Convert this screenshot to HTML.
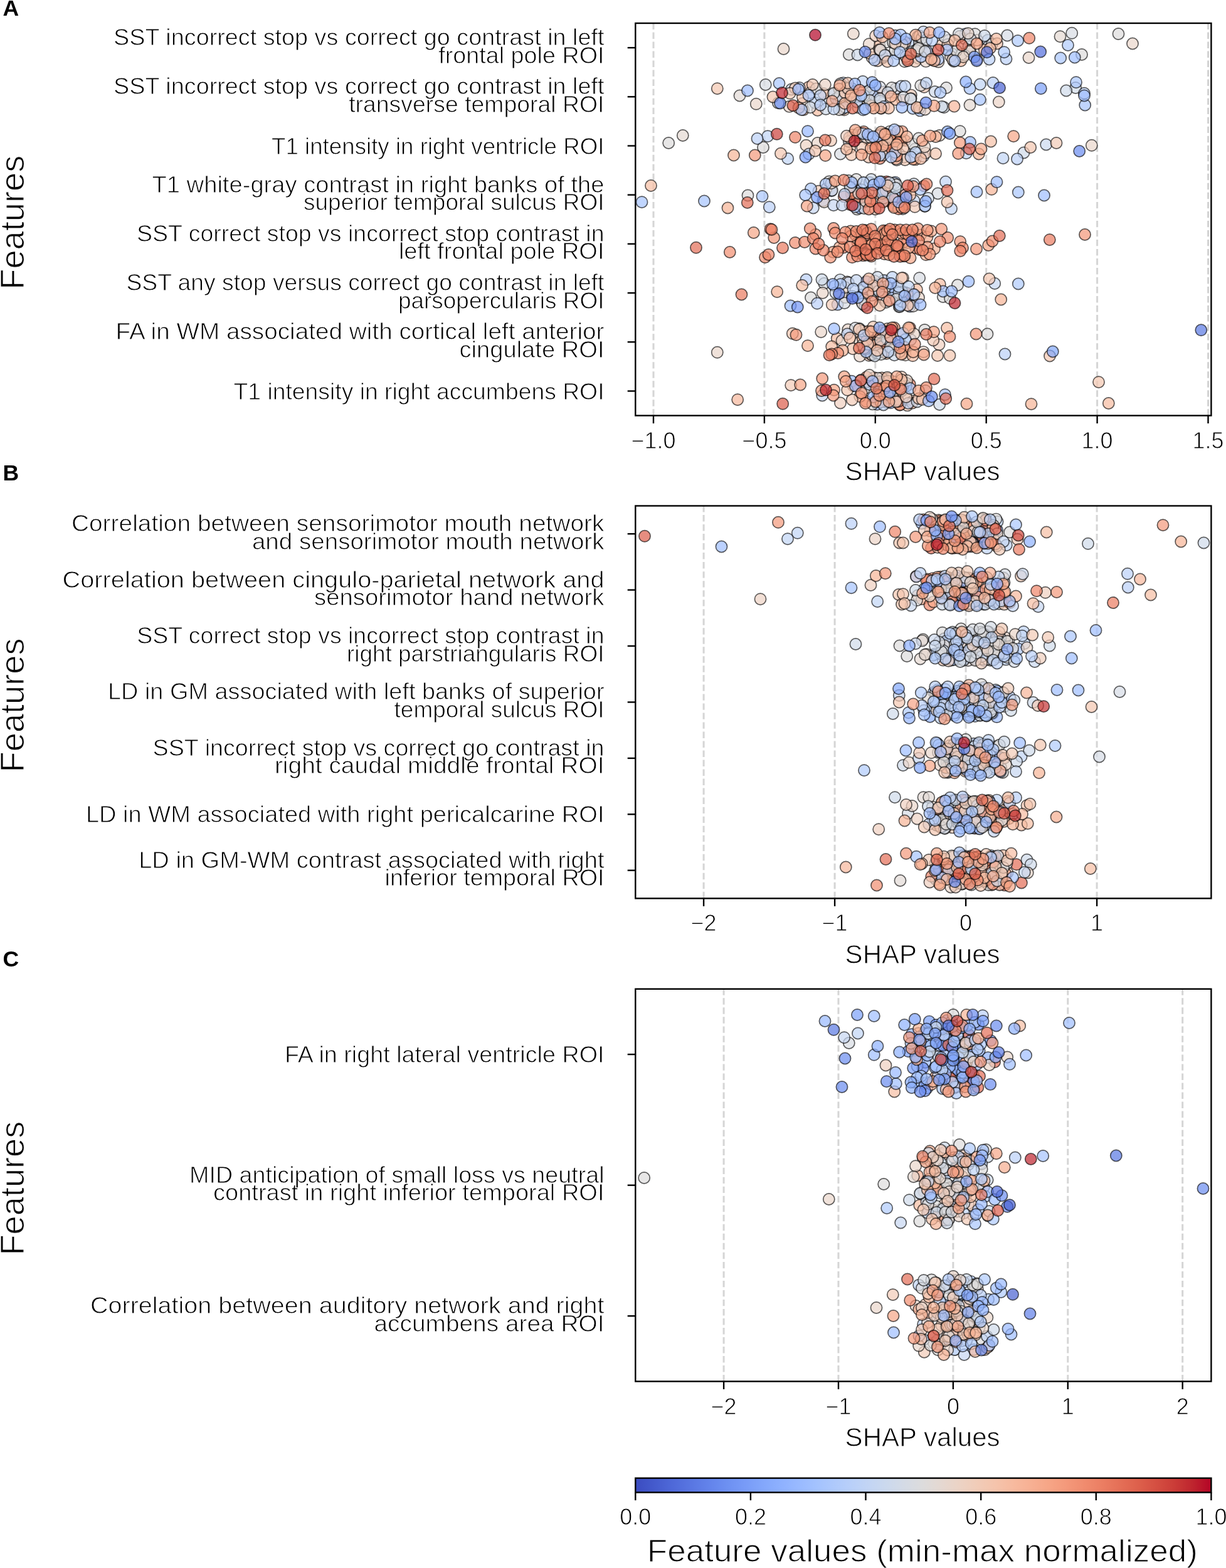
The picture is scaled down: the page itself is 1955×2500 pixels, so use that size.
<!DOCTYPE html>
<html><head><meta charset="utf-8"><title>SHAP summary</title>
<style>html,body{margin:0;padding:0;background:#fff;} svg{display:block;} body{overflow:hidden;} .t{stroke:#fff;stroke-width:0.9px;} .t2{stroke:#fff;stroke-width:1.1px;}</style>
</head><body>
<svg width="1955" height="2500" viewBox="0 0 1955 2500" font-family='"Liberation Sans", Arial, sans-serif'>
<rect width="1955" height="2500" fill="#fff"/>
<text x="4.4" y="24.6" font-size="35.5" font-weight="bold">A</text>
<text transform="translate(38.4 354.7) rotate(-90)" text-anchor="middle" font-size="53.5" textLength="214" lengthAdjust="spacingAndGlyphs" class="t2">Features</text>
<line x1="1042.0" y1="36.5" x2="1042.0" y2="662.6" stroke="#d5d5d5" stroke-width="3" stroke-dasharray="10.4 4.62"/>
<line x1="1218.9" y1="36.5" x2="1218.9" y2="662.6" stroke="#d5d5d5" stroke-width="3" stroke-dasharray="10.4 4.62"/>
<line x1="1395.8" y1="36.5" x2="1395.8" y2="662.6" stroke="#d5d5d5" stroke-width="3" stroke-dasharray="10.4 4.62"/>
<line x1="1572.7" y1="36.5" x2="1572.7" y2="662.6" stroke="#d5d5d5" stroke-width="3" stroke-dasharray="10.4 4.62"/>
<line x1="1749.6" y1="36.5" x2="1749.6" y2="662.6" stroke="#d5d5d5" stroke-width="3" stroke-dasharray="10.4 4.62"/>
<line x1="1926.5" y1="36.5" x2="1926.5" y2="662.6" stroke="#d5d5d5" stroke-width="3" stroke-dasharray="10.4 4.62"/>
<g fill-opacity="0.7" stroke="#000" stroke-opacity="0.62" stroke-width="1.7">
<circle cx="1537.9" cy="61.5" r="9.1" fill="#dddcdc"/>
<circle cx="1544.6" cy="74.1" r="9.1" fill="#cfdaea"/>
<circle cx="1402.4" cy="72.9" r="9.1" fill="#f6bda2"/>
<circle cx="1500.7" cy="72.4" r="9.1" fill="#f2cbb7"/>
<circle cx="1450.2" cy="70.1" r="9.1" fill="#c0d4f5"/>
<circle cx="1546.8" cy="80.2" r="9.1" fill="#f6bda2"/>
<circle cx="1489.2" cy="96.2" r="9.1" fill="#f6bda2"/>
<circle cx="1509.3" cy="77.2" r="9.1" fill="#cfdaea"/>
<circle cx="1479.6" cy="85.0" r="9.1" fill="#f6bda2"/>
<circle cx="1431.2" cy="85.8" r="9.1" fill="#dddcdc"/>
<circle cx="1477.6" cy="81.4" r="9.1" fill="#afcafc"/>
<circle cx="1464.6" cy="75.6" r="9.1" fill="#f2cbb7"/>
<circle cx="1407.2" cy="92.6" r="9.1" fill="#dddcdc"/>
<circle cx="1490.9" cy="94.8" r="9.1" fill="#dddcdc"/>
<circle cx="1539.4" cy="54.1" r="9.1" fill="#afcafc"/>
<circle cx="1532.2" cy="97.0" r="9.1" fill="#f6bda2"/>
<circle cx="1520.8" cy="97.8" r="9.1" fill="#dddcdc"/>
<circle cx="1465.9" cy="66.7" r="9.1" fill="#dddcdc"/>
<circle cx="1413.3" cy="67.2" r="9.1" fill="#dddcdc"/>
<circle cx="1518.6" cy="86.0" r="9.1" fill="#c0d4f5"/>
<circle cx="1454.5" cy="91.3" r="9.1" fill="#cfdaea"/>
<circle cx="1427.7" cy="56.8" r="9.1" fill="#afcafc"/>
<circle cx="1575.2" cy="64.1" r="9.1" fill="#c0d4f5"/>
<circle cx="1530.4" cy="58.0" r="9.1" fill="#f2cbb7"/>
<circle cx="1537.7" cy="87.7" r="9.1" fill="#e9d5cb"/>
<circle cx="1496.5" cy="98.6" r="9.1" fill="#e9d5cb"/>
<circle cx="1442.6" cy="98.2" r="9.1" fill="#dddcdc"/>
<circle cx="1407.4" cy="91.2" r="9.1" fill="#afcafc"/>
<circle cx="1399.6" cy="97.0" r="9.1" fill="#f2cbb7"/>
<circle cx="1464.4" cy="92.7" r="9.1" fill="#dddcdc"/>
<circle cx="1516.0" cy="90.0" r="9.1" fill="#e9d5cb"/>
<circle cx="1476.2" cy="65.8" r="9.1" fill="#dddcdc"/>
<circle cx="1512.8" cy="64.3" r="9.1" fill="#e9d5cb"/>
<circle cx="1459.5" cy="97.9" r="9.1" fill="#f2cbb7"/>
<circle cx="1558.2" cy="63.9" r="9.1" fill="#f2cbb7"/>
<circle cx="1446.7" cy="93.6" r="9.1" fill="#f6bda2"/>
<circle cx="1519.3" cy="95.5" r="9.1" fill="#e9d5cb"/>
<circle cx="1443.2" cy="67.3" r="9.1" fill="#f6bda2"/>
<circle cx="1455.0" cy="82.2" r="9.1" fill="#dddcdc"/>
<circle cx="1575.3" cy="75.0" r="9.1" fill="#dddcdc"/>
<circle cx="1427.3" cy="79.8" r="9.1" fill="#dddcdc"/>
<circle cx="1533.4" cy="86.3" r="9.1" fill="#dddcdc"/>
<circle cx="1554.7" cy="54.2" r="9.1" fill="#dddcdc"/>
<circle cx="1511.3" cy="70.9" r="9.1" fill="#f2cbb7"/>
<circle cx="1444.7" cy="90.3" r="9.1" fill="#e9d5cb"/>
<circle cx="1410.6" cy="87.2" r="9.1" fill="#f2cbb7"/>
<circle cx="1476.4" cy="97.9" r="9.1" fill="#e9d5cb"/>
<circle cx="1569.8" cy="79.6" r="9.1" fill="#f6bda2"/>
<circle cx="1463.8" cy="58.0" r="9.1" fill="#cfdaea"/>
<circle cx="1557.8" cy="95.0" r="9.1" fill="#f2cbb7"/>
<circle cx="1390.6" cy="91.8" r="9.1" fill="#e9d5cb"/>
<circle cx="1386.9" cy="85.1" r="9.1" fill="#f2cbb7"/>
<circle cx="1468.8" cy="90.5" r="9.1" fill="#afcafc"/>
<circle cx="1424.3" cy="68.0" r="9.1" fill="#dddcdc"/>
<circle cx="1402.4" cy="79.1" r="9.1" fill="#f2cbb7"/>
<circle cx="1466.2" cy="57.3" r="9.1" fill="#f6bda2"/>
<circle cx="1469.9" cy="61.0" r="9.1" fill="#dddcdc"/>
<circle cx="1462.0" cy="81.8" r="9.1" fill="#f6bda2"/>
<circle cx="1581.9" cy="70.4" r="9.1" fill="#dddcdc"/>
<circle cx="1461.4" cy="80.1" r="9.1" fill="#dddcdc"/>
<circle cx="1353.8" cy="87.0" r="9.1" fill="#dddcdc"/>
<circle cx="1403.8" cy="79.5" r="9.1" fill="#dddcdc"/>
<circle cx="1465.0" cy="77.0" r="9.1" fill="#dddcdc"/>
<circle cx="1525.0" cy="80.8" r="9.1" fill="#dddcdc"/>
<circle cx="1546.2" cy="82.0" r="9.1" fill="#dddcdc"/>
<circle cx="1725.0" cy="87.0" r="9.1" fill="#dddcdc"/>
<circle cx="1783.5" cy="54.0" r="9.1" fill="#dddcdc"/>
<circle cx="1438.8" cy="70.8" r="9.1" fill="#e2dad5"/>
<circle cx="1475.0" cy="82.0" r="9.1" fill="#d7dce3"/>
<circle cx="1477.5" cy="63.2" r="9.1" fill="#d7dce3"/>
<circle cx="1506.2" cy="59.0" r="9.1" fill="#d7dce3"/>
<circle cx="1528.8" cy="54.0" r="9.1" fill="#d7dce3"/>
<circle cx="1547.5" cy="62.0" r="9.1" fill="#d7dce3"/>
<circle cx="1709.2" cy="52.8" r="9.1" fill="#d7dce3"/>
<circle cx="1606.2" cy="56.5" r="9.1" fill="#d5dbe5"/>
<circle cx="1690.5" cy="58.2" r="9.1" fill="#e4d9d2"/>
<circle cx="1367.5" cy="87.5" r="9.1" fill="#cfdaea"/>
<circle cx="1570.0" cy="57.0" r="9.1" fill="#cfdaea"/>
<circle cx="1360.8" cy="53.8" r="9.1" fill="#e9d5cb"/>
<circle cx="1385.8" cy="70.2" r="9.1" fill="#e9d5cb"/>
<circle cx="1536.2" cy="90.8" r="9.1" fill="#e9d5cb"/>
<circle cx="1543.8" cy="53.2" r="9.1" fill="#e9d5cb"/>
<circle cx="1640.5" cy="92.0" r="9.1" fill="#e9d5cb"/>
<circle cx="1249.5" cy="78.0" r="9.1" fill="#e9d5cb"/>
<circle cx="1806.0" cy="69.5" r="9.1" fill="#e9d5cb"/>
<circle cx="1396.2" cy="57.0" r="9.1" fill="#efcfbf"/>
<circle cx="1427.5" cy="69.5" r="9.1" fill="#efcfbf"/>
<circle cx="1411.2" cy="88.2" r="9.1" fill="#c6d6f1"/>
<circle cx="1472.5" cy="50.8" r="9.1" fill="#c6d6f1"/>
<circle cx="1415.0" cy="98.2" r="9.1" fill="#f4c6af"/>
<circle cx="1486.2" cy="64.5" r="9.1" fill="#bad0f8"/>
<circle cx="1577.5" cy="94.5" r="9.1" fill="#bad0f8"/>
<circle cx="1604.5" cy="94.0" r="9.1" fill="#bad0f8"/>
<circle cx="1590.0" cy="69.5" r="9.1" fill="#f5c2aa"/>
<circle cx="1394.5" cy="95.8" r="9.1" fill="#afcafc"/>
<circle cx="1407.0" cy="59.0" r="9.1" fill="#f6bda2"/>
<circle cx="1425.0" cy="97.0" r="9.1" fill="#afcafc"/>
<circle cx="1435.0" cy="83.2" r="9.1" fill="#afcafc"/>
<circle cx="1496.2" cy="94.5" r="9.1" fill="#afcafc"/>
<circle cx="1522.5" cy="64.5" r="9.1" fill="#f6bda2"/>
<circle cx="1522.5" cy="97.0" r="9.1" fill="#afcafc"/>
<circle cx="1578.8" cy="77.0" r="9.1" fill="#f6bda2"/>
<circle cx="1588.8" cy="62.0" r="9.1" fill="#f6bda2"/>
<circle cx="1601.2" cy="83.2" r="9.1" fill="#afcafc"/>
<circle cx="1623.0" cy="65.0" r="9.1" fill="#afcafc"/>
<circle cx="1703.0" cy="72.0" r="9.1" fill="#afcafc"/>
<circle cx="1490.0" cy="97.0" r="9.1" fill="#f7ba9f"/>
<circle cx="1436.2" cy="55.8" r="9.1" fill="#a9c6fd"/>
<circle cx="1510.0" cy="79.5" r="9.1" fill="#a9c6fd"/>
<circle cx="1691.2" cy="92.5" r="9.1" fill="#a9c6fd"/>
<circle cx="1460.0" cy="55.8" r="9.1" fill="#f7b396"/>
<circle cx="1485.0" cy="94.5" r="9.1" fill="#f7b396"/>
<circle cx="1482.5" cy="52.0" r="9.1" fill="#f7ac8e"/>
<circle cx="1402.5" cy="52.0" r="9.1" fill="#9ebeff"/>
<circle cx="1427.5" cy="62.0" r="9.1" fill="#9ebeff"/>
<circle cx="1713.8" cy="91.5" r="9.1" fill="#9ebeff"/>
<circle cx="1445.0" cy="62.0" r="9.1" fill="#97b8ff"/>
<circle cx="1557.5" cy="69.5" r="9.1" fill="#f6a586"/>
<circle cx="1497.5" cy="52.0" r="9.1" fill="#8db0fe"/>
<circle cx="1417.5" cy="53.2" r="9.1" fill="#f18d6f"/>
<circle cx="1553.8" cy="90.8" r="9.1" fill="#7b9ff9"/>
<circle cx="1641.2" cy="60.8" r="9.1" fill="#ee8468"/>
<circle cx="1379.5" cy="82.8" r="9.1" fill="#6a8bef"/>
<circle cx="1447.5" cy="97.0" r="9.1" fill="#e36c55"/>
<circle cx="1452.5" cy="85.8" r="9.1" fill="#e36c55"/>
<circle cx="1533.8" cy="72.0" r="9.1" fill="#e36c55"/>
<circle cx="1557.5" cy="97.0" r="9.1" fill="#6a8bef"/>
<circle cx="1496.2" cy="79.5" r="9.1" fill="#d65244"/>
<circle cx="1573.8" cy="83.2" r="9.1" fill="#5977e3"/>
<circle cx="1659.2" cy="82.5" r="9.1" fill="#536edd"/>
<circle cx="1300.0" cy="55.8" r="9.1" fill="#b40426"/>
<circle cx="1365.5" cy="160.7" r="9.1" fill="#e9d5cb"/>
<circle cx="1344.6" cy="132.1" r="9.1" fill="#c0d4f5"/>
<circle cx="1349.5" cy="139.7" r="9.1" fill="#dddcdc"/>
<circle cx="1358.3" cy="141.3" r="9.1" fill="#afcafc"/>
<circle cx="1380.9" cy="157.5" r="9.1" fill="#e9d5cb"/>
<circle cx="1455.6" cy="173.0" r="9.1" fill="#afcafc"/>
<circle cx="1346.1" cy="175.3" r="9.1" fill="#f2cbb7"/>
<circle cx="1405.4" cy="172.7" r="9.1" fill="#f2cbb7"/>
<circle cx="1281.1" cy="175.1" r="9.1" fill="#f6bda2"/>
<circle cx="1382.0" cy="151.7" r="9.1" fill="#e9d5cb"/>
<circle cx="1368.6" cy="171.4" r="9.1" fill="#e9d5cb"/>
<circle cx="1376.7" cy="146.1" r="9.1" fill="#f7ac8e"/>
<circle cx="1403.2" cy="168.7" r="9.1" fill="#f6bda2"/>
<circle cx="1343.1" cy="166.5" r="9.1" fill="#f2cbb7"/>
<circle cx="1289.7" cy="138.9" r="9.1" fill="#f6bda2"/>
<circle cx="1327.9" cy="150.3" r="9.1" fill="#afcafc"/>
<circle cx="1388.0" cy="147.7" r="9.1" fill="#e9d5cb"/>
<circle cx="1292.3" cy="147.9" r="9.1" fill="#dddcdc"/>
<circle cx="1467.2" cy="176.4" r="9.1" fill="#afcafc"/>
<circle cx="1452.8" cy="151.6" r="9.1" fill="#f2cbb7"/>
<circle cx="1381.1" cy="154.2" r="9.1" fill="#cfdaea"/>
<circle cx="1394.7" cy="152.8" r="9.1" fill="#afcafc"/>
<circle cx="1319.7" cy="161.5" r="9.1" fill="#cfdaea"/>
<circle cx="1366.3" cy="162.5" r="9.1" fill="#c0d4f5"/>
<circle cx="1279.4" cy="165.0" r="9.1" fill="#e9d5cb"/>
<circle cx="1426.0" cy="147.3" r="9.1" fill="#f2cbb7"/>
<circle cx="1376.4" cy="175.2" r="9.1" fill="#afcafc"/>
<circle cx="1408.4" cy="146.7" r="9.1" fill="#f6bda2"/>
<circle cx="1359.4" cy="145.8" r="9.1" fill="#f6bda2"/>
<circle cx="1274.9" cy="140.0" r="9.1" fill="#c0d4f5"/>
<circle cx="1344.9" cy="154.6" r="9.1" fill="#e9d5cb"/>
<circle cx="1313.3" cy="149.2" r="9.1" fill="#f6bda2"/>
<circle cx="1258.6" cy="169.9" r="9.1" fill="#e9d5cb"/>
<circle cx="1343.7" cy="173.5" r="9.1" fill="#afcafc"/>
<circle cx="1452.7" cy="157.1" r="9.1" fill="#cfdaea"/>
<circle cx="1240.9" cy="164.2" r="9.1" fill="#dddcdc"/>
<circle cx="1377.5" cy="152.3" r="9.1" fill="#afcafc"/>
<circle cx="1273.6" cy="171.9" r="9.1" fill="#f7ac8e"/>
<circle cx="1340.0" cy="133.5" r="9.1" fill="#dddcdc"/>
<circle cx="1439.2" cy="159.7" r="9.1" fill="#f7ac8e"/>
<circle cx="1428.5" cy="158.8" r="9.1" fill="#f6bda2"/>
<circle cx="1465.7" cy="172.2" r="9.1" fill="#e9d5cb"/>
<circle cx="1386.3" cy="144.0" r="9.1" fill="#cfdaea"/>
<circle cx="1303.7" cy="175.7" r="9.1" fill="#f6bda2"/>
<circle cx="1347.8" cy="171.2" r="9.1" fill="#c0d4f5"/>
<circle cx="1473.7" cy="138.8" r="9.1" fill="#f2cbb7"/>
<circle cx="1338.3" cy="142.0" r="9.1" fill="#f2cbb7"/>
<circle cx="1301.7" cy="141.4" r="9.1" fill="#dddcdc"/>
<circle cx="1262.0" cy="142.5" r="9.1" fill="#cfdaea"/>
<circle cx="1339.4" cy="155.8" r="9.1" fill="#f2cbb7"/>
<circle cx="1333.2" cy="157.5" r="9.1" fill="#afcafc"/>
<circle cx="1428.6" cy="141.3" r="9.1" fill="#cfdaea"/>
<circle cx="1299.7" cy="163.9" r="9.1" fill="#c0d4f5"/>
<circle cx="1389.7" cy="168.5" r="9.1" fill="#f7ac8e"/>
<circle cx="1356.6" cy="156.1" r="9.1" fill="#e9d5cb"/>
<circle cx="1475.1" cy="174.5" r="9.1" fill="#e9d5cb"/>
<circle cx="1403.3" cy="161.3" r="9.1" fill="#dddcdc"/>
<circle cx="1339.1" cy="152.8" r="9.1" fill="#dddcdc"/>
<circle cx="1268.0" cy="140.5" r="9.1" fill="#f2cbb7"/>
<circle cx="1347.4" cy="147.6" r="9.1" fill="#f2cbb7"/>
<circle cx="1329.5" cy="148.8" r="9.1" fill="#dddcdc"/>
<circle cx="1387.0" cy="160.0" r="9.1" fill="#dddcdc"/>
<circle cx="1422.0" cy="140.0" r="9.1" fill="#dddcdc"/>
<circle cx="1468.2" cy="136.2" r="9.1" fill="#dddcdc"/>
<circle cx="1509.0" cy="140.0" r="9.1" fill="#dddcdc"/>
<circle cx="1179.5" cy="152.5" r="9.1" fill="#e2dad5"/>
<circle cx="1220.8" cy="135.0" r="9.1" fill="#d7dce3"/>
<circle cx="1292.0" cy="171.2" r="9.1" fill="#d7dce3"/>
<circle cx="1338.2" cy="175.0" r="9.1" fill="#e2dad5"/>
<circle cx="1440.8" cy="155.0" r="9.1" fill="#d7dce3"/>
<circle cx="1452.0" cy="157.5" r="9.1" fill="#d7dce3"/>
<circle cx="1505.2" cy="171.2" r="9.1" fill="#d7dce3"/>
<circle cx="1403.2" cy="138.8" r="9.1" fill="#d5dbe5"/>
<circle cx="1546.5" cy="167.5" r="9.1" fill="#e4d9d2"/>
<circle cx="1715.2" cy="140.0" r="9.1" fill="#d2dbe8"/>
<circle cx="1317.0" cy="173.8" r="9.1" fill="#cfdaea"/>
<circle cx="1415.8" cy="147.5" r="9.1" fill="#cfdaea"/>
<circle cx="1403.2" cy="157.5" r="9.1" fill="#cfdaea"/>
<circle cx="1490.8" cy="146.2" r="9.1" fill="#cfdaea"/>
<circle cx="1502.0" cy="170.0" r="9.1" fill="#cfdaea"/>
<circle cx="1700.2" cy="144.5" r="9.1" fill="#cfdaea"/>
<circle cx="1205.8" cy="165.8" r="9.1" fill="#e9d5cb"/>
<circle cx="1315.8" cy="135.0" r="9.1" fill="#ebd3c6"/>
<circle cx="1592.8" cy="162.5" r="9.1" fill="#ebd3c6"/>
<circle cx="1352.0" cy="141.2" r="9.1" fill="#efcfbf"/>
<circle cx="1437.0" cy="137.5" r="9.1" fill="#c6d6f1"/>
<circle cx="1259.5" cy="148.8" r="9.1" fill="#f2cbb7"/>
<circle cx="1295.8" cy="135.0" r="9.1" fill="#f2cbb7"/>
<circle cx="1308.2" cy="152.5" r="9.1" fill="#c0d4f5"/>
<circle cx="1329.5" cy="173.8" r="9.1" fill="#c0d4f5"/>
<circle cx="1375.8" cy="130.0" r="9.1" fill="#c0d4f5"/>
<circle cx="1443.2" cy="137.5" r="9.1" fill="#c0d4f5"/>
<circle cx="1477.0" cy="132.5" r="9.1" fill="#c0d4f5"/>
<circle cx="1562.8" cy="134.5" r="9.1" fill="#c0d4f5"/>
<circle cx="1143.8" cy="141.2" r="9.1" fill="#f4c6af"/>
<circle cx="1232.5" cy="154.5" r="9.1" fill="#f4c6af"/>
<circle cx="1280.0" cy="155.0" r="9.1" fill="#f4c6af"/>
<circle cx="1308.2" cy="167.5" r="9.1" fill="#bad0f8"/>
<circle cx="1352.0" cy="132.5" r="9.1" fill="#f4c6af"/>
<circle cx="1409.5" cy="170.0" r="9.1" fill="#bad0f8"/>
<circle cx="1583.5" cy="132.0" r="9.1" fill="#bad0f8"/>
<circle cx="1729.0" cy="148.8" r="9.1" fill="#bad0f8"/>
<circle cx="1278.2" cy="175.0" r="9.1" fill="#afcafc"/>
<circle cx="1289.5" cy="152.0" r="9.1" fill="#afcafc"/>
<circle cx="1373.2" cy="152.5" r="9.1" fill="#afcafc"/>
<circle cx="1417.0" cy="172.5" r="9.1" fill="#f6bda2"/>
<circle cx="1462.0" cy="171.2" r="9.1" fill="#f6bda2"/>
<circle cx="1499.5" cy="147.5" r="9.1" fill="#afcafc"/>
<circle cx="1347.0" cy="165.0" r="9.1" fill="#f7ba9f"/>
<circle cx="1404.5" cy="172.5" r="9.1" fill="#f7ba9f"/>
<circle cx="1242.5" cy="133.0" r="9.1" fill="#a9c6fd"/>
<circle cx="1546.5" cy="141.2" r="9.1" fill="#a9c6fd"/>
<circle cx="1716.0" cy="131.2" r="9.1" fill="#a9c6fd"/>
<circle cx="1521.5" cy="169.5" r="9.1" fill="#f7b79b"/>
<circle cx="1562.8" cy="158.8" r="9.1" fill="#a5c3fe"/>
<circle cx="1730.2" cy="167.5" r="9.1" fill="#a5c3fe"/>
<circle cx="1357.0" cy="152.5" r="9.1" fill="#f7b396"/>
<circle cx="1420.8" cy="153.8" r="9.1" fill="#f7b396"/>
<circle cx="1327.0" cy="161.2" r="9.1" fill="#f7ac8e"/>
<circle cx="1339.0" cy="136.2" r="9.1" fill="#f7ac8e"/>
<circle cx="1393.2" cy="172.5" r="9.1" fill="#f7ac8e"/>
<circle cx="1192.0" cy="144.5" r="9.1" fill="#9ebeff"/>
<circle cx="1273.2" cy="142.5" r="9.1" fill="#9ebeff"/>
<circle cx="1363.2" cy="133.8" r="9.1" fill="#9ebeff"/>
<circle cx="1379.5" cy="173.8" r="9.1" fill="#9ebeff"/>
<circle cx="1438.2" cy="171.2" r="9.1" fill="#9ebeff"/>
<circle cx="1729.0" cy="152.5" r="9.1" fill="#9ebeff"/>
<circle cx="1390.8" cy="131.2" r="9.1" fill="#97b8ff"/>
<circle cx="1489.5" cy="168.8" r="9.1" fill="#f6a586"/>
<circle cx="1370.8" cy="143.8" r="9.1" fill="#f4987a"/>
<circle cx="1395.8" cy="136.2" r="9.1" fill="#8db0fe"/>
<circle cx="1540.2" cy="130.5" r="9.1" fill="#8db0fe"/>
<circle cx="1659.8" cy="141.2" r="9.1" fill="#7b9ff9"/>
<circle cx="1244.0" cy="164.5" r="9.1" fill="#6a8bef"/>
<circle cx="1359.5" cy="172.5" r="9.1" fill="#e36c55"/>
<circle cx="1476.5" cy="163.8" r="9.1" fill="#6a8bef"/>
<circle cx="1264.5" cy="168.2" r="9.1" fill="#dc5d4a"/>
<circle cx="1594.0" cy="140.0" r="9.1" fill="#4961d2"/>
<circle cx="1247.0" cy="148.0" r="9.1" fill="#be242e"/>
<circle cx="1419.2" cy="209.6" r="9.1" fill="#dddcdc"/>
<circle cx="1432.2" cy="223.6" r="9.1" fill="#ee8468"/>
<circle cx="1405.7" cy="243.7" r="9.1" fill="#ee8468"/>
<circle cx="1459.7" cy="254.4" r="9.1" fill="#f7ac8e"/>
<circle cx="1427.3" cy="226.8" r="9.1" fill="#f4987a"/>
<circle cx="1385.0" cy="223.3" r="9.1" fill="#f7ac8e"/>
<circle cx="1472.3" cy="249.1" r="9.1" fill="#c0d4f5"/>
<circle cx="1443.0" cy="224.0" r="9.1" fill="#f4987a"/>
<circle cx="1418.6" cy="240.4" r="9.1" fill="#dddcdc"/>
<circle cx="1409.0" cy="238.7" r="9.1" fill="#ee8468"/>
<circle cx="1405.9" cy="225.4" r="9.1" fill="#dddcdc"/>
<circle cx="1455.8" cy="254.0" r="9.1" fill="#f7ac8e"/>
<circle cx="1410.5" cy="244.6" r="9.1" fill="#dddcdc"/>
<circle cx="1355.2" cy="235.7" r="9.1" fill="#f2cbb7"/>
<circle cx="1365.7" cy="215.8" r="9.1" fill="#f7ac8e"/>
<circle cx="1373.3" cy="213.9" r="9.1" fill="#dddcdc"/>
<circle cx="1403.1" cy="252.7" r="9.1" fill="#ee8468"/>
<circle cx="1405.3" cy="243.4" r="9.1" fill="#f7ac8e"/>
<circle cx="1360.1" cy="215.1" r="9.1" fill="#f7ac8e"/>
<circle cx="1411.8" cy="213.5" r="9.1" fill="#c0d4f5"/>
<circle cx="1410.6" cy="232.7" r="9.1" fill="#dddcdc"/>
<circle cx="1398.8" cy="247.0" r="9.1" fill="#f6bda2"/>
<circle cx="1429.0" cy="221.1" r="9.1" fill="#f7ac8e"/>
<circle cx="1368.6" cy="218.6" r="9.1" fill="#f4987a"/>
<circle cx="1381.3" cy="219.1" r="9.1" fill="#dddcdc"/>
<circle cx="1456.7" cy="248.9" r="9.1" fill="#c0d4f5"/>
<circle cx="1401.9" cy="217.3" r="9.1" fill="#f7ac8e"/>
<circle cx="1476.0" cy="243.9" r="9.1" fill="#f2cbb7"/>
<circle cx="1434.0" cy="245.7" r="9.1" fill="#c0d4f5"/>
<circle cx="1402.9" cy="224.5" r="9.1" fill="#f4987a"/>
<circle cx="1441.4" cy="250.5" r="9.1" fill="#dddcdc"/>
<circle cx="1387.9" cy="219.1" r="9.1" fill="#dddcdc"/>
<circle cx="1443.1" cy="255.0" r="9.1" fill="#f2cbb7"/>
<circle cx="1436.0" cy="224.1" r="9.1" fill="#f6bda2"/>
<circle cx="1375.2" cy="235.6" r="9.1" fill="#f2cbb7"/>
<circle cx="1432.4" cy="227.3" r="9.1" fill="#ee8468"/>
<circle cx="1355.5" cy="224.4" r="9.1" fill="#c0d4f5"/>
<circle cx="1353.8" cy="225.7" r="9.1" fill="#dddcdc"/>
<circle cx="1438.4" cy="209.6" r="9.1" fill="#f4987a"/>
<circle cx="1430.0" cy="255.2" r="9.1" fill="#dddcdc"/>
<circle cx="1419.3" cy="215.9" r="9.1" fill="#f4987a"/>
<circle cx="1427.1" cy="236.2" r="9.1" fill="#ee8468"/>
<circle cx="1415.0" cy="227.3" r="9.1" fill="#f6bda2"/>
<circle cx="1429.5" cy="235.5" r="9.1" fill="#f4987a"/>
<circle cx="1428.9" cy="253.4" r="9.1" fill="#f7ac8e"/>
<circle cx="1377.3" cy="210.0" r="9.1" fill="#f4987a"/>
<circle cx="1410.0" cy="213.3" r="9.1" fill="#f2cbb7"/>
<circle cx="1369.5" cy="211.8" r="9.1" fill="#dddcdc"/>
<circle cx="1397.0" cy="238.1" r="9.1" fill="#f6bda2"/>
<circle cx="1459.1" cy="237.6" r="9.1" fill="#dddcdc"/>
<circle cx="1429.7" cy="248.5" r="9.1" fill="#f4987a"/>
<circle cx="1354.4" cy="219.2" r="9.1" fill="#f7ac8e"/>
<circle cx="1414.4" cy="236.2" r="9.1" fill="#ee8468"/>
<circle cx="1403.6" cy="214.3" r="9.1" fill="#c0d4f5"/>
<circle cx="1407.4" cy="247.6" r="9.1" fill="#dddcdc"/>
<circle cx="1066.2" cy="228.0" r="9.1" fill="#dddcdc"/>
<circle cx="1217.0" cy="235.0" r="9.1" fill="#dddcdc"/>
<circle cx="1455.0" cy="229.2" r="9.1" fill="#dddcdc"/>
<circle cx="1465.0" cy="220.5" r="9.1" fill="#dddcdc"/>
<circle cx="1530.8" cy="209.2" r="9.1" fill="#dddcdc"/>
<circle cx="1340.0" cy="245.5" r="9.1" fill="#d7dce3"/>
<circle cx="1088.8" cy="216.0" r="9.1" fill="#e4d9d2"/>
<circle cx="1632.5" cy="243.5" r="9.1" fill="#cfdaea"/>
<circle cx="1303.8" cy="228.0" r="9.1" fill="#e9d5cb"/>
<circle cx="1474.5" cy="234.2" r="9.1" fill="#e9d5cb"/>
<circle cx="1498.2" cy="216.0" r="9.1" fill="#e9d5cb"/>
<circle cx="1740.8" cy="231.8" r="9.1" fill="#e9d5cb"/>
<circle cx="1285.5" cy="231.8" r="9.1" fill="#edd2c3"/>
<circle cx="1668.2" cy="230.5" r="9.1" fill="#cad8ef"/>
<circle cx="1350.0" cy="216.8" r="9.1" fill="#efcfbf"/>
<circle cx="1224.2" cy="217.2" r="9.1" fill="#c0d4f5"/>
<circle cx="1256.2" cy="253.0" r="9.1" fill="#c0d4f5"/>
<circle cx="1290.0" cy="245.5" r="9.1" fill="#c0d4f5"/>
<circle cx="1325.0" cy="224.2" r="9.1" fill="#f2cbb7"/>
<circle cx="1376.2" cy="213.0" r="9.1" fill="#c0d4f5"/>
<circle cx="1415.0" cy="223.0" r="9.1" fill="#f2cbb7"/>
<circle cx="1427.5" cy="243.0" r="9.1" fill="#c0d4f5"/>
<circle cx="1460.0" cy="243.0" r="9.1" fill="#c0d4f5"/>
<circle cx="1540.8" cy="244.2" r="9.1" fill="#c0d4f5"/>
<circle cx="1599.5" cy="252.2" r="9.1" fill="#c0d4f5"/>
<circle cx="1684.5" cy="228.0" r="9.1" fill="#f2cbb7"/>
<circle cx="1207.5" cy="221.0" r="9.1" fill="#bad0f8"/>
<circle cx="1245.0" cy="244.8" r="9.1" fill="#f4c6af"/>
<circle cx="1300.0" cy="240.5" r="9.1" fill="#f4c6af"/>
<circle cx="1357.5" cy="246.8" r="9.1" fill="#f4c6af"/>
<circle cx="1385.0" cy="250.5" r="9.1" fill="#f4c6af"/>
<circle cx="1402.5" cy="248.0" r="9.1" fill="#bad0f8"/>
<circle cx="1440.0" cy="236.8" r="9.1" fill="#f4c6af"/>
<circle cx="1452.5" cy="250.5" r="9.1" fill="#bad0f8"/>
<circle cx="1492.0" cy="245.0" r="9.1" fill="#f4c6af"/>
<circle cx="1622.0" cy="253.5" r="9.1" fill="#bad0f8"/>
<circle cx="1643.2" cy="235.0" r="9.1" fill="#f4c6af"/>
<circle cx="1580.0" cy="225.5" r="9.1" fill="#f5c0a7"/>
<circle cx="1350.0" cy="238.0" r="9.1" fill="#f6bda2"/>
<circle cx="1400.0" cy="216.8" r="9.1" fill="#afcafc"/>
<circle cx="1405.0" cy="210.5" r="9.1" fill="#f6bda2"/>
<circle cx="1421.2" cy="250.5" r="9.1" fill="#afcafc"/>
<circle cx="1431.2" cy="209.2" r="9.1" fill="#f6bda2"/>
<circle cx="1468.2" cy="253.0" r="9.1" fill="#f6bda2"/>
<circle cx="1407.5" cy="233.0" r="9.1" fill="#f7ba9f"/>
<circle cx="1430.0" cy="230.5" r="9.1" fill="#f7ba9f"/>
<circle cx="1446.2" cy="218.0" r="9.1" fill="#f7ba9f"/>
<circle cx="1426.2" cy="206.8" r="9.1" fill="#a9c6fd"/>
<circle cx="1170.0" cy="247.5" r="9.1" fill="#f7b396"/>
<circle cx="1492.0" cy="218.0" r="9.1" fill="#f7b396"/>
<circle cx="1560.8" cy="245.5" r="9.1" fill="#f7b396"/>
<circle cx="1388.8" cy="236.8" r="9.1" fill="#f7ac8e"/>
<circle cx="1564.5" cy="237.5" r="9.1" fill="#f7ac8e"/>
<circle cx="1383.8" cy="214.2" r="9.1" fill="#9ebeff"/>
<circle cx="1392.5" cy="218.0" r="9.1" fill="#9ebeff"/>
<circle cx="1547.0" cy="226.8" r="9.1" fill="#9ebeff"/>
<circle cx="1288.0" cy="209.2" r="9.1" fill="#97b8ff"/>
<circle cx="1316.2" cy="248.0" r="9.1" fill="#f6a586"/>
<circle cx="1363.8" cy="207.5" r="9.1" fill="#f6a586"/>
<circle cx="1373.8" cy="246.8" r="9.1" fill="#f6a586"/>
<circle cx="1411.2" cy="214.2" r="9.1" fill="#f6a586"/>
<circle cx="1470.8" cy="224.2" r="9.1" fill="#f6a586"/>
<circle cx="1483.2" cy="216.8" r="9.1" fill="#f6a586"/>
<circle cx="1616.2" cy="217.2" r="9.1" fill="#f6a586"/>
<circle cx="1530.8" cy="227.5" r="9.1" fill="#f59d7e"/>
<circle cx="1203.8" cy="247.5" r="9.1" fill="#f4987a"/>
<circle cx="1510.8" cy="210.0" r="9.1" fill="#8db0fe"/>
<circle cx="1528.2" cy="244.8" r="9.1" fill="#f4987a"/>
<circle cx="1284.5" cy="250.5" r="9.1" fill="#7b9ff9"/>
<circle cx="1514.5" cy="213.0" r="9.1" fill="#7b9ff9"/>
<circle cx="1268.0" cy="218.8" r="9.1" fill="#ee8468"/>
<circle cx="1396.2" cy="235.5" r="9.1" fill="#ee8468"/>
<circle cx="1315.8" cy="223.5" r="9.1" fill="#e8765c"/>
<circle cx="1395.0" cy="251.8" r="9.1" fill="#e36c55"/>
<circle cx="1721.2" cy="241.0" r="9.1" fill="#6a8bef"/>
<circle cx="1545.8" cy="237.5" r="9.1" fill="#dc5d4a"/>
<circle cx="1238.8" cy="213.8" r="9.1" fill="#cc403a"/>
<circle cx="1362.5" cy="225.0" r="9.1" fill="#be242e"/>
<circle cx="1325.8" cy="304.2" r="9.1" fill="#8db0fe"/>
<circle cx="1358.3" cy="297.8" r="9.1" fill="#f7ac8e"/>
<circle cx="1413.8" cy="289.6" r="9.1" fill="#d65244"/>
<circle cx="1378.9" cy="316.8" r="9.1" fill="#d65244"/>
<circle cx="1384.9" cy="305.5" r="9.1" fill="#f2cbb7"/>
<circle cx="1376.8" cy="291.8" r="9.1" fill="#cfdaea"/>
<circle cx="1427.5" cy="290.6" r="9.1" fill="#afcafc"/>
<circle cx="1395.6" cy="333.5" r="9.1" fill="#f2cbb7"/>
<circle cx="1360.3" cy="307.7" r="9.1" fill="#f2cbb7"/>
<circle cx="1361.5" cy="306.6" r="9.1" fill="#f7ac8e"/>
<circle cx="1435.7" cy="322.3" r="9.1" fill="#cfdaea"/>
<circle cx="1415.7" cy="317.2" r="9.1" fill="#f7ac8e"/>
<circle cx="1364.8" cy="297.7" r="9.1" fill="#ee8468"/>
<circle cx="1359.3" cy="323.0" r="9.1" fill="#dddcdc"/>
<circle cx="1457.3" cy="293.3" r="9.1" fill="#cfdaea"/>
<circle cx="1386.9" cy="290.9" r="9.1" fill="#8db0fe"/>
<circle cx="1353.0" cy="287.9" r="9.1" fill="#dddcdc"/>
<circle cx="1408.2" cy="304.6" r="9.1" fill="#f7ac8e"/>
<circle cx="1317.6" cy="300.9" r="9.1" fill="#f2cbb7"/>
<circle cx="1400.6" cy="293.5" r="9.1" fill="#f7ac8e"/>
<circle cx="1439.6" cy="333.2" r="9.1" fill="#dddcdc"/>
<circle cx="1363.6" cy="327.0" r="9.1" fill="#cfdaea"/>
<circle cx="1425.8" cy="292.1" r="9.1" fill="#dddcdc"/>
<circle cx="1406.0" cy="303.4" r="9.1" fill="#cfdaea"/>
<circle cx="1366.7" cy="333.6" r="9.1" fill="#dddcdc"/>
<circle cx="1366.4" cy="301.5" r="9.1" fill="#cfdaea"/>
<circle cx="1371.2" cy="331.6" r="9.1" fill="#8db0fe"/>
<circle cx="1415.7" cy="320.2" r="9.1" fill="#dddcdc"/>
<circle cx="1424.7" cy="328.4" r="9.1" fill="#f2cbb7"/>
<circle cx="1428.0" cy="313.7" r="9.1" fill="#afcafc"/>
<circle cx="1382.5" cy="315.6" r="9.1" fill="#cfdaea"/>
<circle cx="1408.4" cy="321.0" r="9.1" fill="#8db0fe"/>
<circle cx="1368.0" cy="324.8" r="9.1" fill="#dddcdc"/>
<circle cx="1444.8" cy="310.2" r="9.1" fill="#8db0fe"/>
<circle cx="1387.5" cy="320.7" r="9.1" fill="#d65244"/>
<circle cx="1366.9" cy="314.1" r="9.1" fill="#ee8468"/>
<circle cx="1443.7" cy="325.9" r="9.1" fill="#d65244"/>
<circle cx="1405.7" cy="312.1" r="9.1" fill="#f7ac8e"/>
<circle cx="1409.5" cy="315.7" r="9.1" fill="#afcafc"/>
<circle cx="1380.2" cy="320.0" r="9.1" fill="#d65244"/>
<circle cx="1322.2" cy="289.4" r="9.1" fill="#dddcdc"/>
<circle cx="1405.3" cy="289.6" r="9.1" fill="#dddcdc"/>
<circle cx="1373.8" cy="302.4" r="9.1" fill="#afcafc"/>
<circle cx="1474.7" cy="329.0" r="9.1" fill="#cfdaea"/>
<circle cx="1409.4" cy="306.6" r="9.1" fill="#cfdaea"/>
<circle cx="1444.0" cy="310.5" r="9.1" fill="#f7ac8e"/>
<circle cx="1358.1" cy="303.1" r="9.1" fill="#f2cbb7"/>
<circle cx="1378.1" cy="308.7" r="9.1" fill="#dddcdc"/>
<circle cx="1409.0" cy="303.9" r="9.1" fill="#8db0fe"/>
<circle cx="1356.7" cy="298.8" r="9.1" fill="#dddcdc"/>
<circle cx="1473.5" cy="296.5" r="9.1" fill="#d65244"/>
<circle cx="1357.5" cy="308.9" r="9.1" fill="#ee8468"/>
<circle cx="1425.2" cy="328.6" r="9.1" fill="#d65244"/>
<circle cx="1355.5" cy="326.3" r="9.1" fill="#ee8468"/>
<circle cx="1345.7" cy="313.4" r="9.1" fill="#ee8468"/>
<circle cx="1432.9" cy="333.3" r="9.1" fill="#ee8468"/>
<circle cx="1312.5" cy="320.1" r="9.1" fill="#8db0fe"/>
<circle cx="1412.5" cy="303.6" r="9.1" fill="#f7ac8e"/>
<circle cx="1429.3" cy="294.4" r="9.1" fill="#dddcdc"/>
<circle cx="1426.5" cy="317.7" r="9.1" fill="#d65244"/>
<circle cx="1192.5" cy="311.5" r="9.1" fill="#dddcdc"/>
<circle cx="1326.8" cy="303.5" r="9.1" fill="#dddcdc"/>
<circle cx="1365.5" cy="286.0" r="9.1" fill="#dddcdc"/>
<circle cx="1369.2" cy="308.5" r="9.1" fill="#dddcdc"/>
<circle cx="1378.0" cy="332.2" r="9.1" fill="#dddcdc"/>
<circle cx="1495.5" cy="308.5" r="9.1" fill="#d7dce3"/>
<circle cx="1355.5" cy="298.5" r="9.1" fill="#cfdaea"/>
<circle cx="1389.2" cy="286.0" r="9.1" fill="#cfdaea"/>
<circle cx="1418.0" cy="291.0" r="9.1" fill="#cfdaea"/>
<circle cx="1423.0" cy="314.8" r="9.1" fill="#cfdaea"/>
<circle cx="1428.0" cy="299.8" r="9.1" fill="#cfdaea"/>
<circle cx="1480.0" cy="316.0" r="9.1" fill="#cfdaea"/>
<circle cx="1314.2" cy="322.2" r="9.1" fill="#e9d5cb"/>
<circle cx="1325.5" cy="292.2" r="9.1" fill="#e9d5cb"/>
<circle cx="1380.5" cy="321.0" r="9.1" fill="#e9d5cb"/>
<circle cx="1296.8" cy="331.5" r="9.1" fill="#c6d6f1"/>
<circle cx="1329.2" cy="327.2" r="9.1" fill="#c6d6f1"/>
<circle cx="1343.0" cy="327.2" r="9.1" fill="#c6d6f1"/>
<circle cx="1406.8" cy="308.5" r="9.1" fill="#c6d6f1"/>
<circle cx="1457.5" cy="319.8" r="9.1" fill="#c6d6f1"/>
<circle cx="1305.5" cy="304.8" r="9.1" fill="#f2cbb7"/>
<circle cx="1346.8" cy="309.8" r="9.1" fill="#c0d4f5"/>
<circle cx="1376.8" cy="291.0" r="9.1" fill="#c0d4f5"/>
<circle cx="1415.5" cy="296.0" r="9.1" fill="#f2cbb7"/>
<circle cx="1458.8" cy="329.8" r="9.1" fill="#f2cbb7"/>
<circle cx="1508.0" cy="289.8" r="9.1" fill="#c0d4f5"/>
<circle cx="1517.0" cy="332.8" r="9.1" fill="#c0d4f5"/>
<circle cx="1226.8" cy="330.2" r="9.1" fill="#bad0f8"/>
<circle cx="1363.0" cy="329.8" r="9.1" fill="#bad0f8"/>
<circle cx="1510.5" cy="322.2" r="9.1" fill="#f4c6af"/>
<circle cx="1038.0" cy="296.0" r="9.1" fill="#f6bda2"/>
<circle cx="1293.0" cy="301.0" r="9.1" fill="#afcafc"/>
<circle cx="1316.8" cy="293.5" r="9.1" fill="#afcafc"/>
<circle cx="1467.5" cy="302.2" r="9.1" fill="#afcafc"/>
<circle cx="1451.2" cy="311.0" r="9.1" fill="#f6bda2"/>
<circle cx="1475.0" cy="328.5" r="9.1" fill="#afcafc"/>
<circle cx="1215.5" cy="313.0" r="9.1" fill="#a9c6fd"/>
<circle cx="1284.2" cy="311.0" r="9.1" fill="#a9c6fd"/>
<circle cx="1623.8" cy="306.5" r="9.1" fill="#a9c6fd"/>
<circle cx="1023.5" cy="322.2" r="9.1" fill="#a5c3fe"/>
<circle cx="1123.0" cy="320.5" r="9.1" fill="#a5c3fe"/>
<circle cx="1557.5" cy="306.0" r="9.1" fill="#a5c3fe"/>
<circle cx="1160.5" cy="331.5" r="9.1" fill="#f7b396"/>
<circle cx="1581.2" cy="301.8" r="9.1" fill="#f7b396"/>
<circle cx="1425.5" cy="331.0" r="9.1" fill="#f7ac8e"/>
<circle cx="1438.0" cy="331.0" r="9.1" fill="#f7ac8e"/>
<circle cx="1358.0" cy="291.0" r="9.1" fill="#9ebeff"/>
<circle cx="1393.0" cy="294.8" r="9.1" fill="#9ebeff"/>
<circle cx="1433.0" cy="322.2" r="9.1" fill="#9ebeff"/>
<circle cx="1589.5" cy="290.2" r="9.1" fill="#9ebeff"/>
<circle cx="1665.0" cy="311.5" r="9.1" fill="#9ebeff"/>
<circle cx="1286.8" cy="328.5" r="9.1" fill="#f6a586"/>
<circle cx="1331.8" cy="288.5" r="9.1" fill="#f6a586"/>
<circle cx="1408.0" cy="322.2" r="9.1" fill="#f6a586"/>
<circle cx="1403.0" cy="289.8" r="9.1" fill="#8db0fe"/>
<circle cx="1456.2" cy="297.2" r="9.1" fill="#f4987a"/>
<circle cx="1476.2" cy="321.0" r="9.1" fill="#8db0fe"/>
<circle cx="1477.5" cy="293.5" r="9.1" fill="#f18d6f"/>
<circle cx="1303.0" cy="314.8" r="9.1" fill="#7b9ff9"/>
<circle cx="1445.0" cy="314.8" r="9.1" fill="#7b9ff9"/>
<circle cx="1345.5" cy="287.2" r="9.1" fill="#ee8468"/>
<circle cx="1385.5" cy="333.5" r="9.1" fill="#ee8468"/>
<circle cx="1388.0" cy="321.0" r="9.1" fill="#ee8468"/>
<circle cx="1442.5" cy="331.0" r="9.1" fill="#ee8468"/>
<circle cx="1191.8" cy="323.0" r="9.1" fill="#e36c55"/>
<circle cx="1314.2" cy="308.5" r="9.1" fill="#e36c55"/>
<circle cx="1390.5" cy="307.2" r="9.1" fill="#e36c55"/>
<circle cx="1510.5" cy="303.5" r="9.1" fill="#e36c55"/>
<circle cx="1374.2" cy="308.5" r="9.1" fill="#dc5d4a"/>
<circle cx="1447.5" cy="296.0" r="9.1" fill="#dc5d4a"/>
<circle cx="1401.8" cy="332.2" r="9.1" fill="#d65244"/>
<circle cx="1359.2" cy="327.2" r="9.1" fill="#c53334"/>
<circle cx="1394.3" cy="396.6" r="9.1" fill="#f4987a"/>
<circle cx="1420.1" cy="382.0" r="9.1" fill="#f6a586"/>
<circle cx="1411.6" cy="368.3" r="9.1" fill="#f7ac8e"/>
<circle cx="1423.5" cy="388.6" r="9.1" fill="#f7b396"/>
<circle cx="1375.1" cy="396.6" r="9.1" fill="#f4987a"/>
<circle cx="1410.5" cy="405.1" r="9.1" fill="#f4987a"/>
<circle cx="1378.6" cy="368.4" r="9.1" fill="#f7ac8e"/>
<circle cx="1446.5" cy="387.2" r="9.1" fill="#f6a586"/>
<circle cx="1359.0" cy="410.3" r="9.1" fill="#f18d6f"/>
<circle cx="1345.1" cy="394.6" r="9.1" fill="#ee8468"/>
<circle cx="1364.4" cy="375.0" r="9.1" fill="#ee8468"/>
<circle cx="1376.7" cy="407.4" r="9.1" fill="#f18d6f"/>
<circle cx="1410.7" cy="385.4" r="9.1" fill="#f4987a"/>
<circle cx="1393.7" cy="378.5" r="9.1" fill="#f6a586"/>
<circle cx="1408.5" cy="367.7" r="9.1" fill="#f18d6f"/>
<circle cx="1460.2" cy="395.4" r="9.1" fill="#f18d6f"/>
<circle cx="1468.1" cy="374.6" r="9.1" fill="#f6a586"/>
<circle cx="1426.7" cy="366.5" r="9.1" fill="#ee8468"/>
<circle cx="1396.3" cy="381.0" r="9.1" fill="#f7ac8e"/>
<circle cx="1451.6" cy="411.2" r="9.1" fill="#f6a586"/>
<circle cx="1381.3" cy="385.9" r="9.1" fill="#ee8468"/>
<circle cx="1440.5" cy="386.3" r="9.1" fill="#f18d6f"/>
<circle cx="1384.7" cy="392.0" r="9.1" fill="#f6a586"/>
<circle cx="1390.3" cy="390.1" r="9.1" fill="#f6a586"/>
<circle cx="1453.8" cy="373.9" r="9.1" fill="#f4987a"/>
<circle cx="1412.5" cy="375.5" r="9.1" fill="#f6a586"/>
<circle cx="1380.2" cy="367.2" r="9.1" fill="#f7ac8e"/>
<circle cx="1367.6" cy="387.1" r="9.1" fill="#f6a586"/>
<circle cx="1428.5" cy="396.4" r="9.1" fill="#f7b396"/>
<circle cx="1417.9" cy="399.7" r="9.1" fill="#f7b396"/>
<circle cx="1338.7" cy="394.4" r="9.1" fill="#f7ac8e"/>
<circle cx="1402.9" cy="397.0" r="9.1" fill="#f4987a"/>
<circle cx="1356.5" cy="368.5" r="9.1" fill="#f6a586"/>
<circle cx="1375.1" cy="404.3" r="9.1" fill="#f18d6f"/>
<circle cx="1401.2" cy="382.0" r="9.1" fill="#f7b396"/>
<circle cx="1372.3" cy="398.4" r="9.1" fill="#ee8468"/>
<circle cx="1367.3" cy="408.3" r="9.1" fill="#ee8468"/>
<circle cx="1433.1" cy="393.8" r="9.1" fill="#f4987a"/>
<circle cx="1478.5" cy="377.9" r="9.1" fill="#f7ac8e"/>
<circle cx="1467.3" cy="398.3" r="9.1" fill="#ee8468"/>
<circle cx="1476.6" cy="406.3" r="9.1" fill="#f7ac8e"/>
<circle cx="1417.8" cy="406.3" r="9.1" fill="#f6a586"/>
<circle cx="1437.8" cy="372.3" r="9.1" fill="#f4987a"/>
<circle cx="1443.5" cy="371.8" r="9.1" fill="#f7ac8e"/>
<circle cx="1371.9" cy="388.1" r="9.1" fill="#f18d6f"/>
<circle cx="1328.4" cy="401.9" r="9.1" fill="#f6a586"/>
<circle cx="1419.8" cy="373.3" r="9.1" fill="#f18d6f"/>
<circle cx="1448.7" cy="374.6" r="9.1" fill="#f18d6f"/>
<circle cx="1441.2" cy="408.4" r="9.1" fill="#f4987a"/>
<circle cx="1389.3" cy="408.6" r="9.1" fill="#f18d6f"/>
<circle cx="1438.7" cy="406.8" r="9.1" fill="#f18d6f"/>
<circle cx="1381.0" cy="404.7" r="9.1" fill="#ee8468"/>
<circle cx="1410.5" cy="372.8" r="9.1" fill="#f6a586"/>
<circle cx="1414.8" cy="368.5" r="9.1" fill="#f4987a"/>
<circle cx="1381.8" cy="406.6" r="9.1" fill="#ee8468"/>
<circle cx="1490.0" cy="396.5" r="9.1" fill="#f7b396"/>
<circle cx="1485.0" cy="368.5" r="9.1" fill="#f7ac8e"/>
<circle cx="1448.8" cy="395.2" r="9.1" fill="#f7ac8e"/>
<circle cx="1201.8" cy="371.0" r="9.1" fill="#f6a586"/>
<circle cx="1576.2" cy="391.0" r="9.1" fill="#f6a586"/>
<circle cx="1234.2" cy="379.0" r="9.1" fill="#f4987a"/>
<circle cx="1300.5" cy="374.0" r="9.1" fill="#f4987a"/>
<circle cx="1463.8" cy="364.5" r="9.1" fill="#f4987a"/>
<circle cx="1478.8" cy="367.0" r="9.1" fill="#f4987a"/>
<circle cx="1501.2" cy="365.2" r="9.1" fill="#f4987a"/>
<circle cx="1478.8" cy="394.0" r="9.1" fill="#f4987a"/>
<circle cx="1482.5" cy="405.2" r="9.1" fill="#f4987a"/>
<circle cx="1531.2" cy="385.2" r="9.1" fill="#f4987a"/>
<circle cx="1324.2" cy="410.2" r="9.1" fill="#f39577"/>
<circle cx="1356.8" cy="376.5" r="9.1" fill="#f39577"/>
<circle cx="1557.0" cy="397.0" r="9.1" fill="#f39577"/>
<circle cx="1730.0" cy="374.0" r="9.1" fill="#f39577"/>
<circle cx="1163.8" cy="402.0" r="9.1" fill="#f18d6f"/>
<circle cx="1220.0" cy="410.2" r="9.1" fill="#f18d6f"/>
<circle cx="1268.0" cy="387.0" r="9.1" fill="#f18d6f"/>
<circle cx="1283.0" cy="386.0" r="9.1" fill="#f18d6f"/>
<circle cx="1291.8" cy="364.5" r="9.1" fill="#f18d6f"/>
<circle cx="1329.2" cy="364.0" r="9.1" fill="#f18d6f"/>
<circle cx="1331.8" cy="371.5" r="9.1" fill="#f18d6f"/>
<circle cx="1335.5" cy="401.5" r="9.1" fill="#f18d6f"/>
<circle cx="1348.0" cy="370.2" r="9.1" fill="#f18d6f"/>
<circle cx="1355.5" cy="394.0" r="9.1" fill="#f18d6f"/>
<circle cx="1365.5" cy="369.0" r="9.1" fill="#f18d6f"/>
<circle cx="1435.5" cy="366.5" r="9.1" fill="#f18d6f"/>
<circle cx="1511.2" cy="379.0" r="9.1" fill="#f18d6f"/>
<circle cx="1582.5" cy="384.5" r="9.1" fill="#f18d6f"/>
<circle cx="1228.5" cy="365.2" r="9.1" fill="#ee8468"/>
<circle cx="1230.5" cy="366.0" r="9.1" fill="#ee8468"/>
<circle cx="1225.5" cy="406.0" r="9.1" fill="#ee8468"/>
<circle cx="1296.8" cy="380.2" r="9.1" fill="#ee8468"/>
<circle cx="1300.5" cy="396.5" r="9.1" fill="#ee8468"/>
<circle cx="1313.0" cy="399.0" r="9.1" fill="#ee8468"/>
<circle cx="1343.0" cy="380.2" r="9.1" fill="#ee8468"/>
<circle cx="1373.0" cy="386.5" r="9.1" fill="#ee8468"/>
<circle cx="1383.0" cy="371.5" r="9.1" fill="#ee8468"/>
<circle cx="1389.2" cy="365.2" r="9.1" fill="#ee8468"/>
<circle cx="1395.5" cy="376.5" r="9.1" fill="#ee8468"/>
<circle cx="1405.5" cy="391.5" r="9.1" fill="#ee8468"/>
<circle cx="1415.5" cy="384.0" r="9.1" fill="#ee8468"/>
<circle cx="1419.2" cy="365.2" r="9.1" fill="#ee8468"/>
<circle cx="1423.0" cy="374.0" r="9.1" fill="#ee8468"/>
<circle cx="1435.5" cy="409.0" r="9.1" fill="#ee8468"/>
<circle cx="1445.0" cy="366.5" r="9.1" fill="#ee8468"/>
<circle cx="1455.0" cy="366.5" r="9.1" fill="#ee8468"/>
<circle cx="1465.0" cy="384.0" r="9.1" fill="#ee8468"/>
<circle cx="1442.5" cy="407.8" r="9.1" fill="#ee8468"/>
<circle cx="1471.2" cy="399.0" r="9.1" fill="#ee8468"/>
<circle cx="1498.8" cy="385.2" r="9.1" fill="#ee8468"/>
<circle cx="1535.0" cy="395.2" r="9.1" fill="#ee8468"/>
<circle cx="1531.2" cy="400.2" r="9.1" fill="#ee8468"/>
<circle cx="1248.0" cy="395.2" r="9.1" fill="#ea7b60"/>
<circle cx="1305.5" cy="389.0" r="9.1" fill="#ea7b60"/>
<circle cx="1364.2" cy="400.2" r="9.1" fill="#ea7b60"/>
<circle cx="1375.5" cy="366.5" r="9.1" fill="#ea7b60"/>
<circle cx="1388.0" cy="406.5" r="9.1" fill="#ea7b60"/>
<circle cx="1395.5" cy="389.0" r="9.1" fill="#ea7b60"/>
<circle cx="1399.2" cy="404.0" r="9.1" fill="#ea7b60"/>
<circle cx="1413.0" cy="399.0" r="9.1" fill="#ea7b60"/>
<circle cx="1425.5" cy="409.0" r="9.1" fill="#ea7b60"/>
<circle cx="1430.5" cy="391.5" r="9.1" fill="#ea7b60"/>
<circle cx="1673.8" cy="382.2" r="9.1" fill="#ea7b60"/>
<circle cx="1380.5" cy="397.8" r="9.1" fill="#e8765c"/>
<circle cx="1110.0" cy="394.8" r="9.1" fill="#e36c55"/>
<circle cx="1593.8" cy="376.0" r="9.1" fill="#e36c55"/>
<circle cx="1453.8" cy="385.2" r="9.1" fill="#536edd"/>
<circle cx="1435.0" cy="481.6" r="9.1" fill="#cfdaea"/>
<circle cx="1433.7" cy="471.1" r="9.1" fill="#9ebeff"/>
<circle cx="1461.9" cy="461.8" r="9.1" fill="#f6bda2"/>
<circle cx="1427.3" cy="474.6" r="9.1" fill="#c0d4f5"/>
<circle cx="1339.7" cy="446.1" r="9.1" fill="#cfdaea"/>
<circle cx="1377.5" cy="461.3" r="9.1" fill="#dddcdc"/>
<circle cx="1351.1" cy="449.4" r="9.1" fill="#e9d5cb"/>
<circle cx="1391.6" cy="451.3" r="9.1" fill="#cfdaea"/>
<circle cx="1455.7" cy="482.5" r="9.1" fill="#7b9ff9"/>
<circle cx="1388.4" cy="462.0" r="9.1" fill="#e9d5cb"/>
<circle cx="1335.6" cy="485.6" r="9.1" fill="#9ebeff"/>
<circle cx="1433.7" cy="489.3" r="9.1" fill="#dddcdc"/>
<circle cx="1390.1" cy="470.9" r="9.1" fill="#cfdaea"/>
<circle cx="1411.3" cy="448.8" r="9.1" fill="#e9d5cb"/>
<circle cx="1374.1" cy="481.6" r="9.1" fill="#f6bda2"/>
<circle cx="1347.9" cy="474.2" r="9.1" fill="#e9d5cb"/>
<circle cx="1453.0" cy="480.4" r="9.1" fill="#c0d4f5"/>
<circle cx="1443.1" cy="466.2" r="9.1" fill="#c0d4f5"/>
<circle cx="1402.7" cy="460.8" r="9.1" fill="#c0d4f5"/>
<circle cx="1410.3" cy="479.4" r="9.1" fill="#e9d5cb"/>
<circle cx="1409.8" cy="447.0" r="9.1" fill="#c0d4f5"/>
<circle cx="1379.6" cy="486.2" r="9.1" fill="#f4987a"/>
<circle cx="1401.7" cy="464.4" r="9.1" fill="#afcafc"/>
<circle cx="1419.0" cy="477.9" r="9.1" fill="#dddcdc"/>
<circle cx="1434.8" cy="485.3" r="9.1" fill="#cfdaea"/>
<circle cx="1455.7" cy="469.4" r="9.1" fill="#7b9ff9"/>
<circle cx="1430.2" cy="456.6" r="9.1" fill="#f6bda2"/>
<circle cx="1379.3" cy="487.7" r="9.1" fill="#afcafc"/>
<circle cx="1446.9" cy="467.7" r="9.1" fill="#f4987a"/>
<circle cx="1400.2" cy="453.9" r="9.1" fill="#7b9ff9"/>
<circle cx="1408.0" cy="475.5" r="9.1" fill="#f6bda2"/>
<circle cx="1412.4" cy="462.8" r="9.1" fill="#dddcdc"/>
<circle cx="1409.8" cy="467.3" r="9.1" fill="#afcafc"/>
<circle cx="1434.9" cy="488.9" r="9.1" fill="#cfdaea"/>
<circle cx="1436.0" cy="466.2" r="9.1" fill="#dddcdc"/>
<circle cx="1430.7" cy="458.2" r="9.1" fill="#cfdaea"/>
<circle cx="1381.8" cy="450.0" r="9.1" fill="#f4987a"/>
<circle cx="1416.7" cy="462.5" r="9.1" fill="#dddcdc"/>
<circle cx="1438.3" cy="480.6" r="9.1" fill="#dddcdc"/>
<circle cx="1374.5" cy="470.1" r="9.1" fill="#7b9ff9"/>
<circle cx="1347.7" cy="458.3" r="9.1" fill="#e9d5cb"/>
<circle cx="1330.9" cy="456.2" r="9.1" fill="#c0d4f5"/>
<circle cx="1392.5" cy="455.9" r="9.1" fill="#f6bda2"/>
<circle cx="1414.0" cy="456.6" r="9.1" fill="#dddcdc"/>
<circle cx="1400.8" cy="461.4" r="9.1" fill="#e9d5cb"/>
<circle cx="1450.9" cy="488.6" r="9.1" fill="#9ebeff"/>
<circle cx="1413.9" cy="479.5" r="9.1" fill="#c0d4f5"/>
<circle cx="1378.3" cy="478.3" r="9.1" fill="#dddcdc"/>
<circle cx="1438.9" cy="465.5" r="9.1" fill="#dddcdc"/>
<circle cx="1332.5" cy="466.9" r="9.1" fill="#cfdaea"/>
<circle cx="1406.3" cy="473.7" r="9.1" fill="#f4987a"/>
<circle cx="1394.4" cy="447.9" r="9.1" fill="#f6bda2"/>
<circle cx="1399.5" cy="454.8" r="9.1" fill="#c0d4f5"/>
<circle cx="1381.5" cy="448.7" r="9.1" fill="#9ebeff"/>
<circle cx="1427.9" cy="464.1" r="9.1" fill="#9ebeff"/>
<circle cx="1409.2" cy="474.1" r="9.1" fill="#cfdaea"/>
<circle cx="1422.7" cy="475.3" r="9.1" fill="#c0d4f5"/>
<circle cx="1358.9" cy="472.4" r="9.1" fill="#9ebeff"/>
<circle cx="1433.5" cy="466.8" r="9.1" fill="#cfdaea"/>
<circle cx="1401.3" cy="463.9" r="9.1" fill="#cfdaea"/>
<circle cx="1293.0" cy="474.5" r="9.1" fill="#dddcdc"/>
<circle cx="1375.5" cy="484.5" r="9.1" fill="#dddcdc"/>
<circle cx="1413.0" cy="482.0" r="9.1" fill="#dddcdc"/>
<circle cx="1429.2" cy="477.0" r="9.1" fill="#dddcdc"/>
<circle cx="1503.8" cy="473.2" r="9.1" fill="#dddcdc"/>
<circle cx="1515.0" cy="475.8" r="9.1" fill="#dddcdc"/>
<circle cx="1527.0" cy="454.5" r="9.1" fill="#dddcdc"/>
<circle cx="1314.2" cy="452.0" r="9.1" fill="#d7dce3"/>
<circle cx="1346.8" cy="483.2" r="9.1" fill="#d7dce3"/>
<circle cx="1466.2" cy="443.2" r="9.1" fill="#d7dce3"/>
<circle cx="1456.2" cy="488.2" r="9.1" fill="#e2dad5"/>
<circle cx="1310.5" cy="445.8" r="9.1" fill="#cfdaea"/>
<circle cx="1399.2" cy="442.0" r="9.1" fill="#cfdaea"/>
<circle cx="1311.8" cy="467.0" r="9.1" fill="#e9d5cb"/>
<circle cx="1465.0" cy="474.5" r="9.1" fill="#e9d5cb"/>
<circle cx="1440.0" cy="443.2" r="9.1" fill="#efcfbf"/>
<circle cx="1353.0" cy="450.8" r="9.1" fill="#c6d6f1"/>
<circle cx="1365.5" cy="447.0" r="9.1" fill="#c6d6f1"/>
<circle cx="1586.2" cy="452.0" r="9.1" fill="#c6d6f1"/>
<circle cx="1326.8" cy="485.8" r="9.1" fill="#f2cbb7"/>
<circle cx="1376.8" cy="458.2" r="9.1" fill="#c0d4f5"/>
<circle cx="1393.0" cy="455.8" r="9.1" fill="#f2cbb7"/>
<circle cx="1423.0" cy="442.0" r="9.1" fill="#c0d4f5"/>
<circle cx="1433.0" cy="457.0" r="9.1" fill="#c0d4f5"/>
<circle cx="1438.0" cy="443.2" r="9.1" fill="#f2cbb7"/>
<circle cx="1448.8" cy="457.0" r="9.1" fill="#c0d4f5"/>
<circle cx="1285.5" cy="445.8" r="9.1" fill="#bad0f8"/>
<circle cx="1303.0" cy="483.8" r="9.1" fill="#bad0f8"/>
<circle cx="1360.5" cy="460.8" r="9.1" fill="#bad0f8"/>
<circle cx="1403.0" cy="487.0" r="9.1" fill="#f4c6af"/>
<circle cx="1457.5" cy="469.5" r="9.1" fill="#bad0f8"/>
<circle cx="1447.5" cy="487.0" r="9.1" fill="#f4c6af"/>
<circle cx="1577.5" cy="444.5" r="9.1" fill="#f4c6af"/>
<circle cx="1279.2" cy="455.0" r="9.1" fill="#f6bda2"/>
<circle cx="1340.5" cy="453.2" r="9.1" fill="#afcafc"/>
<circle cx="1385.5" cy="444.5" r="9.1" fill="#f6bda2"/>
<circle cx="1435.5" cy="487.0" r="9.1" fill="#afcafc"/>
<circle cx="1498.8" cy="453.2" r="9.1" fill="#f6bda2"/>
<circle cx="1623.8" cy="452.5" r="9.1" fill="#afcafc"/>
<circle cx="1503.8" cy="464.5" r="9.1" fill="#a5c3fe"/>
<circle cx="1239.2" cy="465.2" r="9.1" fill="#f7b396"/>
<circle cx="1491.2" cy="459.0" r="9.1" fill="#f7b396"/>
<circle cx="1596.2" cy="477.5" r="9.1" fill="#f7b396"/>
<circle cx="1260.5" cy="487.5" r="9.1" fill="#9ebeff"/>
<circle cx="1368.0" cy="474.5" r="9.1" fill="#9ebeff"/>
<circle cx="1420.5" cy="452.0" r="9.1" fill="#9ebeff"/>
<circle cx="1442.5" cy="472.0" r="9.1" fill="#9ebeff"/>
<circle cx="1467.5" cy="485.8" r="9.1" fill="#9ebeff"/>
<circle cx="1517.5" cy="464.5" r="9.1" fill="#9ebeff"/>
<circle cx="1544.5" cy="448.8" r="9.1" fill="#9ebeff"/>
<circle cx="1328.0" cy="453.2" r="9.1" fill="#97b8ff"/>
<circle cx="1384.2" cy="467.0" r="9.1" fill="#f6a586"/>
<circle cx="1408.0" cy="452.0" r="9.1" fill="#f6a586"/>
<circle cx="1406.8" cy="465.8" r="9.1" fill="#f4987a"/>
<circle cx="1418.0" cy="479.5" r="9.1" fill="#f4987a"/>
<circle cx="1390.5" cy="480.8" r="9.1" fill="#f18d6f"/>
<circle cx="1182.5" cy="469.5" r="9.1" fill="#ea7b60"/>
<circle cx="1271.8" cy="489.5" r="9.1" fill="#7597f6"/>
<circle cx="1338.0" cy="468.2" r="9.1" fill="#5977e3"/>
<circle cx="1383.0" cy="490.8" r="9.1" fill="#d65244"/>
<circle cx="1359.2" cy="475.8" r="9.1" fill="#536edd"/>
<circle cx="1522.5" cy="483.2" r="9.1" fill="#be242e"/>
<circle cx="1399.7" cy="534.3" r="9.1" fill="#dddcdc"/>
<circle cx="1385.8" cy="566.8" r="9.1" fill="#f2cbb7"/>
<circle cx="1390.8" cy="545.2" r="9.1" fill="#ee8468"/>
<circle cx="1452.2" cy="541.6" r="9.1" fill="#c0d4f5"/>
<circle cx="1395.2" cy="535.0" r="9.1" fill="#f4987a"/>
<circle cx="1396.1" cy="546.8" r="9.1" fill="#f7ac8e"/>
<circle cx="1402.3" cy="558.7" r="9.1" fill="#e9d5cb"/>
<circle cx="1449.8" cy="525.2" r="9.1" fill="#ee8468"/>
<circle cx="1474.5" cy="525.9" r="9.1" fill="#dddcdc"/>
<circle cx="1371.1" cy="567.9" r="9.1" fill="#e9d5cb"/>
<circle cx="1388.6" cy="564.9" r="9.1" fill="#f2cbb7"/>
<circle cx="1334.7" cy="539.5" r="9.1" fill="#f6bda2"/>
<circle cx="1373.6" cy="534.4" r="9.1" fill="#f2cbb7"/>
<circle cx="1352.2" cy="525.5" r="9.1" fill="#e9d5cb"/>
<circle cx="1443.7" cy="559.5" r="9.1" fill="#f7ac8e"/>
<circle cx="1417.6" cy="543.1" r="9.1" fill="#f4987a"/>
<circle cx="1426.0" cy="522.5" r="9.1" fill="#f4987a"/>
<circle cx="1419.2" cy="538.3" r="9.1" fill="#c0d4f5"/>
<circle cx="1371.4" cy="545.0" r="9.1" fill="#e9d5cb"/>
<circle cx="1435.8" cy="533.5" r="9.1" fill="#f6bda2"/>
<circle cx="1380.0" cy="537.1" r="9.1" fill="#ee8468"/>
<circle cx="1413.5" cy="563.8" r="9.1" fill="#f6bda2"/>
<circle cx="1443.8" cy="566.3" r="9.1" fill="#e9d5cb"/>
<circle cx="1370.5" cy="524.0" r="9.1" fill="#dddcdc"/>
<circle cx="1409.7" cy="562.0" r="9.1" fill="#f6bda2"/>
<circle cx="1392.1" cy="549.9" r="9.1" fill="#f4987a"/>
<circle cx="1394.2" cy="553.0" r="9.1" fill="#f2cbb7"/>
<circle cx="1375.9" cy="540.3" r="9.1" fill="#f6bda2"/>
<circle cx="1390.1" cy="565.5" r="9.1" fill="#e9d5cb"/>
<circle cx="1379.4" cy="557.0" r="9.1" fill="#ee8468"/>
<circle cx="1377.6" cy="555.3" r="9.1" fill="#f4987a"/>
<circle cx="1455.5" cy="567.3" r="9.1" fill="#f6bda2"/>
<circle cx="1386.6" cy="527.7" r="9.1" fill="#f7ac8e"/>
<circle cx="1389.5" cy="548.3" r="9.1" fill="#dddcdc"/>
<circle cx="1390.0" cy="550.8" r="9.1" fill="#ee8468"/>
<circle cx="1404.6" cy="557.5" r="9.1" fill="#f4987a"/>
<circle cx="1378.1" cy="555.0" r="9.1" fill="#f7ac8e"/>
<circle cx="1394.1" cy="550.9" r="9.1" fill="#f6bda2"/>
<circle cx="1375.0" cy="550.2" r="9.1" fill="#dddcdc"/>
<circle cx="1382.2" cy="542.2" r="9.1" fill="#f4987a"/>
<circle cx="1437.1" cy="564.0" r="9.1" fill="#f2cbb7"/>
<circle cx="1404.5" cy="548.4" r="9.1" fill="#ee8468"/>
<circle cx="1374.6" cy="527.8" r="9.1" fill="#dddcdc"/>
<circle cx="1434.5" cy="560.7" r="9.1" fill="#f2cbb7"/>
<circle cx="1472.6" cy="561.1" r="9.1" fill="#e9d5cb"/>
<circle cx="1398.3" cy="563.6" r="9.1" fill="#f2cbb7"/>
<circle cx="1408.7" cy="550.7" r="9.1" fill="#dddcdc"/>
<circle cx="1415.9" cy="529.6" r="9.1" fill="#dddcdc"/>
<circle cx="1404.9" cy="553.2" r="9.1" fill="#ee8468"/>
<circle cx="1414.7" cy="541.2" r="9.1" fill="#c0d4f5"/>
<circle cx="1415.0" cy="524.3" r="9.1" fill="#f6bda2"/>
<circle cx="1400.5" cy="529.5" r="9.1" fill="#f4987a"/>
<circle cx="1384.0" cy="528.4" r="9.1" fill="#f6bda2"/>
<circle cx="1410.0" cy="561.4" r="9.1" fill="#f7ac8e"/>
<circle cx="1406.8" cy="526.9" r="9.1" fill="#ee8468"/>
<circle cx="1433.6" cy="551.2" r="9.1" fill="#f7ac8e"/>
<circle cx="1399.9" cy="562.7" r="9.1" fill="#c0d4f5"/>
<circle cx="1424.1" cy="557.8" r="9.1" fill="#e9d5cb"/>
<circle cx="1442.1" cy="553.3" r="9.1" fill="#f4987a"/>
<circle cx="1450.9" cy="522.6" r="9.1" fill="#f4987a"/>
<circle cx="1405.0" cy="565.0" r="9.1" fill="#dddcdc"/>
<circle cx="1412.5" cy="530.0" r="9.1" fill="#dddcdc"/>
<circle cx="1574.5" cy="532.5" r="9.1" fill="#dddcdc"/>
<circle cx="1363.8" cy="523.0" r="9.1" fill="#d7dce3"/>
<circle cx="1403.8" cy="542.5" r="9.1" fill="#e2dad5"/>
<circle cx="1420.0" cy="553.8" r="9.1" fill="#e2dad5"/>
<circle cx="1395.0" cy="567.5" r="9.1" fill="#cfdaea"/>
<circle cx="1426.2" cy="566.2" r="9.1" fill="#cfdaea"/>
<circle cx="1143.8" cy="561.8" r="9.1" fill="#e9d5cb"/>
<circle cx="1309.2" cy="529.2" r="9.1" fill="#e9d5cb"/>
<circle cx="1342.5" cy="543.0" r="9.1" fill="#e9d5cb"/>
<circle cx="1457.5" cy="532.5" r="9.1" fill="#e9d5cb"/>
<circle cx="1383.8" cy="548.8" r="9.1" fill="#efcfbf"/>
<circle cx="1497.5" cy="549.5" r="9.1" fill="#efcfbf"/>
<circle cx="1351.2" cy="532.5" r="9.1" fill="#c0d4f5"/>
<circle cx="1392.5" cy="521.2" r="9.1" fill="#f2cbb7"/>
<circle cx="1416.2" cy="561.2" r="9.1" fill="#c0d4f5"/>
<circle cx="1443.8" cy="541.2" r="9.1" fill="#c0d4f5"/>
<circle cx="1488.2" cy="542.5" r="9.1" fill="#f2cbb7"/>
<circle cx="1263.8" cy="531.8" r="9.1" fill="#f4c6af"/>
<circle cx="1360.0" cy="556.2" r="9.1" fill="#f4c6af"/>
<circle cx="1370.0" cy="525.0" r="9.1" fill="#f4c6af"/>
<circle cx="1377.5" cy="535.0" r="9.1" fill="#bad0f8"/>
<circle cx="1398.8" cy="558.8" r="9.1" fill="#f4c6af"/>
<circle cx="1495.0" cy="567.0" r="9.1" fill="#f4c6af"/>
<circle cx="1514.5" cy="566.8" r="9.1" fill="#f4c6af"/>
<circle cx="1602.5" cy="564.5" r="9.1" fill="#bad0f8"/>
<circle cx="1674.0" cy="567.5" r="9.1" fill="#f4c6af"/>
<circle cx="1326.2" cy="552.5" r="9.1" fill="#f6bda2"/>
<circle cx="1355.0" cy="538.8" r="9.1" fill="#f6bda2"/>
<circle cx="1381.2" cy="561.2" r="9.1" fill="#afcafc"/>
<circle cx="1440.0" cy="531.2" r="9.1" fill="#afcafc"/>
<circle cx="1448.8" cy="522.5" r="9.1" fill="#f6bda2"/>
<circle cx="1510.0" cy="523.0" r="9.1" fill="#f6bda2"/>
<circle cx="1288.0" cy="551.2" r="9.1" fill="#f7b396"/>
<circle cx="1343.8" cy="558.8" r="9.1" fill="#f7b396"/>
<circle cx="1437.5" cy="565.0" r="9.1" fill="#f7b396"/>
<circle cx="1456.2" cy="561.2" r="9.1" fill="#f7b396"/>
<circle cx="1388.8" cy="528.8" r="9.1" fill="#f7ac8e"/>
<circle cx="1420.0" cy="537.5" r="9.1" fill="#f7ac8e"/>
<circle cx="1330.0" cy="524.2" r="9.1" fill="#9ebeff"/>
<circle cx="1422.5" cy="522.5" r="9.1" fill="#f6a586"/>
<circle cx="1489.0" cy="529.2" r="9.1" fill="#f6a586"/>
<circle cx="1473.2" cy="565.5" r="9.1" fill="#f6a586"/>
<circle cx="1269.5" cy="533.8" r="9.1" fill="#f4987a"/>
<circle cx="1402.5" cy="522.5" r="9.1" fill="#8db0fe"/>
<circle cx="1435.0" cy="555.0" r="9.1" fill="#f4987a"/>
<circle cx="1458.8" cy="548.8" r="9.1" fill="#f4987a"/>
<circle cx="1556.5" cy="532.5" r="9.1" fill="#f39577"/>
<circle cx="1336.2" cy="563.0" r="9.1" fill="#f18d6f"/>
<circle cx="1514.5" cy="536.8" r="9.1" fill="#f18d6f"/>
<circle cx="1678.8" cy="560.5" r="9.1" fill="#82a6fb"/>
<circle cx="1432.5" cy="545.0" r="9.1" fill="#7b9ff9"/>
<circle cx="1326.2" cy="564.5" r="9.1" fill="#ee8468"/>
<circle cx="1322.5" cy="566.2" r="9.1" fill="#ea7b60"/>
<circle cx="1477.0" cy="533.0" r="9.1" fill="#ea7b60"/>
<circle cx="1370.0" cy="555.0" r="9.1" fill="#e36c55"/>
<circle cx="1915.3" cy="526.3" r="9.1" fill="#5977e3"/>
<circle cx="1421.2" cy="526.2" r="9.1" fill="#be242e"/>
<circle cx="1450.9" cy="612.8" r="9.1" fill="#ee8468"/>
<circle cx="1381.2" cy="640.1" r="9.1" fill="#f4987a"/>
<circle cx="1406.7" cy="635.2" r="9.1" fill="#ee8468"/>
<circle cx="1436.6" cy="617.2" r="9.1" fill="#dddcdc"/>
<circle cx="1414.2" cy="641.8" r="9.1" fill="#f4987a"/>
<circle cx="1446.8" cy="646.4" r="9.1" fill="#f2cbb7"/>
<circle cx="1423.8" cy="612.6" r="9.1" fill="#f4987a"/>
<circle cx="1420.5" cy="642.2" r="9.1" fill="#9ebeff"/>
<circle cx="1434.7" cy="618.6" r="9.1" fill="#f4987a"/>
<circle cx="1402.0" cy="640.3" r="9.1" fill="#c0d4f5"/>
<circle cx="1401.5" cy="617.4" r="9.1" fill="#9ebeff"/>
<circle cx="1434.7" cy="645.8" r="9.1" fill="#f4987a"/>
<circle cx="1377.7" cy="620.5" r="9.1" fill="#dddcdc"/>
<circle cx="1404.1" cy="624.1" r="9.1" fill="#ee8468"/>
<circle cx="1402.1" cy="612.1" r="9.1" fill="#f7ac8e"/>
<circle cx="1398.9" cy="644.7" r="9.1" fill="#9ebeff"/>
<circle cx="1437.6" cy="601.0" r="9.1" fill="#f2cbb7"/>
<circle cx="1444.7" cy="610.8" r="9.1" fill="#dddcdc"/>
<circle cx="1400.3" cy="631.1" r="9.1" fill="#f6bda2"/>
<circle cx="1435.2" cy="645.3" r="9.1" fill="#f4987a"/>
<circle cx="1446.9" cy="636.7" r="9.1" fill="#f2cbb7"/>
<circle cx="1393.5" cy="602.1" r="9.1" fill="#f4987a"/>
<circle cx="1403.6" cy="637.0" r="9.1" fill="#f6bda2"/>
<circle cx="1418.6" cy="620.1" r="9.1" fill="#f2cbb7"/>
<circle cx="1444.9" cy="615.8" r="9.1" fill="#9ebeff"/>
<circle cx="1431.3" cy="636.6" r="9.1" fill="#f2cbb7"/>
<circle cx="1411.2" cy="605.1" r="9.1" fill="#f2cbb7"/>
<circle cx="1403.6" cy="632.8" r="9.1" fill="#f4987a"/>
<circle cx="1416.5" cy="603.8" r="9.1" fill="#f6bda2"/>
<circle cx="1418.5" cy="634.8" r="9.1" fill="#f4987a"/>
<circle cx="1406.2" cy="602.4" r="9.1" fill="#f6bda2"/>
<circle cx="1404.4" cy="614.6" r="9.1" fill="#f2cbb7"/>
<circle cx="1381.9" cy="608.7" r="9.1" fill="#f7ac8e"/>
<circle cx="1411.2" cy="608.9" r="9.1" fill="#9ebeff"/>
<circle cx="1403.2" cy="608.4" r="9.1" fill="#ee8468"/>
<circle cx="1360.6" cy="615.2" r="9.1" fill="#f4987a"/>
<circle cx="1425.4" cy="608.8" r="9.1" fill="#f4987a"/>
<circle cx="1415.7" cy="607.7" r="9.1" fill="#f7ac8e"/>
<circle cx="1400.4" cy="625.3" r="9.1" fill="#9ebeff"/>
<circle cx="1386.8" cy="613.0" r="9.1" fill="#c0d4f5"/>
<circle cx="1371.2" cy="632.2" r="9.1" fill="#f7ac8e"/>
<circle cx="1456.2" cy="639.1" r="9.1" fill="#f2cbb7"/>
<circle cx="1391.5" cy="644.4" r="9.1" fill="#dddcdc"/>
<circle cx="1399.8" cy="628.8" r="9.1" fill="#ee8468"/>
<circle cx="1392.2" cy="608.6" r="9.1" fill="#ee8468"/>
<circle cx="1358.0" cy="607.8" r="9.1" fill="#9ebeff"/>
<circle cx="1414.9" cy="628.4" r="9.1" fill="#f2cbb7"/>
<circle cx="1439.2" cy="616.1" r="9.1" fill="#ee8468"/>
<circle cx="1381.9" cy="601.1" r="9.1" fill="#ee8468"/>
<circle cx="1434.6" cy="613.7" r="9.1" fill="#f4987a"/>
<circle cx="1404.5" cy="641.1" r="9.1" fill="#f7ac8e"/>
<circle cx="1473.6" cy="633.8" r="9.1" fill="#f4987a"/>
<circle cx="1432.7" cy="640.0" r="9.1" fill="#ee8468"/>
<circle cx="1410.5" cy="619.8" r="9.1" fill="#f7ac8e"/>
<circle cx="1373.3" cy="605.8" r="9.1" fill="#dddcdc"/>
<circle cx="1365.6" cy="614.7" r="9.1" fill="#f4987a"/>
<circle cx="1437.8" cy="623.2" r="9.1" fill="#dddcdc"/>
<circle cx="1358.8" cy="637.5" r="9.1" fill="#f2cbb7"/>
<circle cx="1454.8" cy="642.6" r="9.1" fill="#f6bda2"/>
<circle cx="1448.4" cy="642.9" r="9.1" fill="#c0d4f5"/>
<circle cx="1400.0" cy="603.0" r="9.1" fill="#dddcdc"/>
<circle cx="1462.5" cy="640.5" r="9.1" fill="#cfdaea"/>
<circle cx="1475.8" cy="623.0" r="9.1" fill="#cfdaea"/>
<circle cx="1498.2" cy="645.0" r="9.1" fill="#cfdaea"/>
<circle cx="1386.2" cy="598.0" r="9.1" fill="#e9d5cb"/>
<circle cx="1428.8" cy="640.5" r="9.1" fill="#e9d5cb"/>
<circle cx="1446.2" cy="606.8" r="9.1" fill="#e9d5cb"/>
<circle cx="1340.0" cy="642.5" r="9.1" fill="#efcfbf"/>
<circle cx="1445.0" cy="633.0" r="9.1" fill="#efcfbf"/>
<circle cx="1311.2" cy="630.5" r="9.1" fill="#c6d6f1"/>
<circle cx="1261.2" cy="614.2" r="9.1" fill="#f2cbb7"/>
<circle cx="1408.8" cy="645.5" r="9.1" fill="#c0d4f5"/>
<circle cx="1415.0" cy="601.8" r="9.1" fill="#f2cbb7"/>
<circle cx="1351.2" cy="621.8" r="9.1" fill="#f4c6af"/>
<circle cx="1465.0" cy="635.5" r="9.1" fill="#f4c6af"/>
<circle cx="1470.8" cy="636.8" r="9.1" fill="#f4c6af"/>
<circle cx="1752.0" cy="609.2" r="9.1" fill="#f4c6af"/>
<circle cx="1437.5" cy="605.5" r="9.1" fill="#f6bda2"/>
<circle cx="1451.2" cy="619.2" r="9.1" fill="#afcafc"/>
<circle cx="1767.8" cy="643.0" r="9.1" fill="#f7ba9f"/>
<circle cx="1176.2" cy="637.2" r="9.1" fill="#f7b79b"/>
<circle cx="1507.0" cy="629.2" r="9.1" fill="#a5c3fe"/>
<circle cx="1644.5" cy="644.2" r="9.1" fill="#f7b396"/>
<circle cx="1417.5" cy="640.5" r="9.1" fill="#f7ac8e"/>
<circle cx="1430.0" cy="600.5" r="9.1" fill="#f7ac8e"/>
<circle cx="1363.8" cy="615.5" r="9.1" fill="#9ebeff"/>
<circle cx="1391.2" cy="608.0" r="9.1" fill="#9ebeff"/>
<circle cx="1392.5" cy="633.0" r="9.1" fill="#9ebeff"/>
<circle cx="1480.8" cy="639.2" r="9.1" fill="#9ebeff"/>
<circle cx="1276.2" cy="613.5" r="9.1" fill="#f6a586"/>
<circle cx="1330.0" cy="621.8" r="9.1" fill="#f6a586"/>
<circle cx="1346.2" cy="600.5" r="9.1" fill="#f6a586"/>
<circle cx="1348.8" cy="608.0" r="9.1" fill="#f6a586"/>
<circle cx="1396.2" cy="640.5" r="9.1" fill="#f6a586"/>
<circle cx="1465.0" cy="623.0" r="9.1" fill="#f6a586"/>
<circle cx="1541.5" cy="643.8" r="9.1" fill="#f6a586"/>
<circle cx="1311.2" cy="603.5" r="9.1" fill="#f4987a"/>
<circle cx="1310.0" cy="623.0" r="9.1" fill="#f4987a"/>
<circle cx="1328.8" cy="630.5" r="9.1" fill="#f4987a"/>
<circle cx="1373.8" cy="626.8" r="9.1" fill="#f4987a"/>
<circle cx="1380.0" cy="643.0" r="9.1" fill="#f4987a"/>
<circle cx="1402.5" cy="630.5" r="9.1" fill="#f4987a"/>
<circle cx="1413.8" cy="615.5" r="9.1" fill="#f4987a"/>
<circle cx="1418.8" cy="625.5" r="9.1" fill="#8db0fe"/>
<circle cx="1477.0" cy="618.0" r="9.1" fill="#f18d6f"/>
<circle cx="1397.5" cy="619.2" r="9.1" fill="#ee8468"/>
<circle cx="1436.2" cy="620.5" r="9.1" fill="#ee8468"/>
<circle cx="1489.5" cy="604.2" r="9.1" fill="#e36c55"/>
<circle cx="1485.8" cy="632.5" r="9.1" fill="#6a8bef"/>
<circle cx="1508.2" cy="635.5" r="9.1" fill="#e36c55"/>
<circle cx="1248.2" cy="643.8" r="9.1" fill="#dc5d4a"/>
<circle cx="1372.5" cy="606.8" r="9.1" fill="#dc5d4a"/>
<circle cx="1426.2" cy="614.2" r="9.1" fill="#d65244"/>
<circle cx="1317.0" cy="621.8" r="9.1" fill="#be242e"/>
</g>
<rect x="1013.3" y="37.0" width="918.1" height="625.6" fill="none" stroke="#000" stroke-width="2.4"/>
<line x1="1000.7" y1="76.1" x2="1013.3" y2="76.1" stroke="#000" stroke-width="2.4"/>
<text x="181.1" y="72.0" font-size="36" textLength="782.4" lengthAdjust="spacingAndGlyphs" class="t">SST incorrect stop vs correct go contrast in left</text>
<text x="699.2" y="100.6" font-size="36" textLength="264.3" lengthAdjust="spacingAndGlyphs" class="t">frontal pole ROI</text>
<line x1="1000.7" y1="154.3" x2="1013.3" y2="154.3" stroke="#000" stroke-width="2.4"/>
<text x="181.1" y="150.2" font-size="36" textLength="782.4" lengthAdjust="spacingAndGlyphs" class="t">SST incorrect stop vs correct go contrast in left</text>
<text x="556.2" y="178.8" font-size="36" textLength="407.3" lengthAdjust="spacingAndGlyphs" class="t">transverse temporal ROI</text>
<line x1="1000.7" y1="232.5" x2="1013.3" y2="232.5" stroke="#000" stroke-width="2.4"/>
<text x="433.0" y="245.5" font-size="36" textLength="530.5" lengthAdjust="spacingAndGlyphs" class="t">T1 intensity in right ventricle ROI</text>
<line x1="1000.7" y1="310.7" x2="1013.3" y2="310.7" stroke="#000" stroke-width="2.4"/>
<text x="242.5" y="306.6" font-size="36" textLength="721.0" lengthAdjust="spacingAndGlyphs" class="t">T1 white-gray contrast in right banks of the</text>
<text x="484.0" y="335.2" font-size="36" textLength="479.5" lengthAdjust="spacingAndGlyphs" class="t">superior temporal sulcus ROI</text>
<line x1="1000.7" y1="388.9" x2="1013.3" y2="388.9" stroke="#000" stroke-width="2.4"/>
<text x="218.0" y="384.8" font-size="36" textLength="745.5" lengthAdjust="spacingAndGlyphs" class="t">SST correct stop vs incorrect stop contrast in</text>
<text x="635.9" y="413.4" font-size="36" textLength="327.6" lengthAdjust="spacingAndGlyphs" class="t">left frontal pole ROI</text>
<line x1="1000.7" y1="467.1" x2="1013.3" y2="467.1" stroke="#000" stroke-width="2.4"/>
<text x="201.4" y="463.0" font-size="36" textLength="762.1" lengthAdjust="spacingAndGlyphs" class="t">SST any stop versus correct go contrast in left</text>
<text x="634.9" y="491.6" font-size="36" textLength="328.6" lengthAdjust="spacingAndGlyphs" class="t">parsopercularis ROI</text>
<line x1="1000.7" y1="545.3" x2="1013.3" y2="545.3" stroke="#000" stroke-width="2.4"/>
<text x="184.6" y="541.2" font-size="36" textLength="778.9" lengthAdjust="spacingAndGlyphs" class="t">FA in WM associated with cortical left anterior</text>
<text x="732.5" y="569.8" font-size="36" textLength="231.0" lengthAdjust="spacingAndGlyphs" class="t">cingulate ROI</text>
<line x1="1000.7" y1="623.5" x2="1013.3" y2="623.5" stroke="#000" stroke-width="2.4"/>
<text x="372.5" y="636.5" font-size="36" textLength="591.0" lengthAdjust="spacingAndGlyphs" class="t">T1 intensity in right accumbens ROI</text>
<line x1="1042.0" y1="662.6" x2="1042.0" y2="675.1" stroke="#000" stroke-width="2.4"/>
<text x="1042.0" y="714.6" font-size="36" text-anchor="middle" class="t">−1.0</text>
<line x1="1218.9" y1="662.6" x2="1218.9" y2="675.1" stroke="#000" stroke-width="2.4"/>
<text x="1218.9" y="714.6" font-size="36" text-anchor="middle" class="t">−0.5</text>
<line x1="1395.8" y1="662.6" x2="1395.8" y2="675.1" stroke="#000" stroke-width="2.4"/>
<text x="1395.8" y="714.6" font-size="36" text-anchor="middle" class="t">0.0</text>
<line x1="1572.7" y1="662.6" x2="1572.7" y2="675.1" stroke="#000" stroke-width="2.4"/>
<text x="1572.7" y="714.6" font-size="36" text-anchor="middle" class="t">0.5</text>
<line x1="1749.6" y1="662.6" x2="1749.6" y2="675.1" stroke="#000" stroke-width="2.4"/>
<text x="1749.6" y="714.6" font-size="36" text-anchor="middle" class="t">1.0</text>
<line x1="1926.5" y1="662.6" x2="1926.5" y2="675.1" stroke="#000" stroke-width="2.4"/>
<text x="1926.5" y="714.6" font-size="36" text-anchor="middle" class="t">1.5</text>
<text x="1471.1" y="766.0" font-size="42.5" text-anchor="middle" textLength="247" lengthAdjust="spacingAndGlyphs" class="t">SHAP values</text>
<text x="4.4" y="765.7" font-size="35.5" font-weight="bold">B</text>
<text transform="translate(38.4 1124.4) rotate(-90)" text-anchor="middle" font-size="53.5" textLength="214" lengthAdjust="spacingAndGlyphs" class="t2">Features</text>
<line x1="1122.1" y1="806.0" x2="1122.1" y2="1432.4" stroke="#d5d5d5" stroke-width="3" stroke-dasharray="10.4 4.62"/>
<line x1="1331.1" y1="806.0" x2="1331.1" y2="1432.4" stroke="#d5d5d5" stroke-width="3" stroke-dasharray="10.4 4.62"/>
<line x1="1540.1" y1="806.0" x2="1540.1" y2="1432.4" stroke="#d5d5d5" stroke-width="3" stroke-dasharray="10.4 4.62"/>
<line x1="1749.1" y1="806.0" x2="1749.1" y2="1432.4" stroke="#d5d5d5" stroke-width="3" stroke-dasharray="10.4 4.62"/>
<g fill-opacity="0.7" stroke="#000" stroke-opacity="0.62" stroke-width="1.7">
<circle cx="1515.7" cy="858.7" r="9.1" fill="#7b9ff9"/>
<circle cx="1516.7" cy="850.3" r="9.1" fill="#f7ac8e"/>
<circle cx="1604.8" cy="869.2" r="9.1" fill="#c0d4f5"/>
<circle cx="1531.5" cy="859.2" r="9.1" fill="#f6bda2"/>
<circle cx="1564.0" cy="843.0" r="9.1" fill="#ee8468"/>
<circle cx="1556.6" cy="852.0" r="9.1" fill="#f4987a"/>
<circle cx="1522.8" cy="873.6" r="9.1" fill="#e36c55"/>
<circle cx="1526.6" cy="843.0" r="9.1" fill="#ee8468"/>
<circle cx="1553.8" cy="837.0" r="9.1" fill="#9ebeff"/>
<circle cx="1516.6" cy="865.7" r="9.1" fill="#f6a586"/>
<circle cx="1496.8" cy="829.3" r="9.1" fill="#f4987a"/>
<circle cx="1573.7" cy="874.1" r="9.1" fill="#c0d4f5"/>
<circle cx="1546.3" cy="871.4" r="9.1" fill="#9ebeff"/>
<circle cx="1498.0" cy="862.3" r="9.1" fill="#c0d4f5"/>
<circle cx="1534.5" cy="863.0" r="9.1" fill="#f6a586"/>
<circle cx="1499.1" cy="830.6" r="9.1" fill="#f4987a"/>
<circle cx="1482.3" cy="832.5" r="9.1" fill="#7b9ff9"/>
<circle cx="1575.2" cy="862.9" r="9.1" fill="#f6bda2"/>
<circle cx="1511.6" cy="847.8" r="9.1" fill="#f6bda2"/>
<circle cx="1512.2" cy="849.5" r="9.1" fill="#e36c55"/>
<circle cx="1564.5" cy="848.1" r="9.1" fill="#f4987a"/>
<circle cx="1528.0" cy="837.1" r="9.1" fill="#f6bda2"/>
<circle cx="1547.9" cy="839.8" r="9.1" fill="#e36c55"/>
<circle cx="1548.8" cy="841.0" r="9.1" fill="#f6bda2"/>
<circle cx="1499.0" cy="846.2" r="9.1" fill="#f7ac8e"/>
<circle cx="1526.1" cy="851.2" r="9.1" fill="#f7ac8e"/>
<circle cx="1579.0" cy="851.0" r="9.1" fill="#f2cbb7"/>
<circle cx="1566.3" cy="827.7" r="9.1" fill="#dddcdc"/>
<circle cx="1543.8" cy="847.6" r="9.1" fill="#f6bda2"/>
<circle cx="1484.9" cy="874.0" r="9.1" fill="#e36c55"/>
<circle cx="1556.6" cy="853.1" r="9.1" fill="#9ebeff"/>
<circle cx="1550.8" cy="843.5" r="9.1" fill="#dddcdc"/>
<circle cx="1505.5" cy="845.6" r="9.1" fill="#f2cbb7"/>
<circle cx="1537.3" cy="864.5" r="9.1" fill="#7b9ff9"/>
<circle cx="1504.4" cy="853.7" r="9.1" fill="#ee8468"/>
<circle cx="1469.6" cy="834.5" r="9.1" fill="#9ebeff"/>
<circle cx="1498.5" cy="833.4" r="9.1" fill="#dddcdc"/>
<circle cx="1516.1" cy="850.2" r="9.1" fill="#f7ac8e"/>
<circle cx="1540.4" cy="861.2" r="9.1" fill="#f6a586"/>
<circle cx="1514.8" cy="836.7" r="9.1" fill="#f6bda2"/>
<circle cx="1545.2" cy="859.1" r="9.1" fill="#dddcdc"/>
<circle cx="1550.5" cy="867.5" r="9.1" fill="#f4987a"/>
<circle cx="1560.4" cy="844.5" r="9.1" fill="#f7ac8e"/>
<circle cx="1528.0" cy="841.1" r="9.1" fill="#f7ac8e"/>
<circle cx="1572.3" cy="828.1" r="9.1" fill="#9ebeff"/>
<circle cx="1533.7" cy="855.2" r="9.1" fill="#f6bda2"/>
<circle cx="1534.1" cy="848.4" r="9.1" fill="#dddcdc"/>
<circle cx="1514.6" cy="859.9" r="9.1" fill="#f6bda2"/>
<circle cx="1497.1" cy="835.6" r="9.1" fill="#dddcdc"/>
<circle cx="1549.0" cy="855.7" r="9.1" fill="#dddcdc"/>
<circle cx="1537.9" cy="836.8" r="9.1" fill="#dddcdc"/>
<circle cx="1539.0" cy="866.4" r="9.1" fill="#e36c55"/>
<circle cx="1543.2" cy="852.0" r="9.1" fill="#f4987a"/>
<circle cx="1555.2" cy="870.1" r="9.1" fill="#ee8468"/>
<circle cx="1547.5" cy="866.5" r="9.1" fill="#c0d4f5"/>
<circle cx="1507.4" cy="829.3" r="9.1" fill="#9ebeff"/>
<circle cx="1536.8" cy="860.5" r="9.1" fill="#c0d4f5"/>
<circle cx="1575.9" cy="854.4" r="9.1" fill="#7b9ff9"/>
<circle cx="1483.4" cy="846.6" r="9.1" fill="#ee8468"/>
<circle cx="1504.3" cy="837.4" r="9.1" fill="#f6a586"/>
<circle cx="1550.3" cy="866.5" r="9.1" fill="#9ebeff"/>
<circle cx="1549.4" cy="864.2" r="9.1" fill="#7b9ff9"/>
<circle cx="1509.8" cy="868.9" r="9.1" fill="#f7ac8e"/>
<circle cx="1533.4" cy="863.8" r="9.1" fill="#dddcdc"/>
<circle cx="1523.3" cy="851.9" r="9.1" fill="#f6bda2"/>
<circle cx="1550.8" cy="862.8" r="9.1" fill="#7b9ff9"/>
<circle cx="1526.2" cy="863.8" r="9.1" fill="#7b9ff9"/>
<circle cx="1540.6" cy="830.7" r="9.1" fill="#7b9ff9"/>
<circle cx="1529.0" cy="853.4" r="9.1" fill="#f6a586"/>
<circle cx="1584.6" cy="859.7" r="9.1" fill="#f4987a"/>
<circle cx="1557.4" cy="849.5" r="9.1" fill="#7b9ff9"/>
<circle cx="1563.1" cy="852.8" r="9.1" fill="#f7ac8e"/>
<circle cx="1590.1" cy="845.1" r="9.1" fill="#9ebeff"/>
<circle cx="1568.4" cy="843.1" r="9.1" fill="#e36c55"/>
<circle cx="1560.1" cy="844.6" r="9.1" fill="#9ebeff"/>
<circle cx="1546.5" cy="867.4" r="9.1" fill="#9ebeff"/>
<circle cx="1540.5" cy="844.1" r="9.1" fill="#f7ac8e"/>
<circle cx="1527.5" cy="829.5" r="9.1" fill="#f6bda2"/>
<circle cx="1539.4" cy="830.6" r="9.1" fill="#f4987a"/>
<circle cx="1568.6" cy="866.4" r="9.1" fill="#e36c55"/>
<circle cx="1524.6" cy="839.8" r="9.1" fill="#f2cbb7"/>
<circle cx="1567.2" cy="853.3" r="9.1" fill="#ee8468"/>
<circle cx="1551.0" cy="871.1" r="9.1" fill="#f7ac8e"/>
<circle cx="1534.7" cy="832.2" r="9.1" fill="#7b9ff9"/>
<circle cx="1547.3" cy="837.6" r="9.1" fill="#f2cbb7"/>
<circle cx="1531.5" cy="851.6" r="9.1" fill="#c0d4f5"/>
<circle cx="1536.6" cy="854.8" r="9.1" fill="#f7ac8e"/>
<circle cx="1574.4" cy="835.7" r="9.1" fill="#9ebeff"/>
<circle cx="1550.0" cy="865.2" r="9.1" fill="#f6a586"/>
<circle cx="1550.1" cy="841.8" r="9.1" fill="#f6bda2"/>
<circle cx="1531.8" cy="858.3" r="9.1" fill="#e36c55"/>
<circle cx="1503.8" cy="831.0" r="9.1" fill="#f4987a"/>
<circle cx="1569.5" cy="847.4" r="9.1" fill="#c0d4f5"/>
<circle cx="1518.4" cy="874.3" r="9.1" fill="#f7ac8e"/>
<circle cx="1532.9" cy="838.5" r="9.1" fill="#f6a586"/>
<circle cx="1566.1" cy="856.3" r="9.1" fill="#7b9ff9"/>
<circle cx="1571.9" cy="839.7" r="9.1" fill="#ee8468"/>
<circle cx="1562.0" cy="850.4" r="9.1" fill="#ee8468"/>
<circle cx="1590.6" cy="831.7" r="9.1" fill="#c0d4f5"/>
<circle cx="1495.3" cy="872.8" r="9.1" fill="#f6bda2"/>
<circle cx="1552.6" cy="838.1" r="9.1" fill="#f4987a"/>
<circle cx="1588.4" cy="827.6" r="9.1" fill="#dddcdc"/>
<circle cx="1566.8" cy="855.1" r="9.1" fill="#ee8468"/>
<circle cx="1485.9" cy="827.2" r="9.1" fill="#dddcdc"/>
<circle cx="1517.1" cy="873.5" r="9.1" fill="#f6bda2"/>
<circle cx="1589.1" cy="870.6" r="9.1" fill="#f7ac8e"/>
<circle cx="1587.5" cy="867.5" r="9.1" fill="#ee8468"/>
<circle cx="1564.6" cy="848.8" r="9.1" fill="#ee8468"/>
<circle cx="1552.8" cy="846.8" r="9.1" fill="#dddcdc"/>
<circle cx="1559.6" cy="848.1" r="9.1" fill="#dddcdc"/>
<circle cx="1571.7" cy="829.5" r="9.1" fill="#ee8468"/>
<circle cx="1536.9" cy="831.3" r="9.1" fill="#f7ac8e"/>
<circle cx="1584.2" cy="837.8" r="9.1" fill="#f2cbb7"/>
<circle cx="1523.3" cy="851.1" r="9.1" fill="#f2cbb7"/>
<circle cx="1479.8" cy="870.2" r="9.1" fill="#f4987a"/>
<circle cx="1575.2" cy="866.6" r="9.1" fill="#f6a586"/>
<circle cx="1533.2" cy="828.8" r="9.1" fill="#f2cbb7"/>
<circle cx="1517.6" cy="830.3" r="9.1" fill="#c0d4f5"/>
<circle cx="1472.4" cy="828.5" r="9.1" fill="#ee8468"/>
<circle cx="1583.2" cy="841.0" r="9.1" fill="#f6bda2"/>
<circle cx="1536.2" cy="841.0" r="9.1" fill="#dddcdc"/>
<circle cx="1557.5" cy="832.2" r="9.1" fill="#dddcdc"/>
<circle cx="1610.0" cy="848.5" r="9.1" fill="#dddcdc"/>
<circle cx="1735.0" cy="866.8" r="9.1" fill="#cfdaea"/>
<circle cx="1919.5" cy="865.5" r="9.1" fill="#cfdaea"/>
<circle cx="1482.5" cy="824.8" r="9.1" fill="#e9d5cb"/>
<circle cx="1567.5" cy="826.0" r="9.1" fill="#e9d5cb"/>
<circle cx="1590.0" cy="851.0" r="9.1" fill="#e9d5cb"/>
<circle cx="1395.5" cy="859.2" r="9.1" fill="#ebd3c6"/>
<circle cx="1473.8" cy="845.5" r="9.1" fill="#efcfbf"/>
<circle cx="1547.5" cy="863.5" r="9.1" fill="#efcfbf"/>
<circle cx="1600.0" cy="863.5" r="9.1" fill="#c6d6f1"/>
<circle cx="1271.8" cy="849.8" r="9.1" fill="#c0d4f5"/>
<circle cx="1256.0" cy="859.2" r="9.1" fill="#c0d4f5"/>
<circle cx="1576.2" cy="851.0" r="9.1" fill="#c0d4f5"/>
<circle cx="1593.8" cy="876.0" r="9.1" fill="#f2cbb7"/>
<circle cx="1622.5" cy="859.8" r="9.1" fill="#f2cbb7"/>
<circle cx="1357.5" cy="834.8" r="9.1" fill="#bad0f8"/>
<circle cx="1434.2" cy="865.5" r="9.1" fill="#f4c6af"/>
<circle cx="1440.0" cy="865.5" r="9.1" fill="#f4c6af"/>
<circle cx="1466.2" cy="828.5" r="9.1" fill="#bad0f8"/>
<circle cx="1537.5" cy="824.8" r="9.1" fill="#f4c6af"/>
<circle cx="1578.8" cy="828.5" r="9.1" fill="#bad0f8"/>
<circle cx="1507.5" cy="828.5" r="9.1" fill="#f6bda2"/>
<circle cx="1523.8" cy="829.8" r="9.1" fill="#afcafc"/>
<circle cx="1550.0" cy="823.5" r="9.1" fill="#afcafc"/>
<circle cx="1562.5" cy="848.5" r="9.1" fill="#afcafc"/>
<circle cx="1668.8" cy="848.5" r="9.1" fill="#f6bda2"/>
<circle cx="1542.5" cy="871.0" r="9.1" fill="#f7ba9f"/>
<circle cx="1620.0" cy="836.5" r="9.1" fill="#a9c6fd"/>
<circle cx="1535.0" cy="876.0" r="9.1" fill="#f7b396"/>
<circle cx="1883.2" cy="863.5" r="9.1" fill="#f7b396"/>
<circle cx="1478.8" cy="856.0" r="9.1" fill="#f7ac8e"/>
<circle cx="1541.2" cy="851.0" r="9.1" fill="#f7ac8e"/>
<circle cx="1557.5" cy="873.5" r="9.1" fill="#f7ac8e"/>
<circle cx="1150.5" cy="871.5" r="9.1" fill="#9ebeff"/>
<circle cx="1403.0" cy="839.8" r="9.1" fill="#9ebeff"/>
<circle cx="1493.8" cy="854.8" r="9.1" fill="#97b8ff"/>
<circle cx="1527.5" cy="873.5" r="9.1" fill="#f6a586"/>
<circle cx="1241.0" cy="832.8" r="9.1" fill="#f4987a"/>
<circle cx="1460.0" cy="856.0" r="9.1" fill="#f4987a"/>
<circle cx="1491.2" cy="846.0" r="9.1" fill="#8db0fe"/>
<circle cx="1522.5" cy="862.2" r="9.1" fill="#f4987a"/>
<circle cx="1570.0" cy="866.0" r="9.1" fill="#8db0fe"/>
<circle cx="1580.0" cy="864.8" r="9.1" fill="#f4987a"/>
<circle cx="1642.0" cy="863.5" r="9.1" fill="#8db0fe"/>
<circle cx="1854.5" cy="837.2" r="9.1" fill="#f4987a"/>
<circle cx="1477.5" cy="829.8" r="9.1" fill="#7b9ff9"/>
<circle cx="1512.5" cy="851.0" r="9.1" fill="#7b9ff9"/>
<circle cx="1427.2" cy="847.8" r="9.1" fill="#ee8468"/>
<circle cx="1483.8" cy="832.2" r="9.1" fill="#ee8468"/>
<circle cx="1496.2" cy="866.0" r="9.1" fill="#ee8468"/>
<circle cx="1503.8" cy="874.8" r="9.1" fill="#ee8468"/>
<circle cx="1625.0" cy="876.0" r="9.1" fill="#ea7b60"/>
<circle cx="1513.8" cy="838.5" r="9.1" fill="#e36c55"/>
<circle cx="1517.5" cy="823.5" r="9.1" fill="#6a8bef"/>
<circle cx="1028.0" cy="854.8" r="9.1" fill="#dc5d4a"/>
<circle cx="1587.5" cy="843.5" r="9.1" fill="#dc5d4a"/>
<circle cx="1623.8" cy="853.5" r="9.1" fill="#d0473d"/>
<circle cx="1493.8" cy="868.5" r="9.1" fill="#bb1b2c"/>
<circle cx="1514.9" cy="927.6" r="9.1" fill="#ee8468"/>
<circle cx="1499.6" cy="922.1" r="9.1" fill="#f4c6af"/>
<circle cx="1541.4" cy="945.1" r="9.1" fill="#dddcdc"/>
<circle cx="1543.6" cy="924.5" r="9.1" fill="#f6bda2"/>
<circle cx="1628.0" cy="918.6" r="9.1" fill="#f2cbb7"/>
<circle cx="1526.4" cy="945.3" r="9.1" fill="#c0d4f5"/>
<circle cx="1528.7" cy="956.8" r="9.1" fill="#f2cbb7"/>
<circle cx="1558.7" cy="921.0" r="9.1" fill="#f2cbb7"/>
<circle cx="1541.1" cy="951.5" r="9.1" fill="#f7ac8e"/>
<circle cx="1499.7" cy="919.6" r="9.1" fill="#f4987a"/>
<circle cx="1559.6" cy="955.4" r="9.1" fill="#f7ac8e"/>
<circle cx="1520.1" cy="925.7" r="9.1" fill="#c0d4f5"/>
<circle cx="1548.9" cy="962.7" r="9.1" fill="#f2cbb7"/>
<circle cx="1555.2" cy="930.4" r="9.1" fill="#dddcdc"/>
<circle cx="1535.4" cy="920.6" r="9.1" fill="#f6bda2"/>
<circle cx="1480.9" cy="934.8" r="9.1" fill="#f4c6af"/>
<circle cx="1487.2" cy="922.1" r="9.1" fill="#f4987a"/>
<circle cx="1527.9" cy="922.7" r="9.1" fill="#f2cbb7"/>
<circle cx="1586.8" cy="943.8" r="9.1" fill="#f4987a"/>
<circle cx="1552.9" cy="927.5" r="9.1" fill="#dddcdc"/>
<circle cx="1524.6" cy="921.1" r="9.1" fill="#f7ac8e"/>
<circle cx="1510.7" cy="931.8" r="9.1" fill="#f7ac8e"/>
<circle cx="1494.7" cy="920.3" r="9.1" fill="#f7ac8e"/>
<circle cx="1460.9" cy="918.8" r="9.1" fill="#f4987a"/>
<circle cx="1559.1" cy="929.9" r="9.1" fill="#f2cbb7"/>
<circle cx="1550.4" cy="935.0" r="9.1" fill="#f7ac8e"/>
<circle cx="1587.2" cy="957.8" r="9.1" fill="#f4987a"/>
<circle cx="1509.5" cy="949.1" r="9.1" fill="#f7ac8e"/>
<circle cx="1531.2" cy="960.6" r="9.1" fill="#f7ac8e"/>
<circle cx="1568.7" cy="946.6" r="9.1" fill="#f6bda2"/>
<circle cx="1537.4" cy="932.6" r="9.1" fill="#f4987a"/>
<circle cx="1573.4" cy="950.1" r="9.1" fill="#dddcdc"/>
<circle cx="1543.9" cy="963.7" r="9.1" fill="#9ebeff"/>
<circle cx="1481.4" cy="934.1" r="9.1" fill="#c0d4f5"/>
<circle cx="1600.3" cy="921.5" r="9.1" fill="#f2cbb7"/>
<circle cx="1543.5" cy="962.5" r="9.1" fill="#ee8468"/>
<circle cx="1589.0" cy="961.2" r="9.1" fill="#f4c6af"/>
<circle cx="1575.4" cy="951.1" r="9.1" fill="#f2cbb7"/>
<circle cx="1580.8" cy="927.8" r="9.1" fill="#9ebeff"/>
<circle cx="1514.2" cy="963.0" r="9.1" fill="#f7ac8e"/>
<circle cx="1594.6" cy="934.7" r="9.1" fill="#f6bda2"/>
<circle cx="1517.1" cy="944.6" r="9.1" fill="#f4c6af"/>
<circle cx="1546.9" cy="950.7" r="9.1" fill="#f4c6af"/>
<circle cx="1518.5" cy="946.9" r="9.1" fill="#9ebeff"/>
<circle cx="1490.6" cy="936.9" r="9.1" fill="#dddcdc"/>
<circle cx="1463.5" cy="949.2" r="9.1" fill="#f6bda2"/>
<circle cx="1552.7" cy="958.6" r="9.1" fill="#f4c6af"/>
<circle cx="1560.2" cy="949.0" r="9.1" fill="#c0d4f5"/>
<circle cx="1511.7" cy="942.1" r="9.1" fill="#9ebeff"/>
<circle cx="1544.6" cy="934.0" r="9.1" fill="#dddcdc"/>
<circle cx="1507.0" cy="942.7" r="9.1" fill="#f4987a"/>
<circle cx="1524.3" cy="949.7" r="9.1" fill="#dddcdc"/>
<circle cx="1512.5" cy="921.0" r="9.1" fill="#f4987a"/>
<circle cx="1601.5" cy="929.1" r="9.1" fill="#dddcdc"/>
<circle cx="1578.4" cy="947.4" r="9.1" fill="#f6bda2"/>
<circle cx="1543.5" cy="952.9" r="9.1" fill="#9ebeff"/>
<circle cx="1564.5" cy="946.6" r="9.1" fill="#f6bda2"/>
<circle cx="1593.4" cy="962.8" r="9.1" fill="#dddcdc"/>
<circle cx="1512.5" cy="940.4" r="9.1" fill="#f2cbb7"/>
<circle cx="1518.0" cy="958.4" r="9.1" fill="#c0d4f5"/>
<circle cx="1605.4" cy="958.4" r="9.1" fill="#ee8468"/>
<circle cx="1526.3" cy="947.1" r="9.1" fill="#f6bda2"/>
<circle cx="1534.8" cy="924.2" r="9.1" fill="#f2cbb7"/>
<circle cx="1525.8" cy="918.0" r="9.1" fill="#9ebeff"/>
<circle cx="1518.1" cy="937.5" r="9.1" fill="#f7ac8e"/>
<circle cx="1479.1" cy="923.4" r="9.1" fill="#f4987a"/>
<circle cx="1494.7" cy="930.6" r="9.1" fill="#f2cbb7"/>
<circle cx="1516.6" cy="963.6" r="9.1" fill="#f4c6af"/>
<circle cx="1601.4" cy="963.6" r="9.1" fill="#f2cbb7"/>
<circle cx="1550.8" cy="952.4" r="9.1" fill="#f4c6af"/>
<circle cx="1506.8" cy="918.5" r="9.1" fill="#c0d4f5"/>
<circle cx="1558.4" cy="942.8" r="9.1" fill="#9ebeff"/>
<circle cx="1499.5" cy="952.0" r="9.1" fill="#9ebeff"/>
<circle cx="1544.7" cy="921.5" r="9.1" fill="#f4987a"/>
<circle cx="1542.8" cy="958.1" r="9.1" fill="#f6bda2"/>
<circle cx="1530.9" cy="942.9" r="9.1" fill="#ee8468"/>
<circle cx="1522.7" cy="952.4" r="9.1" fill="#c0d4f5"/>
<circle cx="1520.1" cy="949.0" r="9.1" fill="#f2cbb7"/>
<circle cx="1477.2" cy="925.0" r="9.1" fill="#ee8468"/>
<circle cx="1601.2" cy="945.4" r="9.1" fill="#f4987a"/>
<circle cx="1533.7" cy="944.4" r="9.1" fill="#ee8468"/>
<circle cx="1552.8" cy="932.4" r="9.1" fill="#f4987a"/>
<circle cx="1474.1" cy="938.6" r="9.1" fill="#9ebeff"/>
<circle cx="1571.8" cy="939.8" r="9.1" fill="#f4987a"/>
<circle cx="1557.6" cy="963.8" r="9.1" fill="#f6bda2"/>
<circle cx="1470.1" cy="955.1" r="9.1" fill="#f7ac8e"/>
<circle cx="1585.9" cy="937.9" r="9.1" fill="#dddcdc"/>
<circle cx="1596.6" cy="958.3" r="9.1" fill="#c0d4f5"/>
<circle cx="1527.0" cy="941.2" r="9.1" fill="#f6bda2"/>
<circle cx="1548.0" cy="937.7" r="9.1" fill="#f6bda2"/>
<circle cx="1535.6" cy="945.9" r="9.1" fill="#ee8468"/>
<circle cx="1502.6" cy="955.3" r="9.1" fill="#ee8468"/>
<circle cx="1568.8" cy="963.5" r="9.1" fill="#9ebeff"/>
<circle cx="1512.1" cy="946.4" r="9.1" fill="#c0d4f5"/>
<circle cx="1558.7" cy="951.7" r="9.1" fill="#f4987a"/>
<circle cx="1575.6" cy="959.5" r="9.1" fill="#f6bda2"/>
<circle cx="1557.3" cy="927.7" r="9.1" fill="#f7ac8e"/>
<circle cx="1461.2" cy="919.4" r="9.1" fill="#c0d4f5"/>
<circle cx="1499.3" cy="944.1" r="9.1" fill="#dddcdc"/>
<circle cx="1482.4" cy="964.5" r="9.1" fill="#ee8468"/>
<circle cx="1531.0" cy="949.5" r="9.1" fill="#f7ac8e"/>
<circle cx="1535.4" cy="926.7" r="9.1" fill="#9ebeff"/>
<circle cx="1578.8" cy="940.1" r="9.1" fill="#f6bda2"/>
<circle cx="1518.1" cy="959.4" r="9.1" fill="#ee8468"/>
<circle cx="1544.4" cy="957.3" r="9.1" fill="#f4987a"/>
<circle cx="1513.5" cy="963.5" r="9.1" fill="#dddcdc"/>
<circle cx="1573.5" cy="920.8" r="9.1" fill="#dddcdc"/>
<circle cx="1610.2" cy="961.3" r="9.1" fill="#ee8468"/>
<circle cx="1534.0" cy="949.5" r="9.1" fill="#9ebeff"/>
<circle cx="1488.6" cy="959.6" r="9.1" fill="#f7ac8e"/>
<circle cx="1550.5" cy="929.6" r="9.1" fill="#f2cbb7"/>
<circle cx="1591.8" cy="935.5" r="9.1" fill="#ee8468"/>
<circle cx="1497.3" cy="931.1" r="9.1" fill="#9ebeff"/>
<circle cx="1500.2" cy="939.8" r="9.1" fill="#f7ac8e"/>
<circle cx="1575.8" cy="955.8" r="9.1" fill="#ee8468"/>
<circle cx="1511.1" cy="925.1" r="9.1" fill="#f4987a"/>
<circle cx="1522.8" cy="924.8" r="9.1" fill="#c0d4f5"/>
<circle cx="1462.0" cy="957.1" r="9.1" fill="#dddcdc"/>
<circle cx="1547.7" cy="962.3" r="9.1" fill="#c0d4f5"/>
<circle cx="1496.4" cy="926.7" r="9.1" fill="#9ebeff"/>
<circle cx="1510.0" cy="936.0" r="9.1" fill="#dddcdc"/>
<circle cx="1538.8" cy="921.0" r="9.1" fill="#dddcdc"/>
<circle cx="1602.5" cy="916.0" r="9.1" fill="#d6dce4"/>
<circle cx="1460.0" cy="941.0" r="9.1" fill="#d2dbe8"/>
<circle cx="1482.5" cy="950.5" r="9.1" fill="#e7d7ce"/>
<circle cx="1502.5" cy="963.5" r="9.1" fill="#d2dbe8"/>
<circle cx="1547.5" cy="928.5" r="9.1" fill="#e7d7ce"/>
<circle cx="1555.0" cy="958.5" r="9.1" fill="#e7d7ce"/>
<circle cx="1571.2" cy="963.5" r="9.1" fill="#d2dbe8"/>
<circle cx="1578.8" cy="957.2" r="9.1" fill="#d2dbe8"/>
<circle cx="1630.8" cy="915.2" r="9.1" fill="#ccd9ed"/>
<circle cx="1452.5" cy="965.5" r="9.1" fill="#cad8ef"/>
<circle cx="1212.5" cy="955.2" r="9.1" fill="#edd2c3"/>
<circle cx="1388.5" cy="933.0" r="9.1" fill="#efcfbf"/>
<circle cx="1667.0" cy="944.8" r="9.1" fill="#efcfbf"/>
<circle cx="1655.5" cy="967.2" r="9.1" fill="#c6d6f1"/>
<circle cx="1515.0" cy="964.8" r="9.1" fill="#c5d6f2"/>
<circle cx="1528.8" cy="913.5" r="9.1" fill="#efcebd"/>
<circle cx="1592.5" cy="919.8" r="9.1" fill="#c5d6f2"/>
<circle cx="1615.0" cy="966.0" r="9.1" fill="#c5d6f2"/>
<circle cx="1399.2" cy="959.0" r="9.1" fill="#c0d4f5"/>
<circle cx="1467.5" cy="914.0" r="9.1" fill="#bfd3f6"/>
<circle cx="1486.2" cy="926.0" r="9.1" fill="#bfd3f6"/>
<circle cx="1501.2" cy="953.5" r="9.1" fill="#bfd3f6"/>
<circle cx="1517.5" cy="913.5" r="9.1" fill="#f2cab5"/>
<circle cx="1525.0" cy="929.8" r="9.1" fill="#f2cab5"/>
<circle cx="1542.5" cy="911.0" r="9.1" fill="#f2cab5"/>
<circle cx="1545.0" cy="966.0" r="9.1" fill="#f2cab5"/>
<circle cx="1551.2" cy="938.5" r="9.1" fill="#f2cab5"/>
<circle cx="1580.0" cy="932.2" r="9.1" fill="#bfd3f6"/>
<circle cx="1433.0" cy="948.0" r="9.1" fill="#f4c6af"/>
<circle cx="1438.0" cy="963.5" r="9.1" fill="#f4c6af"/>
<circle cx="1440.0" cy="947.2" r="9.1" fill="#f4c6af"/>
<circle cx="1442.5" cy="962.2" r="9.1" fill="#f4c6af"/>
<circle cx="1798.0" cy="914.8" r="9.1" fill="#bad0f8"/>
<circle cx="1798.8" cy="936.5" r="9.1" fill="#bad0f8"/>
<circle cx="1493.8" cy="923.5" r="9.1" fill="#b7cff9"/>
<circle cx="1557.5" cy="966.0" r="9.1" fill="#b7cff9"/>
<circle cx="1585.0" cy="963.5" r="9.1" fill="#b7cff9"/>
<circle cx="1570.0" cy="953.5" r="9.1" fill="#f5c1a9"/>
<circle cx="1647.5" cy="962.2" r="9.1" fill="#f6bda2"/>
<circle cx="1835.0" cy="948.5" r="9.1" fill="#f6bda2"/>
<circle cx="1507.5" cy="923.5" r="9.1" fill="#aec9fc"/>
<circle cx="1533.8" cy="946.0" r="9.1" fill="#f7bca1"/>
<circle cx="1620.0" cy="950.5" r="9.1" fill="#f7b79b"/>
<circle cx="1610.0" cy="958.5" r="9.1" fill="#a9c6fd"/>
<circle cx="1818.0" cy="923.5" r="9.1" fill="#f7b79b"/>
<circle cx="1357.5" cy="937.2" r="9.1" fill="#a5c3fe"/>
<circle cx="1396.8" cy="918.0" r="9.1" fill="#f7b396"/>
<circle cx="1578.8" cy="913.5" r="9.1" fill="#f7b194"/>
<circle cx="1602.5" cy="943.5" r="9.1" fill="#f7b194"/>
<circle cx="1471.2" cy="946.0" r="9.1" fill="#f7a889"/>
<circle cx="1496.2" cy="943.5" r="9.1" fill="#f7a889"/>
<circle cx="1562.5" cy="913.5" r="9.1" fill="#9abbff"/>
<circle cx="1600.0" cy="931.0" r="9.1" fill="#f7a889"/>
<circle cx="1522.5" cy="943.5" r="9.1" fill="#f59f80"/>
<circle cx="1411.8" cy="914.2" r="9.1" fill="#f4987a"/>
<circle cx="1685.0" cy="944.0" r="9.1" fill="#f4987a"/>
<circle cx="1590.0" cy="931.0" r="9.1" fill="#8badfd"/>
<circle cx="1530.0" cy="966.0" r="9.1" fill="#7b9ff9"/>
<circle cx="1536.2" cy="963.5" r="9.1" fill="#ee8468"/>
<circle cx="1566.2" cy="919.8" r="9.1" fill="#ee8468"/>
<circle cx="1653.0" cy="942.2" r="9.1" fill="#ee8468"/>
<circle cx="1775.0" cy="961.0" r="9.1" fill="#ea7b60"/>
<circle cx="1540.0" cy="953.5" r="9.1" fill="#7396f5"/>
<circle cx="1477.5" cy="937.2" r="9.1" fill="#6c8ff1"/>
<circle cx="1593.0" cy="949.2" r="9.1" fill="#d65244"/>
<circle cx="1615.0" cy="1039.1" r="9.1" fill="#d7dce3"/>
<circle cx="1523.8" cy="1039.0" r="9.1" fill="#e9d5cb"/>
<circle cx="1600.5" cy="1024.1" r="9.1" fill="#c0d4f5"/>
<circle cx="1595.8" cy="1033.4" r="9.1" fill="#e2dad5"/>
<circle cx="1568.7" cy="1017.9" r="9.1" fill="#cfdaea"/>
<circle cx="1526.8" cy="1016.1" r="9.1" fill="#dddcdc"/>
<circle cx="1513.2" cy="1040.4" r="9.1" fill="#e2dad5"/>
<circle cx="1525.6" cy="1043.7" r="9.1" fill="#d7dce3"/>
<circle cx="1505.9" cy="1018.5" r="9.1" fill="#cfdaea"/>
<circle cx="1532.1" cy="1029.0" r="9.1" fill="#d7dce3"/>
<circle cx="1585.6" cy="1050.5" r="9.1" fill="#f2cbb7"/>
<circle cx="1561.5" cy="1022.3" r="9.1" fill="#afcafc"/>
<circle cx="1572.0" cy="1040.9" r="9.1" fill="#cfdaea"/>
<circle cx="1542.4" cy="1016.4" r="9.1" fill="#c0d4f5"/>
<circle cx="1505.8" cy="1018.3" r="9.1" fill="#afcafc"/>
<circle cx="1588.2" cy="1047.2" r="9.1" fill="#d7dce3"/>
<circle cx="1514.3" cy="1045.9" r="9.1" fill="#d7dce3"/>
<circle cx="1543.8" cy="1053.1" r="9.1" fill="#e2dad5"/>
<circle cx="1511.5" cy="1027.4" r="9.1" fill="#cfdaea"/>
<circle cx="1607.0" cy="1043.1" r="9.1" fill="#c0d4f5"/>
<circle cx="1523.3" cy="1009.7" r="9.1" fill="#c0d4f5"/>
<circle cx="1576.5" cy="1007.5" r="9.1" fill="#cfdaea"/>
<circle cx="1527.3" cy="1046.8" r="9.1" fill="#c0d4f5"/>
<circle cx="1540.7" cy="1021.9" r="9.1" fill="#e2dad5"/>
<circle cx="1632.3" cy="1007.2" r="9.1" fill="#c0d4f5"/>
<circle cx="1550.6" cy="1045.6" r="9.1" fill="#e9d5cb"/>
<circle cx="1552.9" cy="1046.6" r="9.1" fill="#e2dad5"/>
<circle cx="1560.0" cy="1036.1" r="9.1" fill="#c0d4f5"/>
<circle cx="1553.3" cy="1047.7" r="9.1" fill="#f2cbb7"/>
<circle cx="1582.2" cy="1019.8" r="9.1" fill="#c0d4f5"/>
<circle cx="1503.9" cy="1052.6" r="9.1" fill="#f2cbb7"/>
<circle cx="1571.7" cy="1021.7" r="9.1" fill="#dddcdc"/>
<circle cx="1516.4" cy="1030.7" r="9.1" fill="#c0d4f5"/>
<circle cx="1579.7" cy="1052.7" r="9.1" fill="#dddcdc"/>
<circle cx="1541.9" cy="1015.2" r="9.1" fill="#e2dad5"/>
<circle cx="1552.1" cy="1013.0" r="9.1" fill="#afcafc"/>
<circle cx="1502.8" cy="1008.7" r="9.1" fill="#dddcdc"/>
<circle cx="1591.5" cy="1047.4" r="9.1" fill="#cfdaea"/>
<circle cx="1529.9" cy="1013.5" r="9.1" fill="#dddcdc"/>
<circle cx="1527.4" cy="1051.3" r="9.1" fill="#c0d4f5"/>
<circle cx="1529.5" cy="1019.1" r="9.1" fill="#c0d4f5"/>
<circle cx="1537.7" cy="1050.6" r="9.1" fill="#afcafc"/>
<circle cx="1603.9" cy="1051.6" r="9.1" fill="#c0d4f5"/>
<circle cx="1573.1" cy="1015.0" r="9.1" fill="#e2dad5"/>
<circle cx="1633.7" cy="1026.0" r="9.1" fill="#c0d4f5"/>
<circle cx="1597.3" cy="1034.8" r="9.1" fill="#dddcdc"/>
<circle cx="1524.0" cy="1042.4" r="9.1" fill="#afcafc"/>
<circle cx="1569.2" cy="1053.3" r="9.1" fill="#afcafc"/>
<circle cx="1550.6" cy="1015.6" r="9.1" fill="#cfdaea"/>
<circle cx="1522.7" cy="1013.0" r="9.1" fill="#afcafc"/>
<circle cx="1471.8" cy="1019.5" r="9.1" fill="#e2dad5"/>
<circle cx="1519.4" cy="1016.1" r="9.1" fill="#e2dad5"/>
<circle cx="1490.6" cy="1042.6" r="9.1" fill="#afcafc"/>
<circle cx="1519.0" cy="1007.7" r="9.1" fill="#d7dce3"/>
<circle cx="1608.7" cy="1021.8" r="9.1" fill="#e2dad5"/>
<circle cx="1529.8" cy="1028.9" r="9.1" fill="#f2cbb7"/>
<circle cx="1602.8" cy="1016.4" r="9.1" fill="#e9d5cb"/>
<circle cx="1606.2" cy="1048.3" r="9.1" fill="#e2dad5"/>
<circle cx="1541.8" cy="1046.2" r="9.1" fill="#e9d5cb"/>
<circle cx="1561.1" cy="1012.1" r="9.1" fill="#cfdaea"/>
<circle cx="1538.7" cy="1012.1" r="9.1" fill="#cfdaea"/>
<circle cx="1584.6" cy="1042.3" r="9.1" fill="#d7dce3"/>
<circle cx="1560.4" cy="1012.6" r="9.1" fill="#dddcdc"/>
<circle cx="1556.2" cy="1016.1" r="9.1" fill="#dddcdc"/>
<circle cx="1577.5" cy="1026.2" r="9.1" fill="#f2cbb7"/>
<circle cx="1487.9" cy="1044.8" r="9.1" fill="#c0d4f5"/>
<circle cx="1526.3" cy="1028.2" r="9.1" fill="#e2dad5"/>
<circle cx="1575.7" cy="1029.9" r="9.1" fill="#f2cbb7"/>
<circle cx="1550.0" cy="1046.5" r="9.1" fill="#dddcdc"/>
<circle cx="1554.5" cy="1048.3" r="9.1" fill="#e2dad5"/>
<circle cx="1581.0" cy="1022.3" r="9.1" fill="#f2cbb7"/>
<circle cx="1567.3" cy="1025.3" r="9.1" fill="#e2dad5"/>
<circle cx="1517.2" cy="1052.5" r="9.1" fill="#c0d4f5"/>
<circle cx="1544.9" cy="1030.2" r="9.1" fill="#cfdaea"/>
<circle cx="1509.1" cy="1021.9" r="9.1" fill="#c0d4f5"/>
<circle cx="1580.3" cy="1036.9" r="9.1" fill="#cfdaea"/>
<circle cx="1539.8" cy="1025.5" r="9.1" fill="#c0d4f5"/>
<circle cx="1525.3" cy="1045.0" r="9.1" fill="#cfdaea"/>
<circle cx="1581.5" cy="1035.5" r="9.1" fill="#c0d4f5"/>
<circle cx="1567.8" cy="1041.0" r="9.1" fill="#dddcdc"/>
<circle cx="1559.7" cy="1031.2" r="9.1" fill="#cfdaea"/>
<circle cx="1540.0" cy="1039.1" r="9.1" fill="#f2cbb7"/>
<circle cx="1529.1" cy="1044.1" r="9.1" fill="#d7dce3"/>
<circle cx="1520.2" cy="1051.8" r="9.1" fill="#afcafc"/>
<circle cx="1527.6" cy="1015.9" r="9.1" fill="#e2dad5"/>
<circle cx="1600.9" cy="1030.2" r="9.1" fill="#dddcdc"/>
<circle cx="1556.1" cy="1051.7" r="9.1" fill="#c0d4f5"/>
<circle cx="1470.5" cy="1021.6" r="9.1" fill="#e2dad5"/>
<circle cx="1534.3" cy="1023.6" r="9.1" fill="#f2cbb7"/>
<circle cx="1538.1" cy="1045.7" r="9.1" fill="#e9d5cb"/>
<circle cx="1565.3" cy="1030.6" r="9.1" fill="#dddcdc"/>
<circle cx="1591.3" cy="1020.6" r="9.1" fill="#afcafc"/>
<circle cx="1545.0" cy="1008.2" r="9.1" fill="#c0d4f5"/>
<circle cx="1566.9" cy="1050.9" r="9.1" fill="#f2cbb7"/>
<circle cx="1574.4" cy="1007.4" r="9.1" fill="#afcafc"/>
<circle cx="1536.6" cy="1052.7" r="9.1" fill="#cfdaea"/>
<circle cx="1528.2" cy="1019.3" r="9.1" fill="#c0d4f5"/>
<circle cx="1522.4" cy="1027.8" r="9.1" fill="#dddcdc"/>
<circle cx="1609.2" cy="1030.8" r="9.1" fill="#f2cbb7"/>
<circle cx="1564.1" cy="1039.7" r="9.1" fill="#e9d5cb"/>
<circle cx="1525.8" cy="1012.1" r="9.1" fill="#dddcdc"/>
<circle cx="1552.6" cy="1022.9" r="9.1" fill="#e9d5cb"/>
<circle cx="1577.4" cy="1024.5" r="9.1" fill="#e2dad5"/>
<circle cx="1595.4" cy="1017.3" r="9.1" fill="#cfdaea"/>
<circle cx="1600.5" cy="1041.9" r="9.1" fill="#e2dad5"/>
<circle cx="1574.6" cy="1051.2" r="9.1" fill="#e2dad5"/>
<circle cx="1507.8" cy="1049.1" r="9.1" fill="#e2dad5"/>
<circle cx="1565.5" cy="1046.7" r="9.1" fill="#c0d4f5"/>
<circle cx="1592.3" cy="1044.2" r="9.1" fill="#e9d5cb"/>
<circle cx="1477.4" cy="1043.3" r="9.1" fill="#e9d5cb"/>
<circle cx="1572.4" cy="1033.3" r="9.1" fill="#f2cbb7"/>
<circle cx="1589.3" cy="1012.4" r="9.1" fill="#f2cbb7"/>
<circle cx="1574.5" cy="1006.9" r="9.1" fill="#e9d5cb"/>
<circle cx="1570.8" cy="1012.1" r="9.1" fill="#cfdaea"/>
<circle cx="1624.0" cy="1034.6" r="9.1" fill="#afcafc"/>
<circle cx="1537.5" cy="1023.2" r="9.1" fill="#e2dad5"/>
<circle cx="1548.5" cy="1031.5" r="9.1" fill="#e2dad5"/>
<circle cx="1500.0" cy="1042.4" r="9.1" fill="#dddcdc"/>
<circle cx="1505.6" cy="1029.2" r="9.1" fill="#e2dad5"/>
<circle cx="1593.2" cy="1008.0" r="9.1" fill="#f2cbb7"/>
<circle cx="1593.0" cy="1023.0" r="9.1" fill="#d7dce3"/>
<circle cx="1564.3" cy="1007.8" r="9.1" fill="#dddcdc"/>
<circle cx="1528.8" cy="1021.3" r="9.1" fill="#afcafc"/>
<circle cx="1545.1" cy="1036.7" r="9.1" fill="#c0d4f5"/>
<circle cx="1504.1" cy="1037.2" r="9.1" fill="#cfdaea"/>
<circle cx="1585.5" cy="1024.6" r="9.1" fill="#dddcdc"/>
<circle cx="1526.5" cy="1033.6" r="9.1" fill="#afcafc"/>
<circle cx="1538.7" cy="1015.6" r="9.1" fill="#e9d5cb"/>
<circle cx="1533.9" cy="1009.6" r="9.1" fill="#e9d5cb"/>
<circle cx="1555.3" cy="1053.1" r="9.1" fill="#e2dad5"/>
<circle cx="1434.5" cy="1029.5" r="9.1" fill="#dddcdc"/>
<circle cx="1446.2" cy="1046.2" r="9.1" fill="#dddcdc"/>
<circle cx="1501.2" cy="1038.8" r="9.1" fill="#dddcdc"/>
<circle cx="1567.5" cy="1010.0" r="9.1" fill="#dddcdc"/>
<circle cx="1585.0" cy="1038.8" r="9.1" fill="#dddcdc"/>
<circle cx="1606.2" cy="1022.5" r="9.1" fill="#dddcdc"/>
<circle cx="1615.0" cy="1033.8" r="9.1" fill="#dddcdc"/>
<circle cx="1497.5" cy="1023.8" r="9.1" fill="#d9dce1"/>
<circle cx="1532.5" cy="1002.5" r="9.1" fill="#e0dbd8"/>
<circle cx="1551.2" cy="1003.8" r="9.1" fill="#d9dce1"/>
<circle cx="1557.5" cy="1041.2" r="9.1" fill="#d9dce1"/>
<circle cx="1562.5" cy="1002.5" r="9.1" fill="#d9dce1"/>
<circle cx="1523.8" cy="1010.0" r="9.1" fill="#d4dbe6"/>
<circle cx="1531.2" cy="1055.0" r="9.1" fill="#d4dbe6"/>
<circle cx="1547.5" cy="1047.5" r="9.1" fill="#d4dbe6"/>
<circle cx="1580.0" cy="1000.0" r="9.1" fill="#d4dbe6"/>
<circle cx="1617.5" cy="1055.0" r="9.1" fill="#d4dbe6"/>
<circle cx="1467.5" cy="1050.5" r="9.1" fill="#e5d8d1"/>
<circle cx="1475.0" cy="1043.8" r="9.1" fill="#e5d8d1"/>
<circle cx="1575.0" cy="1037.5" r="9.1" fill="#e5d8d1"/>
<circle cx="1592.5" cy="1027.5" r="9.1" fill="#e5d8d1"/>
<circle cx="1637.5" cy="1032.5" r="9.1" fill="#e9d5cb"/>
<circle cx="1364.5" cy="1027.0" r="9.1" fill="#cfdaea"/>
<circle cx="1673.8" cy="1029.5" r="9.1" fill="#cfdaea"/>
<circle cx="1618.8" cy="1011.2" r="9.1" fill="#ead4c8"/>
<circle cx="1460.0" cy="1026.2" r="9.1" fill="#cdd9ec"/>
<circle cx="1490.0" cy="1020.0" r="9.1" fill="#cdd9ec"/>
<circle cx="1491.2" cy="1030.0" r="9.1" fill="#cad8ef"/>
<circle cx="1512.5" cy="1053.8" r="9.1" fill="#edd2c3"/>
<circle cx="1540.0" cy="1012.5" r="9.1" fill="#cad8ef"/>
<circle cx="1551.2" cy="1028.8" r="9.1" fill="#edd2c3"/>
<circle cx="1650.0" cy="1055.0" r="9.1" fill="#cad8ef"/>
<circle cx="1542.5" cy="1017.5" r="9.1" fill="#c5d6f2"/>
<circle cx="1558.8" cy="1022.5" r="9.1" fill="#c5d6f2"/>
<circle cx="1565.0" cy="1057.5" r="9.1" fill="#efcebd"/>
<circle cx="1581.2" cy="1016.2" r="9.1" fill="#c5d6f2"/>
<circle cx="1583.8" cy="1052.5" r="9.1" fill="#c5d6f2"/>
<circle cx="1630.0" cy="1013.8" r="9.1" fill="#c5d6f2"/>
<circle cx="1658.8" cy="1049.5" r="9.1" fill="#efcebd"/>
<circle cx="1671.2" cy="1016.2" r="9.1" fill="#f2cbb7"/>
<circle cx="1525.0" cy="1022.5" r="9.1" fill="#bfd3f6"/>
<circle cx="1570.0" cy="1025.0" r="9.1" fill="#bfd3f6"/>
<circle cx="1590.0" cy="1057.5" r="9.1" fill="#bfd3f6"/>
<circle cx="1597.5" cy="1002.5" r="9.1" fill="#f2cab5"/>
<circle cx="1646.2" cy="1012.5" r="9.1" fill="#f2cab5"/>
<circle cx="1645.0" cy="1046.2" r="9.1" fill="#bad0f8"/>
<circle cx="1507.5" cy="1050.5" r="9.1" fill="#b7cff9"/>
<circle cx="1491.2" cy="1049.5" r="9.1" fill="#b3cdfb"/>
<circle cx="1515.0" cy="1010.0" r="9.1" fill="#b3cdfb"/>
<circle cx="1601.2" cy="1046.2" r="9.1" fill="#b3cdfb"/>
<circle cx="1521.2" cy="1036.2" r="9.1" fill="#aec9fc"/>
<circle cx="1530.0" cy="1045.0" r="9.1" fill="#aec9fc"/>
<circle cx="1707.0" cy="1014.5" r="9.1" fill="#a9c6fd"/>
<circle cx="1621.2" cy="1050.0" r="9.1" fill="#a7c5fe"/>
<circle cx="1533.8" cy="1007.5" r="9.1" fill="#f7b599"/>
<circle cx="1708.8" cy="1049.5" r="9.1" fill="#9ebeff"/>
<circle cx="1747.5" cy="1005.0" r="9.1" fill="#9ebeff"/>
<circle cx="1450.0" cy="1029.5" r="9.1" fill="#8fb1fe"/>
<circle cx="1606.2" cy="1035.0" r="9.1" fill="#8fb1fe"/>
<circle cx="1562.9" cy="1140.5" r="9.1" fill="#9ebeff"/>
<circle cx="1528.6" cy="1130.4" r="9.1" fill="#9ebeff"/>
<circle cx="1502.2" cy="1130.5" r="9.1" fill="#c0d4f5"/>
<circle cx="1525.6" cy="1102.0" r="9.1" fill="#c0d4f5"/>
<circle cx="1572.0" cy="1125.0" r="9.1" fill="#e9d5cb"/>
<circle cx="1495.1" cy="1111.6" r="9.1" fill="#dddcdc"/>
<circle cx="1489.0" cy="1103.8" r="9.1" fill="#afcafc"/>
<circle cx="1520.5" cy="1134.5" r="9.1" fill="#c0d4f5"/>
<circle cx="1492.4" cy="1118.9" r="9.1" fill="#afcafc"/>
<circle cx="1547.4" cy="1137.8" r="9.1" fill="#dddcdc"/>
<circle cx="1535.3" cy="1097.7" r="9.1" fill="#e9d5cb"/>
<circle cx="1580.5" cy="1131.4" r="9.1" fill="#e9d5cb"/>
<circle cx="1537.7" cy="1126.4" r="9.1" fill="#afcafc"/>
<circle cx="1515.5" cy="1111.8" r="9.1" fill="#dddcdc"/>
<circle cx="1556.4" cy="1112.7" r="9.1" fill="#dddcdc"/>
<circle cx="1539.8" cy="1104.8" r="9.1" fill="#c0d4f5"/>
<circle cx="1484.5" cy="1128.6" r="9.1" fill="#afcafc"/>
<circle cx="1530.1" cy="1109.9" r="9.1" fill="#cfdaea"/>
<circle cx="1524.6" cy="1132.8" r="9.1" fill="#dddcdc"/>
<circle cx="1583.1" cy="1137.7" r="9.1" fill="#9ebeff"/>
<circle cx="1543.7" cy="1116.9" r="9.1" fill="#cfdaea"/>
<circle cx="1525.0" cy="1107.6" r="9.1" fill="#8db0fe"/>
<circle cx="1554.8" cy="1142.0" r="9.1" fill="#afcafc"/>
<circle cx="1491.3" cy="1115.0" r="9.1" fill="#afcafc"/>
<circle cx="1498.4" cy="1128.4" r="9.1" fill="#8db0fe"/>
<circle cx="1542.5" cy="1129.7" r="9.1" fill="#afcafc"/>
<circle cx="1574.3" cy="1099.7" r="9.1" fill="#8db0fe"/>
<circle cx="1571.1" cy="1119.9" r="9.1" fill="#cfdaea"/>
<circle cx="1500.5" cy="1115.6" r="9.1" fill="#c0d4f5"/>
<circle cx="1560.3" cy="1135.1" r="9.1" fill="#c0d4f5"/>
<circle cx="1528.2" cy="1101.9" r="9.1" fill="#c0d4f5"/>
<circle cx="1491.7" cy="1104.4" r="9.1" fill="#e9d5cb"/>
<circle cx="1543.3" cy="1140.4" r="9.1" fill="#c0d4f5"/>
<circle cx="1571.3" cy="1102.6" r="9.1" fill="#afcafc"/>
<circle cx="1562.5" cy="1133.6" r="9.1" fill="#afcafc"/>
<circle cx="1549.5" cy="1122.3" r="9.1" fill="#afcafc"/>
<circle cx="1524.1" cy="1130.9" r="9.1" fill="#afcafc"/>
<circle cx="1563.2" cy="1122.5" r="9.1" fill="#c0d4f5"/>
<circle cx="1547.3" cy="1141.7" r="9.1" fill="#9ebeff"/>
<circle cx="1589.5" cy="1143.1" r="9.1" fill="#9ebeff"/>
<circle cx="1601.7" cy="1126.3" r="9.1" fill="#dddcdc"/>
<circle cx="1514.3" cy="1129.4" r="9.1" fill="#cfdaea"/>
<circle cx="1546.7" cy="1103.5" r="9.1" fill="#9ebeff"/>
<circle cx="1540.7" cy="1134.0" r="9.1" fill="#8db0fe"/>
<circle cx="1551.4" cy="1135.9" r="9.1" fill="#e9d5cb"/>
<circle cx="1581.6" cy="1137.3" r="9.1" fill="#dddcdc"/>
<circle cx="1611.6" cy="1115.4" r="9.1" fill="#9ebeff"/>
<circle cx="1531.0" cy="1130.9" r="9.1" fill="#cfdaea"/>
<circle cx="1543.3" cy="1097.2" r="9.1" fill="#afcafc"/>
<circle cx="1524.7" cy="1118.0" r="9.1" fill="#e9d5cb"/>
<circle cx="1610.1" cy="1111.1" r="9.1" fill="#c0d4f5"/>
<circle cx="1543.9" cy="1128.6" r="9.1" fill="#e9d5cb"/>
<circle cx="1562.7" cy="1140.6" r="9.1" fill="#dddcdc"/>
<circle cx="1572.2" cy="1137.6" r="9.1" fill="#9ebeff"/>
<circle cx="1506.9" cy="1098.9" r="9.1" fill="#9ebeff"/>
<circle cx="1521.8" cy="1140.8" r="9.1" fill="#afcafc"/>
<circle cx="1549.1" cy="1119.7" r="9.1" fill="#cfdaea"/>
<circle cx="1577.8" cy="1121.3" r="9.1" fill="#8db0fe"/>
<circle cx="1517.6" cy="1113.9" r="9.1" fill="#afcafc"/>
<circle cx="1538.3" cy="1117.6" r="9.1" fill="#c0d4f5"/>
<circle cx="1569.1" cy="1110.2" r="9.1" fill="#c0d4f5"/>
<circle cx="1547.7" cy="1102.3" r="9.1" fill="#afcafc"/>
<circle cx="1525.4" cy="1122.9" r="9.1" fill="#c0d4f5"/>
<circle cx="1596.5" cy="1113.8" r="9.1" fill="#afcafc"/>
<circle cx="1502.0" cy="1128.1" r="9.1" fill="#c0d4f5"/>
<circle cx="1525.1" cy="1136.3" r="9.1" fill="#c0d4f5"/>
<circle cx="1494.8" cy="1127.2" r="9.1" fill="#dddcdc"/>
<circle cx="1572.2" cy="1134.4" r="9.1" fill="#e9d5cb"/>
<circle cx="1527.0" cy="1105.2" r="9.1" fill="#c0d4f5"/>
<circle cx="1498.6" cy="1132.0" r="9.1" fill="#dddcdc"/>
<circle cx="1617.3" cy="1116.6" r="9.1" fill="#cfdaea"/>
<circle cx="1495.6" cy="1124.3" r="9.1" fill="#c0d4f5"/>
<circle cx="1519.4" cy="1124.4" r="9.1" fill="#e9d5cb"/>
<circle cx="1521.5" cy="1111.6" r="9.1" fill="#8db0fe"/>
<circle cx="1561.4" cy="1116.6" r="9.1" fill="#afcafc"/>
<circle cx="1506.1" cy="1123.1" r="9.1" fill="#8db0fe"/>
<circle cx="1483.0" cy="1142.7" r="9.1" fill="#8db0fe"/>
<circle cx="1539.6" cy="1111.7" r="9.1" fill="#c0d4f5"/>
<circle cx="1512.6" cy="1125.5" r="9.1" fill="#e9d5cb"/>
<circle cx="1507.3" cy="1113.5" r="9.1" fill="#e9d5cb"/>
<circle cx="1561.3" cy="1122.1" r="9.1" fill="#afcafc"/>
<circle cx="1544.0" cy="1123.4" r="9.1" fill="#dddcdc"/>
<circle cx="1509.7" cy="1105.9" r="9.1" fill="#cfdaea"/>
<circle cx="1491.1" cy="1121.7" r="9.1" fill="#e9d5cb"/>
<circle cx="1558.4" cy="1135.4" r="9.1" fill="#c0d4f5"/>
<circle cx="1521.5" cy="1117.0" r="9.1" fill="#c0d4f5"/>
<circle cx="1524.5" cy="1110.5" r="9.1" fill="#cfdaea"/>
<circle cx="1573.2" cy="1141.5" r="9.1" fill="#9ebeff"/>
<circle cx="1587.6" cy="1099.9" r="9.1" fill="#c0d4f5"/>
<circle cx="1598.3" cy="1103.6" r="9.1" fill="#e9d5cb"/>
<circle cx="1505.8" cy="1138.6" r="9.1" fill="#afcafc"/>
<circle cx="1590.1" cy="1102.1" r="9.1" fill="#9ebeff"/>
<circle cx="1536.9" cy="1129.8" r="9.1" fill="#dddcdc"/>
<circle cx="1495.4" cy="1099.8" r="9.1" fill="#8db0fe"/>
<circle cx="1539.4" cy="1102.5" r="9.1" fill="#afcafc"/>
<circle cx="1580.0" cy="1135.8" r="9.1" fill="#afcafc"/>
<circle cx="1568.4" cy="1106.7" r="9.1" fill="#8db0fe"/>
<circle cx="1577.6" cy="1119.6" r="9.1" fill="#e9d5cb"/>
<circle cx="1553.0" cy="1134.0" r="9.1" fill="#e9d5cb"/>
<circle cx="1556.6" cy="1097.0" r="9.1" fill="#cfdaea"/>
<circle cx="1530.9" cy="1129.2" r="9.1" fill="#dddcdc"/>
<circle cx="1580.4" cy="1101.6" r="9.1" fill="#8db0fe"/>
<circle cx="1552.2" cy="1115.3" r="9.1" fill="#c0d4f5"/>
<circle cx="1492.3" cy="1118.8" r="9.1" fill="#afcafc"/>
<circle cx="1537.7" cy="1124.0" r="9.1" fill="#afcafc"/>
<circle cx="1502.8" cy="1106.9" r="9.1" fill="#8db0fe"/>
<circle cx="1563.6" cy="1113.0" r="9.1" fill="#cfdaea"/>
<circle cx="1523.6" cy="1128.0" r="9.1" fill="#c0d4f5"/>
<circle cx="1551.3" cy="1132.4" r="9.1" fill="#9ebeff"/>
<circle cx="1569.0" cy="1096.0" r="9.1" fill="#8db0fe"/>
<circle cx="1532.1" cy="1127.5" r="9.1" fill="#e9d5cb"/>
<circle cx="1493.5" cy="1132.9" r="9.1" fill="#e9d5cb"/>
<circle cx="1532.8" cy="1102.7" r="9.1" fill="#dddcdc"/>
<circle cx="1473.3" cy="1132.8" r="9.1" fill="#c0d4f5"/>
<circle cx="1540.5" cy="1099.1" r="9.1" fill="#dddcdc"/>
<circle cx="1527.5" cy="1110.6" r="9.1" fill="#8db0fe"/>
<circle cx="1599.8" cy="1104.6" r="9.1" fill="#dddcdc"/>
<circle cx="1575.3" cy="1117.2" r="9.1" fill="#8db0fe"/>
<circle cx="1557.2" cy="1096.4" r="9.1" fill="#c0d4f5"/>
<circle cx="1570.9" cy="1140.0" r="9.1" fill="#c0d4f5"/>
<circle cx="1504.1" cy="1123.7" r="9.1" fill="#c0d4f5"/>
<circle cx="1582.2" cy="1126.2" r="9.1" fill="#cfdaea"/>
<circle cx="1581.1" cy="1130.4" r="9.1" fill="#c0d4f5"/>
<circle cx="1577.1" cy="1126.0" r="9.1" fill="#afcafc"/>
<circle cx="1500.1" cy="1129.1" r="9.1" fill="#c0d4f5"/>
<circle cx="1561.2" cy="1123.5" r="9.1" fill="#e9d5cb"/>
<circle cx="1568.4" cy="1113.9" r="9.1" fill="#afcafc"/>
<circle cx="1520.9" cy="1137.1" r="9.1" fill="#c0d4f5"/>
<circle cx="1588.5" cy="1122.9" r="9.1" fill="#9ebeff"/>
<circle cx="1570.4" cy="1135.5" r="9.1" fill="#8db0fe"/>
<circle cx="1565.0" cy="1091.2" r="9.1" fill="#dddcdc"/>
<circle cx="1580.0" cy="1135.0" r="9.1" fill="#dddcdc"/>
<circle cx="1480.0" cy="1112.5" r="9.1" fill="#e1dad6"/>
<circle cx="1510.0" cy="1140.0" r="9.1" fill="#d8dce2"/>
<circle cx="1785.5" cy="1103.0" r="9.1" fill="#d5dbe5"/>
<circle cx="1612.0" cy="1133.0" r="9.1" fill="#d2dbe8"/>
<circle cx="1580.0" cy="1120.0" r="9.1" fill="#e7d7ce"/>
<circle cx="1423.8" cy="1138.0" r="9.1" fill="#cfdaea"/>
<circle cx="1647.5" cy="1120.0" r="9.1" fill="#cfdaea"/>
<circle cx="1577.5" cy="1111.2" r="9.1" fill="#ecd3c5"/>
<circle cx="1567.5" cy="1125.0" r="9.1" fill="#cbd8ee"/>
<circle cx="1552.5" cy="1112.5" r="9.1" fill="#efcfbf"/>
<circle cx="1576.2" cy="1097.5" r="9.1" fill="#efcfbf"/>
<circle cx="1433.8" cy="1108.8" r="9.1" fill="#c6d6f1"/>
<circle cx="1500.0" cy="1145.0" r="9.1" fill="#c1d4f4"/>
<circle cx="1607.5" cy="1097.5" r="9.1" fill="#f1ccb8"/>
<circle cx="1655.0" cy="1125.0" r="9.1" fill="#f2cbb7"/>
<circle cx="1433.8" cy="1119.5" r="9.1" fill="#f4c6af"/>
<circle cx="1470.0" cy="1125.0" r="9.1" fill="#bad0f8"/>
<circle cx="1491.2" cy="1095.0" r="9.1" fill="#bad0f8"/>
<circle cx="1511.2" cy="1095.0" r="9.1" fill="#bad0f8"/>
<circle cx="1516.2" cy="1125.0" r="9.1" fill="#bad0f8"/>
<circle cx="1522.5" cy="1115.0" r="9.1" fill="#bad0f8"/>
<circle cx="1560.0" cy="1100.0" r="9.1" fill="#bad0f8"/>
<circle cx="1593.8" cy="1127.5" r="9.1" fill="#bad0f8"/>
<circle cx="1597.5" cy="1120.0" r="9.1" fill="#bad0f8"/>
<circle cx="1740.5" cy="1127.0" r="9.1" fill="#f4c6af"/>
<circle cx="1468.8" cy="1104.5" r="9.1" fill="#b2ccfb"/>
<circle cx="1488.8" cy="1118.8" r="9.1" fill="#b2ccfb"/>
<circle cx="1448.8" cy="1136.2" r="9.1" fill="#afcafc"/>
<circle cx="1545.0" cy="1092.5" r="9.1" fill="#f7ba9f"/>
<circle cx="1497.5" cy="1135.0" r="9.1" fill="#adc9fd"/>
<circle cx="1530.0" cy="1095.0" r="9.1" fill="#adc9fd"/>
<circle cx="1537.5" cy="1115.0" r="9.1" fill="#adc9fd"/>
<circle cx="1555.0" cy="1096.2" r="9.1" fill="#adc9fd"/>
<circle cx="1572.5" cy="1141.2" r="9.1" fill="#adc9fd"/>
<circle cx="1587.5" cy="1105.0" r="9.1" fill="#adc9fd"/>
<circle cx="1637.0" cy="1104.5" r="9.1" fill="#f7b497"/>
<circle cx="1473.8" cy="1139.5" r="9.1" fill="#a6c4fe"/>
<circle cx="1528.8" cy="1127.5" r="9.1" fill="#a6c4fe"/>
<circle cx="1550.0" cy="1132.5" r="9.1" fill="#a6c4fe"/>
<circle cx="1526.2" cy="1143.8" r="9.1" fill="#9ebeff"/>
<circle cx="1545.0" cy="1143.8" r="9.1" fill="#9ebeff"/>
<circle cx="1592.5" cy="1111.2" r="9.1" fill="#9ebeff"/>
<circle cx="1685.5" cy="1100.0" r="9.1" fill="#9ebeff"/>
<circle cx="1719.5" cy="1100.5" r="9.1" fill="#9ebeff"/>
<circle cx="1456.2" cy="1122.5" r="9.1" fill="#f6a385"/>
<circle cx="1450.0" cy="1145.0" r="9.1" fill="#96b7ff"/>
<circle cx="1506.2" cy="1146.2" r="9.1" fill="#f59d7e"/>
<circle cx="1561.2" cy="1133.8" r="9.1" fill="#90b2fe"/>
<circle cx="1613.8" cy="1123.8" r="9.1" fill="#f59d7e"/>
<circle cx="1496.2" cy="1102.5" r="9.1" fill="#f39778"/>
<circle cx="1507.5" cy="1105.0" r="9.1" fill="#82a6fb"/>
<circle cx="1433.0" cy="1098.0" r="9.1" fill="#82a6fb"/>
<circle cx="1538.8" cy="1098.8" r="9.1" fill="#ed8366"/>
<circle cx="1533.8" cy="1106.2" r="9.1" fill="#ea7b60"/>
<circle cx="1664.2" cy="1126.2" r="9.1" fill="#c53334"/>
<circle cx="1553.6" cy="1231.5" r="9.1" fill="#afcafc"/>
<circle cx="1579.5" cy="1210.6" r="9.1" fill="#9ebeff"/>
<circle cx="1583.6" cy="1217.0" r="9.1" fill="#e9d5cb"/>
<circle cx="1522.9" cy="1187.5" r="9.1" fill="#f7ac8e"/>
<circle cx="1557.3" cy="1225.0" r="9.1" fill="#afcafc"/>
<circle cx="1510.0" cy="1215.4" r="9.1" fill="#e9d5cb"/>
<circle cx="1558.6" cy="1186.1" r="9.1" fill="#f6bda2"/>
<circle cx="1559.1" cy="1191.0" r="9.1" fill="#f2cbb7"/>
<circle cx="1577.8" cy="1208.2" r="9.1" fill="#c0d4f5"/>
<circle cx="1539.5" cy="1229.8" r="9.1" fill="#f2cbb7"/>
<circle cx="1511.5" cy="1231.7" r="9.1" fill="#dddcdc"/>
<circle cx="1553.8" cy="1197.4" r="9.1" fill="#dddcdc"/>
<circle cx="1544.7" cy="1200.6" r="9.1" fill="#f2cbb7"/>
<circle cx="1516.0" cy="1208.3" r="9.1" fill="#e9d5cb"/>
<circle cx="1541.0" cy="1206.7" r="9.1" fill="#e9d5cb"/>
<circle cx="1596.1" cy="1223.8" r="9.1" fill="#cfdaea"/>
<circle cx="1521.8" cy="1232.3" r="9.1" fill="#f7ac8e"/>
<circle cx="1575.6" cy="1187.4" r="9.1" fill="#9ebeff"/>
<circle cx="1494.4" cy="1184.9" r="9.1" fill="#dddcdc"/>
<circle cx="1530.9" cy="1201.6" r="9.1" fill="#f6bda2"/>
<circle cx="1572.9" cy="1211.3" r="9.1" fill="#f7ac8e"/>
<circle cx="1576.3" cy="1208.3" r="9.1" fill="#f7ac8e"/>
<circle cx="1547.6" cy="1219.3" r="9.1" fill="#e9d5cb"/>
<circle cx="1560.8" cy="1212.8" r="9.1" fill="#f2cbb7"/>
<circle cx="1582.2" cy="1207.2" r="9.1" fill="#f2cbb7"/>
<circle cx="1584.9" cy="1226.4" r="9.1" fill="#9ebeff"/>
<circle cx="1523.4" cy="1185.5" r="9.1" fill="#f6bda2"/>
<circle cx="1573.7" cy="1186.6" r="9.1" fill="#dddcdc"/>
<circle cx="1514.2" cy="1216.0" r="9.1" fill="#f7ac8e"/>
<circle cx="1558.6" cy="1231.6" r="9.1" fill="#afcafc"/>
<circle cx="1576.3" cy="1187.4" r="9.1" fill="#e9d5cb"/>
<circle cx="1541.0" cy="1227.7" r="9.1" fill="#9ebeff"/>
<circle cx="1567.8" cy="1186.8" r="9.1" fill="#e9d5cb"/>
<circle cx="1514.8" cy="1188.7" r="9.1" fill="#f2cbb7"/>
<circle cx="1540.4" cy="1203.0" r="9.1" fill="#afcafc"/>
<circle cx="1512.2" cy="1221.1" r="9.1" fill="#f2cbb7"/>
<circle cx="1513.5" cy="1197.2" r="9.1" fill="#c0d4f5"/>
<circle cx="1532.4" cy="1209.9" r="9.1" fill="#9ebeff"/>
<circle cx="1575.4" cy="1197.9" r="9.1" fill="#f2cbb7"/>
<circle cx="1520.7" cy="1224.6" r="9.1" fill="#afcafc"/>
<circle cx="1526.1" cy="1193.1" r="9.1" fill="#9ebeff"/>
<circle cx="1552.8" cy="1188.4" r="9.1" fill="#dddcdc"/>
<circle cx="1529.7" cy="1203.1" r="9.1" fill="#dddcdc"/>
<circle cx="1535.9" cy="1204.3" r="9.1" fill="#e9d5cb"/>
<circle cx="1529.8" cy="1198.0" r="9.1" fill="#e9d5cb"/>
<circle cx="1562.7" cy="1211.6" r="9.1" fill="#dddcdc"/>
<circle cx="1536.4" cy="1223.6" r="9.1" fill="#9ebeff"/>
<circle cx="1538.8" cy="1215.3" r="9.1" fill="#afcafc"/>
<circle cx="1555.2" cy="1221.0" r="9.1" fill="#9ebeff"/>
<circle cx="1553.8" cy="1189.6" r="9.1" fill="#e9d5cb"/>
<circle cx="1527.4" cy="1185.5" r="9.1" fill="#9ebeff"/>
<circle cx="1586.4" cy="1203.3" r="9.1" fill="#f7ac8e"/>
<circle cx="1577.4" cy="1207.7" r="9.1" fill="#f7ac8e"/>
<circle cx="1561.3" cy="1194.6" r="9.1" fill="#cfdaea"/>
<circle cx="1552.3" cy="1191.9" r="9.1" fill="#dddcdc"/>
<circle cx="1496.1" cy="1199.7" r="9.1" fill="#cfdaea"/>
<circle cx="1543.4" cy="1188.9" r="9.1" fill="#dddcdc"/>
<circle cx="1558.4" cy="1188.9" r="9.1" fill="#dddcdc"/>
<circle cx="1499.5" cy="1192.9" r="9.1" fill="#f7ac8e"/>
<circle cx="1538.2" cy="1212.1" r="9.1" fill="#e9d5cb"/>
<circle cx="1564.6" cy="1230.7" r="9.1" fill="#9ebeff"/>
<circle cx="1496.9" cy="1187.7" r="9.1" fill="#9ebeff"/>
<circle cx="1509.3" cy="1201.9" r="9.1" fill="#c0d4f5"/>
<circle cx="1585.4" cy="1219.3" r="9.1" fill="#cfdaea"/>
<circle cx="1527.3" cy="1224.8" r="9.1" fill="#c0d4f5"/>
<circle cx="1552.6" cy="1185.7" r="9.1" fill="#c0d4f5"/>
<circle cx="1577.4" cy="1203.6" r="9.1" fill="#9ebeff"/>
<circle cx="1525.9" cy="1195.4" r="9.1" fill="#dddcdc"/>
<circle cx="1513.6" cy="1212.7" r="9.1" fill="#cfdaea"/>
<circle cx="1527.5" cy="1199.4" r="9.1" fill="#afcafc"/>
<circle cx="1504.6" cy="1197.5" r="9.1" fill="#dddcdc"/>
<circle cx="1598.9" cy="1231.7" r="9.1" fill="#dddcdc"/>
<circle cx="1523.8" cy="1200.3" r="9.1" fill="#c0d4f5"/>
<circle cx="1581.8" cy="1206.2" r="9.1" fill="#afcafc"/>
<circle cx="1538.6" cy="1203.3" r="9.1" fill="#e9d5cb"/>
<circle cx="1585.0" cy="1218.6" r="9.1" fill="#f7ac8e"/>
<circle cx="1540.3" cy="1200.9" r="9.1" fill="#f7ac8e"/>
<circle cx="1563.3" cy="1218.6" r="9.1" fill="#f6bda2"/>
<circle cx="1545.2" cy="1218.6" r="9.1" fill="#f2cbb7"/>
<circle cx="1549.4" cy="1206.4" r="9.1" fill="#afcafc"/>
<circle cx="1525.4" cy="1189.0" r="9.1" fill="#afcafc"/>
<circle cx="1555.6" cy="1211.9" r="9.1" fill="#f6bda2"/>
<circle cx="1562.8" cy="1226.7" r="9.1" fill="#c0d4f5"/>
<circle cx="1525.6" cy="1212.6" r="9.1" fill="#cfdaea"/>
<circle cx="1505.5" cy="1203.7" r="9.1" fill="#e9d5cb"/>
<circle cx="1510.3" cy="1230.5" r="9.1" fill="#cfdaea"/>
<circle cx="1569.6" cy="1189.5" r="9.1" fill="#c0d4f5"/>
<circle cx="1531.0" cy="1216.0" r="9.1" fill="#9ebeff"/>
<circle cx="1527.6" cy="1205.4" r="9.1" fill="#c0d4f5"/>
<circle cx="1538.5" cy="1197.8" r="9.1" fill="#c0d4f5"/>
<circle cx="1573.1" cy="1229.8" r="9.1" fill="#e9d5cb"/>
<circle cx="1499.6" cy="1199.2" r="9.1" fill="#f7ac8e"/>
<circle cx="1520.6" cy="1187.4" r="9.1" fill="#cfdaea"/>
<circle cx="1551.9" cy="1209.8" r="9.1" fill="#f2cbb7"/>
<circle cx="1589.6" cy="1189.9" r="9.1" fill="#dddcdc"/>
<circle cx="1527.6" cy="1212.3" r="9.1" fill="#cfdaea"/>
<circle cx="1552.4" cy="1190.4" r="9.1" fill="#cfdaea"/>
<circle cx="1550.9" cy="1213.5" r="9.1" fill="#9ebeff"/>
<circle cx="1628.6" cy="1206.3" r="9.1" fill="#c0d4f5"/>
<circle cx="1558.2" cy="1212.4" r="9.1" fill="#c0d4f5"/>
<circle cx="1527.5" cy="1191.2" r="9.1" fill="#e9d5cb"/>
<circle cx="1567.3" cy="1187.5" r="9.1" fill="#f2cbb7"/>
<circle cx="1551.9" cy="1210.2" r="9.1" fill="#dddcdc"/>
<circle cx="1541.1" cy="1208.8" r="9.1" fill="#f2cbb7"/>
<circle cx="1595.6" cy="1230.6" r="9.1" fill="#afcafc"/>
<circle cx="1562.0" cy="1193.4" r="9.1" fill="#f7ac8e"/>
<circle cx="1561.9" cy="1232.8" r="9.1" fill="#cfdaea"/>
<circle cx="1550.0" cy="1226.1" r="9.1" fill="#cfdaea"/>
<circle cx="1517.1" cy="1193.6" r="9.1" fill="#afcafc"/>
<circle cx="1508.4" cy="1224.0" r="9.1" fill="#f7ac8e"/>
<circle cx="1528.3" cy="1188.3" r="9.1" fill="#afcafc"/>
<circle cx="1526.3" cy="1192.9" r="9.1" fill="#e9d5cb"/>
<circle cx="1578.5" cy="1204.0" r="9.1" fill="#dddcdc"/>
<circle cx="1542.1" cy="1195.1" r="9.1" fill="#9ebeff"/>
<circle cx="1563.8" cy="1216.9" r="9.1" fill="#dddcdc"/>
<circle cx="1594.6" cy="1207.4" r="9.1" fill="#9ebeff"/>
<circle cx="1601.5" cy="1208.8" r="9.1" fill="#f7ac8e"/>
<circle cx="1557.3" cy="1206.0" r="9.1" fill="#cfdaea"/>
<circle cx="1573.8" cy="1203.2" r="9.1" fill="#c0d4f5"/>
<circle cx="1552.4" cy="1197.6" r="9.1" fill="#c0d4f5"/>
<circle cx="1527.2" cy="1219.1" r="9.1" fill="#f7ac8e"/>
<circle cx="1564.9" cy="1207.9" r="9.1" fill="#f2cbb7"/>
<circle cx="1568.2" cy="1199.0" r="9.1" fill="#9ebeff"/>
<circle cx="1526.7" cy="1207.1" r="9.1" fill="#e9d5cb"/>
<circle cx="1545.9" cy="1221.2" r="9.1" fill="#c0d4f5"/>
<circle cx="1590.6" cy="1217.9" r="9.1" fill="#f7ac8e"/>
<circle cx="1558.4" cy="1202.4" r="9.1" fill="#f7ac8e"/>
<circle cx="1499.2" cy="1219.8" r="9.1" fill="#e9d5cb"/>
<circle cx="1519.9" cy="1215.1" r="9.1" fill="#afcafc"/>
<circle cx="1545.7" cy="1197.0" r="9.1" fill="#afcafc"/>
<circle cx="1505.0" cy="1215.2" r="9.1" fill="#dddcdc"/>
<circle cx="1540.0" cy="1179.0" r="9.1" fill="#dddcdc"/>
<circle cx="1593.8" cy="1187.8" r="9.1" fill="#dddcdc"/>
<circle cx="1753.0" cy="1206.5" r="9.1" fill="#d5dbe5"/>
<circle cx="1440.0" cy="1220.2" r="9.1" fill="#cfdaea"/>
<circle cx="1517.5" cy="1225.2" r="9.1" fill="#cfdaea"/>
<circle cx="1543.8" cy="1210.2" r="9.1" fill="#cfdaea"/>
<circle cx="1587.5" cy="1224.0" r="9.1" fill="#cfdaea"/>
<circle cx="1601.2" cy="1182.8" r="9.1" fill="#cfdaea"/>
<circle cx="1621.2" cy="1214.0" r="9.1" fill="#cfdaea"/>
<circle cx="1641.2" cy="1196.5" r="9.1" fill="#cfdaea"/>
<circle cx="1449.5" cy="1215.8" r="9.1" fill="#e9d5cb"/>
<circle cx="1485.0" cy="1200.2" r="9.1" fill="#e9d5cb"/>
<circle cx="1603.8" cy="1219.0" r="9.1" fill="#e9d5cb"/>
<circle cx="1525.0" cy="1201.5" r="9.1" fill="#efcfbf"/>
<circle cx="1533.8" cy="1222.8" r="9.1" fill="#efcfbf"/>
<circle cx="1465.0" cy="1209.0" r="9.1" fill="#c6d6f1"/>
<circle cx="1522.5" cy="1214.0" r="9.1" fill="#c6d6f1"/>
<circle cx="1560.0" cy="1227.8" r="9.1" fill="#c6d6f1"/>
<circle cx="1620.0" cy="1230.2" r="9.1" fill="#c6d6f1"/>
<circle cx="1466.2" cy="1200.2" r="9.1" fill="#f2cbb7"/>
<circle cx="1510.0" cy="1194.0" r="9.1" fill="#f2cbb7"/>
<circle cx="1515.0" cy="1182.8" r="9.1" fill="#f2cbb7"/>
<circle cx="1532.5" cy="1186.5" r="9.1" fill="#f2cbb7"/>
<circle cx="1561.2" cy="1184.0" r="9.1" fill="#c0d4f5"/>
<circle cx="1568.8" cy="1220.2" r="9.1" fill="#f2cbb7"/>
<circle cx="1576.2" cy="1180.2" r="9.1" fill="#c0d4f5"/>
<circle cx="1577.5" cy="1231.5" r="9.1" fill="#c0d4f5"/>
<circle cx="1598.8" cy="1204.0" r="9.1" fill="#f2cbb7"/>
<circle cx="1613.8" cy="1201.5" r="9.1" fill="#f2cbb7"/>
<circle cx="1506.2" cy="1231.5" r="9.1" fill="#f4c6af"/>
<circle cx="1546.2" cy="1196.5" r="9.1" fill="#f4c6af"/>
<circle cx="1658.8" cy="1187.8" r="9.1" fill="#f4c6af"/>
<circle cx="1378.0" cy="1228.2" r="9.1" fill="#afcafc"/>
<circle cx="1555.0" cy="1212.8" r="9.1" fill="#afcafc"/>
<circle cx="1583.8" cy="1195.2" r="9.1" fill="#afcafc"/>
<circle cx="1682.5" cy="1189.0" r="9.1" fill="#afcafc"/>
<circle cx="1562.5" cy="1200.2" r="9.1" fill="#f7ba9f"/>
<circle cx="1492.5" cy="1184.0" r="9.1" fill="#a5c3fe"/>
<circle cx="1575.0" cy="1187.8" r="9.1" fill="#a5c3fe"/>
<circle cx="1657.0" cy="1232.2" r="9.1" fill="#f7b396"/>
<circle cx="1595.0" cy="1229.0" r="9.1" fill="#f7ac8e"/>
<circle cx="1444.5" cy="1196.5" r="9.1" fill="#9ebeff"/>
<circle cx="1465.0" cy="1184.0" r="9.1" fill="#9ebeff"/>
<circle cx="1500.0" cy="1199.0" r="9.1" fill="#9ebeff"/>
<circle cx="1523.8" cy="1229.0" r="9.1" fill="#9ebeff"/>
<circle cx="1526.2" cy="1177.8" r="9.1" fill="#9ebeff"/>
<circle cx="1547.5" cy="1235.2" r="9.1" fill="#9ebeff"/>
<circle cx="1563.8" cy="1236.5" r="9.1" fill="#9ebeff"/>
<circle cx="1586.2" cy="1215.2" r="9.1" fill="#9ebeff"/>
<circle cx="1626.2" cy="1184.5" r="9.1" fill="#9ebeff"/>
<circle cx="1482.5" cy="1221.0" r="9.1" fill="#f6a586"/>
<circle cx="1571.2" cy="1207.8" r="9.1" fill="#f4987a"/>
<circle cx="1467.0" cy="1224.0" r="9.1" fill="#82a6fb"/>
<circle cx="1537.5" cy="1194.0" r="9.1" fill="#6a8bef"/>
<circle cx="1537.5" cy="1184.0" r="9.1" fill="#bb1b2c"/>
<circle cx="1544.4" cy="1308.2" r="9.1" fill="#9ebeff"/>
<circle cx="1564.4" cy="1302.3" r="9.1" fill="#f6bda2"/>
<circle cx="1567.1" cy="1300.5" r="9.1" fill="#f7ac8e"/>
<circle cx="1532.2" cy="1291.4" r="9.1" fill="#f7ac8e"/>
<circle cx="1594.7" cy="1297.9" r="9.1" fill="#cfdaea"/>
<circle cx="1540.3" cy="1275.6" r="9.1" fill="#f2cbb7"/>
<circle cx="1537.3" cy="1301.9" r="9.1" fill="#f7ac8e"/>
<circle cx="1520.5" cy="1281.2" r="9.1" fill="#afcafc"/>
<circle cx="1585.5" cy="1285.6" r="9.1" fill="#f6bda2"/>
<circle cx="1553.4" cy="1311.5" r="9.1" fill="#f4987a"/>
<circle cx="1540.8" cy="1295.6" r="9.1" fill="#afcafc"/>
<circle cx="1565.3" cy="1291.8" r="9.1" fill="#f4987a"/>
<circle cx="1601.5" cy="1291.5" r="9.1" fill="#f6bda2"/>
<circle cx="1581.8" cy="1310.9" r="9.1" fill="#e9d5cb"/>
<circle cx="1592.7" cy="1300.4" r="9.1" fill="#afcafc"/>
<circle cx="1561.7" cy="1303.7" r="9.1" fill="#f4987a"/>
<circle cx="1503.0" cy="1292.3" r="9.1" fill="#dddcdc"/>
<circle cx="1519.7" cy="1279.2" r="9.1" fill="#9ebeff"/>
<circle cx="1534.0" cy="1312.0" r="9.1" fill="#f2cbb7"/>
<circle cx="1608.9" cy="1305.1" r="9.1" fill="#f6bda2"/>
<circle cx="1581.0" cy="1298.7" r="9.1" fill="#f2cbb7"/>
<circle cx="1566.3" cy="1289.2" r="9.1" fill="#c0d4f5"/>
<circle cx="1529.9" cy="1301.2" r="9.1" fill="#c0d4f5"/>
<circle cx="1558.6" cy="1306.7" r="9.1" fill="#cfdaea"/>
<circle cx="1552.3" cy="1314.6" r="9.1" fill="#f2cbb7"/>
<circle cx="1518.7" cy="1319.4" r="9.1" fill="#f2cbb7"/>
<circle cx="1544.2" cy="1299.0" r="9.1" fill="#e9d5cb"/>
<circle cx="1536.8" cy="1282.4" r="9.1" fill="#cfdaea"/>
<circle cx="1578.7" cy="1314.4" r="9.1" fill="#c0d4f5"/>
<circle cx="1578.9" cy="1314.8" r="9.1" fill="#cfdaea"/>
<circle cx="1549.0" cy="1298.4" r="9.1" fill="#dddcdc"/>
<circle cx="1577.0" cy="1302.8" r="9.1" fill="#afcafc"/>
<circle cx="1600.7" cy="1309.9" r="9.1" fill="#f6bda2"/>
<circle cx="1607.5" cy="1277.8" r="9.1" fill="#f2cbb7"/>
<circle cx="1531.8" cy="1285.6" r="9.1" fill="#9ebeff"/>
<circle cx="1505.7" cy="1284.4" r="9.1" fill="#e9d5cb"/>
<circle cx="1541.0" cy="1310.5" r="9.1" fill="#f6bda2"/>
<circle cx="1550.6" cy="1312.3" r="9.1" fill="#f2cbb7"/>
<circle cx="1548.3" cy="1291.5" r="9.1" fill="#c0d4f5"/>
<circle cx="1524.1" cy="1296.5" r="9.1" fill="#e9d5cb"/>
<circle cx="1539.4" cy="1317.6" r="9.1" fill="#9ebeff"/>
<circle cx="1554.7" cy="1320.8" r="9.1" fill="#f7ac8e"/>
<circle cx="1564.9" cy="1281.6" r="9.1" fill="#f2cbb7"/>
<circle cx="1543.2" cy="1294.3" r="9.1" fill="#e9d5cb"/>
<circle cx="1525.3" cy="1310.6" r="9.1" fill="#f7ac8e"/>
<circle cx="1591.0" cy="1315.1" r="9.1" fill="#f7ac8e"/>
<circle cx="1574.5" cy="1301.5" r="9.1" fill="#f7ac8e"/>
<circle cx="1496.3" cy="1306.4" r="9.1" fill="#afcafc"/>
<circle cx="1595.0" cy="1294.0" r="9.1" fill="#9ebeff"/>
<circle cx="1519.7" cy="1276.5" r="9.1" fill="#f7ac8e"/>
<circle cx="1615.3" cy="1297.6" r="9.1" fill="#dddcdc"/>
<circle cx="1555.6" cy="1277.6" r="9.1" fill="#dddcdc"/>
<circle cx="1529.2" cy="1313.6" r="9.1" fill="#cfdaea"/>
<circle cx="1524.9" cy="1305.8" r="9.1" fill="#afcafc"/>
<circle cx="1507.2" cy="1320.7" r="9.1" fill="#e9d5cb"/>
<circle cx="1589.5" cy="1275.6" r="9.1" fill="#c0d4f5"/>
<circle cx="1518.1" cy="1297.8" r="9.1" fill="#9ebeff"/>
<circle cx="1532.4" cy="1313.4" r="9.1" fill="#f2cbb7"/>
<circle cx="1530.2" cy="1292.9" r="9.1" fill="#dddcdc"/>
<circle cx="1493.2" cy="1315.6" r="9.1" fill="#f7ac8e"/>
<circle cx="1569.9" cy="1316.2" r="9.1" fill="#e9d5cb"/>
<circle cx="1540.1" cy="1316.1" r="9.1" fill="#f7ac8e"/>
<circle cx="1538.1" cy="1292.1" r="9.1" fill="#afcafc"/>
<circle cx="1503.6" cy="1312.3" r="9.1" fill="#cfdaea"/>
<circle cx="1546.2" cy="1311.4" r="9.1" fill="#f6bda2"/>
<circle cx="1567.9" cy="1296.2" r="9.1" fill="#f7ac8e"/>
<circle cx="1561.6" cy="1321.1" r="9.1" fill="#e9d5cb"/>
<circle cx="1501.5" cy="1319.0" r="9.1" fill="#f6bda2"/>
<circle cx="1581.6" cy="1286.3" r="9.1" fill="#f2cbb7"/>
<circle cx="1549.8" cy="1285.9" r="9.1" fill="#c0d4f5"/>
<circle cx="1544.3" cy="1297.2" r="9.1" fill="#f7ac8e"/>
<circle cx="1541.2" cy="1290.1" r="9.1" fill="#e9d5cb"/>
<circle cx="1508.8" cy="1298.4" r="9.1" fill="#cfdaea"/>
<circle cx="1550.3" cy="1278.8" r="9.1" fill="#dddcdc"/>
<circle cx="1488.2" cy="1295.0" r="9.1" fill="#e9d5cb"/>
<circle cx="1535.9" cy="1310.0" r="9.1" fill="#f6bda2"/>
<circle cx="1496.2" cy="1312.2" r="9.1" fill="#f4987a"/>
<circle cx="1555.3" cy="1318.0" r="9.1" fill="#cfdaea"/>
<circle cx="1491.5" cy="1299.6" r="9.1" fill="#f6bda2"/>
<circle cx="1530.2" cy="1293.1" r="9.1" fill="#afcafc"/>
<circle cx="1501.7" cy="1280.4" r="9.1" fill="#f4987a"/>
<circle cx="1511.9" cy="1296.6" r="9.1" fill="#cfdaea"/>
<circle cx="1551.2" cy="1313.0" r="9.1" fill="#cfdaea"/>
<circle cx="1512.1" cy="1304.4" r="9.1" fill="#f2cbb7"/>
<circle cx="1569.9" cy="1303.2" r="9.1" fill="#dddcdc"/>
<circle cx="1556.1" cy="1308.1" r="9.1" fill="#cfdaea"/>
<circle cx="1545.3" cy="1303.2" r="9.1" fill="#9ebeff"/>
<circle cx="1528.8" cy="1308.0" r="9.1" fill="#cfdaea"/>
<circle cx="1555.4" cy="1312.5" r="9.1" fill="#e9d5cb"/>
<circle cx="1526.2" cy="1281.7" r="9.1" fill="#cfdaea"/>
<circle cx="1576.8" cy="1275.9" r="9.1" fill="#f2cbb7"/>
<circle cx="1578.3" cy="1279.0" r="9.1" fill="#9ebeff"/>
<circle cx="1535.4" cy="1277.9" r="9.1" fill="#f7ac8e"/>
<circle cx="1588.4" cy="1320.2" r="9.1" fill="#f6bda2"/>
<circle cx="1562.8" cy="1291.4" r="9.1" fill="#f2cbb7"/>
<circle cx="1549.1" cy="1280.8" r="9.1" fill="#f2cbb7"/>
<circle cx="1551.1" cy="1320.1" r="9.1" fill="#9ebeff"/>
<circle cx="1499.7" cy="1318.7" r="9.1" fill="#f2cbb7"/>
<circle cx="1566.6" cy="1315.6" r="9.1" fill="#afcafc"/>
<circle cx="1558.6" cy="1303.7" r="9.1" fill="#9ebeff"/>
<circle cx="1525.7" cy="1289.8" r="9.1" fill="#cfdaea"/>
<circle cx="1507.3" cy="1292.4" r="9.1" fill="#e9d5cb"/>
<circle cx="1554.9" cy="1295.3" r="9.1" fill="#c0d4f5"/>
<circle cx="1532.5" cy="1302.5" r="9.1" fill="#cfdaea"/>
<circle cx="1562.2" cy="1321.6" r="9.1" fill="#9ebeff"/>
<circle cx="1537.9" cy="1305.8" r="9.1" fill="#f4987a"/>
<circle cx="1519.4" cy="1290.9" r="9.1" fill="#dddcdc"/>
<circle cx="1573.1" cy="1276.9" r="9.1" fill="#c0d4f5"/>
<circle cx="1513.0" cy="1295.3" r="9.1" fill="#f4987a"/>
<circle cx="1565.1" cy="1299.2" r="9.1" fill="#c0d4f5"/>
<circle cx="1540.9" cy="1317.9" r="9.1" fill="#afcafc"/>
<circle cx="1574.3" cy="1281.5" r="9.1" fill="#f4987a"/>
<circle cx="1505.9" cy="1320.7" r="9.1" fill="#cfdaea"/>
<circle cx="1574.4" cy="1277.1" r="9.1" fill="#f7ac8e"/>
<circle cx="1501.9" cy="1307.1" r="9.1" fill="#dddcdc"/>
<circle cx="1533.9" cy="1295.6" r="9.1" fill="#f6bda2"/>
<circle cx="1523.7" cy="1296.5" r="9.1" fill="#cfdaea"/>
<circle cx="1515.1" cy="1298.1" r="9.1" fill="#e9d5cb"/>
<circle cx="1541.6" cy="1297.8" r="9.1" fill="#9ebeff"/>
<circle cx="1505.2" cy="1277.5" r="9.1" fill="#f6bda2"/>
<circle cx="1535.2" cy="1275.5" r="9.1" fill="#f4987a"/>
<circle cx="1488.2" cy="1306.1" r="9.1" fill="#afcafc"/>
<circle cx="1558.4" cy="1284.0" r="9.1" fill="#afcafc"/>
<circle cx="1531.1" cy="1290.3" r="9.1" fill="#f7ac8e"/>
<circle cx="1486.9" cy="1286.5" r="9.1" fill="#e9d5cb"/>
<circle cx="1495.2" cy="1289.6" r="9.1" fill="#f4987a"/>
<circle cx="1521.2" cy="1301.1" r="9.1" fill="#c0d4f5"/>
<circle cx="1567.3" cy="1293.5" r="9.1" fill="#f4987a"/>
<circle cx="1501.9" cy="1279.1" r="9.1" fill="#f6bda2"/>
<circle cx="1554.6" cy="1307.6" r="9.1" fill="#f7ac8e"/>
<circle cx="1556.2" cy="1310.5" r="9.1" fill="#dddcdc"/>
<circle cx="1561.2" cy="1289.2" r="9.1" fill="#dddcdc"/>
<circle cx="1597.5" cy="1308.0" r="9.1" fill="#dddcdc"/>
<circle cx="1472.5" cy="1271.2" r="9.1" fill="#e2dad5"/>
<circle cx="1481.2" cy="1271.2" r="9.1" fill="#e2dad5"/>
<circle cx="1508.8" cy="1314.2" r="9.1" fill="#e2dad5"/>
<circle cx="1566.2" cy="1319.2" r="9.1" fill="#e2dad5"/>
<circle cx="1448.0" cy="1296.8" r="9.1" fill="#d5dbe5"/>
<circle cx="1427.0" cy="1271.2" r="9.1" fill="#cfdaea"/>
<circle cx="1480.0" cy="1285.5" r="9.1" fill="#cfdaea"/>
<circle cx="1511.2" cy="1284.2" r="9.1" fill="#cfdaea"/>
<circle cx="1518.8" cy="1314.2" r="9.1" fill="#cfdaea"/>
<circle cx="1523.8" cy="1275.5" r="9.1" fill="#cfdaea"/>
<circle cx="1454.5" cy="1285.0" r="9.1" fill="#e9d5cb"/>
<circle cx="1496.2" cy="1288.0" r="9.1" fill="#e9d5cb"/>
<circle cx="1538.8" cy="1293.0" r="9.1" fill="#e9d5cb"/>
<circle cx="1540.0" cy="1280.5" r="9.1" fill="#e9d5cb"/>
<circle cx="1552.5" cy="1278.0" r="9.1" fill="#e9d5cb"/>
<circle cx="1462.5" cy="1305.5" r="9.1" fill="#edd2c3"/>
<circle cx="1401.2" cy="1322.2" r="9.1" fill="#efcfbf"/>
<circle cx="1445.0" cy="1283.0" r="9.1" fill="#efcfbf"/>
<circle cx="1481.2" cy="1314.2" r="9.1" fill="#c6d6f1"/>
<circle cx="1585.0" cy="1325.5" r="9.1" fill="#c6d6f1"/>
<circle cx="1473.8" cy="1318.5" r="9.1" fill="#f2cbb7"/>
<circle cx="1521.2" cy="1296.8" r="9.1" fill="#f2cbb7"/>
<circle cx="1610.0" cy="1280.5" r="9.1" fill="#c0d4f5"/>
<circle cx="1491.2" cy="1323.0" r="9.1" fill="#f4c6af"/>
<circle cx="1491.2" cy="1308.0" r="9.1" fill="#bad0f8"/>
<circle cx="1515.0" cy="1271.8" r="9.1" fill="#bad0f8"/>
<circle cx="1535.0" cy="1270.5" r="9.1" fill="#bad0f8"/>
<circle cx="1620.0" cy="1271.8" r="9.1" fill="#bad0f8"/>
<circle cx="1637.5" cy="1284.2" r="9.1" fill="#f4c6af"/>
<circle cx="1642.5" cy="1281.8" r="9.1" fill="#f4c6af"/>
<circle cx="1532.5" cy="1320.5" r="9.1" fill="#afcafc"/>
<circle cx="1550.0" cy="1294.2" r="9.1" fill="#afcafc"/>
<circle cx="1578.8" cy="1303.0" r="9.1" fill="#f6bda2"/>
<circle cx="1607.5" cy="1271.8" r="9.1" fill="#f6bda2"/>
<circle cx="1628.8" cy="1315.5" r="9.1" fill="#f6bda2"/>
<circle cx="1638.8" cy="1313.0" r="9.1" fill="#f6bda2"/>
<circle cx="1630.0" cy="1298.0" r="9.1" fill="#f7ba9f"/>
<circle cx="1442.5" cy="1308.5" r="9.1" fill="#f7b396"/>
<circle cx="1615.0" cy="1314.2" r="9.1" fill="#f7b396"/>
<circle cx="1581.2" cy="1290.5" r="9.1" fill="#f7ac8e"/>
<circle cx="1684.5" cy="1302.5" r="9.1" fill="#f7ac8e"/>
<circle cx="1482.5" cy="1296.8" r="9.1" fill="#9ebeff"/>
<circle cx="1507.5" cy="1276.8" r="9.1" fill="#9ebeff"/>
<circle cx="1512.5" cy="1293.0" r="9.1" fill="#9ebeff"/>
<circle cx="1530.0" cy="1325.5" r="9.1" fill="#9ebeff"/>
<circle cx="1541.2" cy="1308.0" r="9.1" fill="#9ebeff"/>
<circle cx="1546.2" cy="1320.5" r="9.1" fill="#9ebeff"/>
<circle cx="1572.5" cy="1310.5" r="9.1" fill="#9ebeff"/>
<circle cx="1525.0" cy="1303.0" r="9.1" fill="#8db0fe"/>
<circle cx="1593.8" cy="1295.5" r="9.1" fill="#f4987a"/>
<circle cx="1588.8" cy="1319.2" r="9.1" fill="#f18d6f"/>
<circle cx="1583.8" cy="1285.5" r="9.1" fill="#ee8468"/>
<circle cx="1616.2" cy="1293.0" r="9.1" fill="#ee8468"/>
<circle cx="1566.2" cy="1275.5" r="9.1" fill="#e36c55"/>
<circle cx="1601.2" cy="1296.8" r="9.1" fill="#d65244"/>
<circle cx="1618.8" cy="1300.5" r="9.1" fill="#c53334"/>
<circle cx="1519.9" cy="1397.7" r="9.1" fill="#f7ac8e"/>
<circle cx="1521.2" cy="1374.6" r="9.1" fill="#f7ac8e"/>
<circle cx="1585.6" cy="1389.4" r="9.1" fill="#dddcdc"/>
<circle cx="1568.1" cy="1369.4" r="9.1" fill="#f7ac8e"/>
<circle cx="1528.0" cy="1393.2" r="9.1" fill="#ee8468"/>
<circle cx="1528.9" cy="1366.3" r="9.1" fill="#f7ac8e"/>
<circle cx="1588.5" cy="1375.7" r="9.1" fill="#f2cbb7"/>
<circle cx="1526.7" cy="1392.6" r="9.1" fill="#ee8468"/>
<circle cx="1599.7" cy="1363.9" r="9.1" fill="#f6bda2"/>
<circle cx="1543.6" cy="1378.7" r="9.1" fill="#f6bda2"/>
<circle cx="1557.9" cy="1387.5" r="9.1" fill="#ee8468"/>
<circle cx="1578.5" cy="1380.4" r="9.1" fill="#c0d4f5"/>
<circle cx="1620.9" cy="1378.3" r="9.1" fill="#e36c55"/>
<circle cx="1558.4" cy="1382.3" r="9.1" fill="#f7ac8e"/>
<circle cx="1580.6" cy="1366.7" r="9.1" fill="#e36c55"/>
<circle cx="1536.9" cy="1406.7" r="9.1" fill="#dddcdc"/>
<circle cx="1565.8" cy="1396.5" r="9.1" fill="#f2cbb7"/>
<circle cx="1492.8" cy="1385.5" r="9.1" fill="#c0d4f5"/>
<circle cx="1586.0" cy="1391.0" r="9.1" fill="#f6bda2"/>
<circle cx="1573.5" cy="1400.9" r="9.1" fill="#c0d4f5"/>
<circle cx="1594.8" cy="1410.1" r="9.1" fill="#e36c55"/>
<circle cx="1532.9" cy="1372.1" r="9.1" fill="#f2cbb7"/>
<circle cx="1557.2" cy="1395.2" r="9.1" fill="#dddcdc"/>
<circle cx="1578.8" cy="1406.7" r="9.1" fill="#e36c55"/>
<circle cx="1569.0" cy="1375.8" r="9.1" fill="#f4987a"/>
<circle cx="1500.2" cy="1369.6" r="9.1" fill="#e36c55"/>
<circle cx="1520.0" cy="1388.7" r="9.1" fill="#ee8468"/>
<circle cx="1540.1" cy="1389.9" r="9.1" fill="#c0d4f5"/>
<circle cx="1578.2" cy="1369.8" r="9.1" fill="#f4987a"/>
<circle cx="1509.5" cy="1402.3" r="9.1" fill="#e36c55"/>
<circle cx="1559.4" cy="1381.6" r="9.1" fill="#f6bda2"/>
<circle cx="1535.3" cy="1364.3" r="9.1" fill="#f2cbb7"/>
<circle cx="1572.0" cy="1400.1" r="9.1" fill="#f4987a"/>
<circle cx="1535.6" cy="1387.3" r="9.1" fill="#f2cbb7"/>
<circle cx="1497.9" cy="1387.5" r="9.1" fill="#f6bda2"/>
<circle cx="1554.4" cy="1390.1" r="9.1" fill="#e36c55"/>
<circle cx="1580.5" cy="1364.2" r="9.1" fill="#c0d4f5"/>
<circle cx="1548.3" cy="1364.8" r="9.1" fill="#dddcdc"/>
<circle cx="1564.8" cy="1388.1" r="9.1" fill="#f6bda2"/>
<circle cx="1579.0" cy="1383.5" r="9.1" fill="#ee8468"/>
<circle cx="1565.1" cy="1380.4" r="9.1" fill="#f2cbb7"/>
<circle cx="1585.1" cy="1382.0" r="9.1" fill="#f2cbb7"/>
<circle cx="1570.4" cy="1378.3" r="9.1" fill="#f2cbb7"/>
<circle cx="1543.6" cy="1371.5" r="9.1" fill="#f7ac8e"/>
<circle cx="1518.6" cy="1387.7" r="9.1" fill="#e36c55"/>
<circle cx="1561.3" cy="1401.6" r="9.1" fill="#f7ac8e"/>
<circle cx="1587.3" cy="1365.5" r="9.1" fill="#ee8468"/>
<circle cx="1577.7" cy="1367.9" r="9.1" fill="#dddcdc"/>
<circle cx="1551.9" cy="1397.4" r="9.1" fill="#c0d4f5"/>
<circle cx="1581.5" cy="1411.0" r="9.1" fill="#f2cbb7"/>
<circle cx="1553.2" cy="1405.1" r="9.1" fill="#f2cbb7"/>
<circle cx="1602.2" cy="1411.4" r="9.1" fill="#e36c55"/>
<circle cx="1562.5" cy="1401.3" r="9.1" fill="#f7ac8e"/>
<circle cx="1504.4" cy="1397.7" r="9.1" fill="#f4987a"/>
<circle cx="1525.4" cy="1393.2" r="9.1" fill="#f2cbb7"/>
<circle cx="1570.4" cy="1388.7" r="9.1" fill="#dddcdc"/>
<circle cx="1573.8" cy="1393.9" r="9.1" fill="#f2cbb7"/>
<circle cx="1576.1" cy="1411.0" r="9.1" fill="#dddcdc"/>
<circle cx="1534.1" cy="1409.4" r="9.1" fill="#f6bda2"/>
<circle cx="1572.4" cy="1404.0" r="9.1" fill="#f4987a"/>
<circle cx="1593.9" cy="1411.0" r="9.1" fill="#f2cbb7"/>
<circle cx="1538.0" cy="1385.4" r="9.1" fill="#f4987a"/>
<circle cx="1578.2" cy="1366.3" r="9.1" fill="#f2cbb7"/>
<circle cx="1543.3" cy="1379.5" r="9.1" fill="#c0d4f5"/>
<circle cx="1531.7" cy="1397.5" r="9.1" fill="#f2cbb7"/>
<circle cx="1555.7" cy="1381.7" r="9.1" fill="#f7ac8e"/>
<circle cx="1527.5" cy="1378.1" r="9.1" fill="#f6bda2"/>
<circle cx="1538.7" cy="1368.9" r="9.1" fill="#f4987a"/>
<circle cx="1561.0" cy="1365.9" r="9.1" fill="#f6bda2"/>
<circle cx="1542.7" cy="1390.5" r="9.1" fill="#dddcdc"/>
<circle cx="1491.5" cy="1376.6" r="9.1" fill="#dddcdc"/>
<circle cx="1567.5" cy="1401.9" r="9.1" fill="#ee8468"/>
<circle cx="1492.3" cy="1402.2" r="9.1" fill="#dddcdc"/>
<circle cx="1553.5" cy="1398.5" r="9.1" fill="#f2cbb7"/>
<circle cx="1628.9" cy="1407.5" r="9.1" fill="#e36c55"/>
<circle cx="1519.4" cy="1384.5" r="9.1" fill="#dddcdc"/>
<circle cx="1583.3" cy="1374.7" r="9.1" fill="#e36c55"/>
<circle cx="1557.1" cy="1397.5" r="9.1" fill="#f6bda2"/>
<circle cx="1606.5" cy="1391.5" r="9.1" fill="#f2cbb7"/>
<circle cx="1544.3" cy="1370.9" r="9.1" fill="#ee8468"/>
<circle cx="1541.1" cy="1403.7" r="9.1" fill="#ee8468"/>
<circle cx="1570.1" cy="1382.3" r="9.1" fill="#ee8468"/>
<circle cx="1481.2" cy="1370.9" r="9.1" fill="#f2cbb7"/>
<circle cx="1526.5" cy="1389.4" r="9.1" fill="#dddcdc"/>
<circle cx="1512.1" cy="1376.5" r="9.1" fill="#dddcdc"/>
<circle cx="1485.3" cy="1397.3" r="9.1" fill="#ee8468"/>
<circle cx="1559.9" cy="1365.6" r="9.1" fill="#e36c55"/>
<circle cx="1563.7" cy="1369.7" r="9.1" fill="#ee8468"/>
<circle cx="1497.5" cy="1408.5" r="9.1" fill="#f7ac8e"/>
<circle cx="1523.7" cy="1389.4" r="9.1" fill="#f4987a"/>
<circle cx="1540.1" cy="1405.9" r="9.1" fill="#f7ac8e"/>
<circle cx="1563.5" cy="1389.0" r="9.1" fill="#f4987a"/>
<circle cx="1554.0" cy="1367.5" r="9.1" fill="#f7ac8e"/>
<circle cx="1536.3" cy="1407.0" r="9.1" fill="#f2cbb7"/>
<circle cx="1582.7" cy="1393.7" r="9.1" fill="#c0d4f5"/>
<circle cx="1568.3" cy="1405.3" r="9.1" fill="#f6bda2"/>
<circle cx="1583.2" cy="1409.8" r="9.1" fill="#f4987a"/>
<circle cx="1529.7" cy="1396.6" r="9.1" fill="#dddcdc"/>
<circle cx="1539.6" cy="1365.1" r="9.1" fill="#dddcdc"/>
<circle cx="1534.8" cy="1401.1" r="9.1" fill="#f4987a"/>
<circle cx="1544.0" cy="1369.1" r="9.1" fill="#c0d4f5"/>
<circle cx="1509.4" cy="1385.3" r="9.1" fill="#e36c55"/>
<circle cx="1534.4" cy="1409.2" r="9.1" fill="#f4987a"/>
<circle cx="1565.9" cy="1369.8" r="9.1" fill="#dddcdc"/>
<circle cx="1552.3" cy="1374.8" r="9.1" fill="#c0d4f5"/>
<circle cx="1514.7" cy="1376.3" r="9.1" fill="#f4987a"/>
<circle cx="1539.7" cy="1366.7" r="9.1" fill="#dddcdc"/>
<circle cx="1559.1" cy="1406.4" r="9.1" fill="#dddcdc"/>
<circle cx="1545.9" cy="1366.9" r="9.1" fill="#e36c55"/>
<circle cx="1540.0" cy="1381.3" r="9.1" fill="#c0d4f5"/>
<circle cx="1540.7" cy="1376.4" r="9.1" fill="#dddcdc"/>
<circle cx="1536.2" cy="1407.7" r="9.1" fill="#f4987a"/>
<circle cx="1520.8" cy="1367.1" r="9.1" fill="#dddcdc"/>
<circle cx="1529.6" cy="1383.6" r="9.1" fill="#f6bda2"/>
<circle cx="1528.9" cy="1395.0" r="9.1" fill="#e36c55"/>
<circle cx="1519.7" cy="1365.5" r="9.1" fill="#dddcdc"/>
<circle cx="1520.2" cy="1365.5" r="9.1" fill="#f2cbb7"/>
<circle cx="1603.3" cy="1392.9" r="9.1" fill="#f7ac8e"/>
<circle cx="1565.2" cy="1393.3" r="9.1" fill="#f2cbb7"/>
<circle cx="1503.5" cy="1369.8" r="9.1" fill="#f7ac8e"/>
<circle cx="1598.0" cy="1397.9" r="9.1" fill="#dddcdc"/>
<circle cx="1533.6" cy="1384.6" r="9.1" fill="#ee8468"/>
<circle cx="1521.2" cy="1410.5" r="9.1" fill="#f4987a"/>
<circle cx="1525.7" cy="1378.2" r="9.1" fill="#f7ac8e"/>
<circle cx="1605.6" cy="1376.6" r="9.1" fill="#dddcdc"/>
<circle cx="1490.7" cy="1388.2" r="9.1" fill="#f2cbb7"/>
<circle cx="1549.1" cy="1410.7" r="9.1" fill="#dddcdc"/>
<circle cx="1505.3" cy="1369.2" r="9.1" fill="#f6bda2"/>
<circle cx="1571.7" cy="1372.3" r="9.1" fill="#f4987a"/>
<circle cx="1534.7" cy="1373.0" r="9.1" fill="#f4987a"/>
<circle cx="1533.8" cy="1409.5" r="9.1" fill="#dddcdc"/>
<circle cx="1600.0" cy="1383.2" r="9.1" fill="#dddcdc"/>
<circle cx="1435.5" cy="1404.0" r="9.1" fill="#e2dad5"/>
<circle cx="1512.5" cy="1387.0" r="9.1" fill="#cfdaea"/>
<circle cx="1581.2" cy="1392.0" r="9.1" fill="#cfdaea"/>
<circle cx="1590.0" cy="1404.5" r="9.1" fill="#cfdaea"/>
<circle cx="1591.2" cy="1364.5" r="9.1" fill="#cfdaea"/>
<circle cx="1637.5" cy="1370.8" r="9.1" fill="#cfdaea"/>
<circle cx="1643.8" cy="1378.2" r="9.1" fill="#cfdaea"/>
<circle cx="1516.2" cy="1414.5" r="9.1" fill="#e9d5cb"/>
<circle cx="1517.5" cy="1364.5" r="9.1" fill="#e9d5cb"/>
<circle cx="1566.2" cy="1379.5" r="9.1" fill="#e9d5cb"/>
<circle cx="1638.8" cy="1391.5" r="9.1" fill="#e9d5cb"/>
<circle cx="1482.5" cy="1406.5" r="9.1" fill="#efcfbf"/>
<circle cx="1523.8" cy="1414.5" r="9.1" fill="#efcfbf"/>
<circle cx="1633.8" cy="1390.8" r="9.1" fill="#c6d6f1"/>
<circle cx="1505.0" cy="1365.8" r="9.1" fill="#f2cbb7"/>
<circle cx="1548.8" cy="1385.8" r="9.1" fill="#c0d4f5"/>
<circle cx="1572.5" cy="1362.0" r="9.1" fill="#f2cbb7"/>
<circle cx="1587.5" cy="1382.0" r="9.1" fill="#f2cbb7"/>
<circle cx="1606.2" cy="1372.0" r="9.1" fill="#f2cbb7"/>
<circle cx="1526.2" cy="1383.2" r="9.1" fill="#f4c6af"/>
<circle cx="1563.8" cy="1412.0" r="9.1" fill="#f4c6af"/>
<circle cx="1597.5" cy="1392.0" r="9.1" fill="#f4c6af"/>
<circle cx="1470.0" cy="1377.0" r="9.1" fill="#f6bda2"/>
<circle cx="1502.5" cy="1399.5" r="9.1" fill="#afcafc"/>
<circle cx="1510.0" cy="1402.0" r="9.1" fill="#f6bda2"/>
<circle cx="1530.0" cy="1359.5" r="9.1" fill="#afcafc"/>
<circle cx="1537.5" cy="1367.0" r="9.1" fill="#f6bda2"/>
<circle cx="1570.0" cy="1399.5" r="9.1" fill="#f6bda2"/>
<circle cx="1580.0" cy="1367.0" r="9.1" fill="#afcafc"/>
<circle cx="1612.5" cy="1360.8" r="9.1" fill="#f6bda2"/>
<circle cx="1738.8" cy="1385.0" r="9.1" fill="#f6bda2"/>
<circle cx="1615.0" cy="1399.0" r="9.1" fill="#a9c6fd"/>
<circle cx="1348.8" cy="1382.5" r="9.1" fill="#f7b79b"/>
<circle cx="1461.2" cy="1365.8" r="9.1" fill="#a5c3fe"/>
<circle cx="1467.5" cy="1378.2" r="9.1" fill="#f7ac8e"/>
<circle cx="1498.8" cy="1410.8" r="9.1" fill="#f7ac8e"/>
<circle cx="1540.0" cy="1402.0" r="9.1" fill="#f7ac8e"/>
<circle cx="1560.0" cy="1374.5" r="9.1" fill="#f7ac8e"/>
<circle cx="1583.8" cy="1397.0" r="9.1" fill="#f7ac8e"/>
<circle cx="1528.8" cy="1374.5" r="9.1" fill="#9ebeff"/>
<circle cx="1493.8" cy="1360.8" r="9.1" fill="#f6a586"/>
<circle cx="1543.8" cy="1374.5" r="9.1" fill="#f6a586"/>
<circle cx="1605.0" cy="1407.0" r="9.1" fill="#f6a586"/>
<circle cx="1610.0" cy="1413.2" r="9.1" fill="#f6a586"/>
<circle cx="1445.0" cy="1360.8" r="9.1" fill="#f4987a"/>
<circle cx="1510.0" cy="1377.0" r="9.1" fill="#f4987a"/>
<circle cx="1567.5" cy="1369.5" r="9.1" fill="#f4987a"/>
<circle cx="1398.0" cy="1411.5" r="9.1" fill="#f18d6f"/>
<circle cx="1492.5" cy="1387.0" r="9.1" fill="#82a6fb"/>
<circle cx="1558.8" cy="1403.2" r="9.1" fill="#f18d6f"/>
<circle cx="1546.2" cy="1409.5" r="9.1" fill="#ee8468"/>
<circle cx="1555.0" cy="1362.0" r="9.1" fill="#ea7b60"/>
<circle cx="1412.5" cy="1370.0" r="9.1" fill="#e36c55"/>
<circle cx="1493.8" cy="1370.8" r="9.1" fill="#e36c55"/>
<circle cx="1522.5" cy="1405.8" r="9.1" fill="#6a8bef"/>
<circle cx="1528.8" cy="1393.2" r="9.1" fill="#dc5d4a"/>
<circle cx="1555.0" cy="1393.2" r="9.1" fill="#dc5d4a"/>
</g>
<rect x="1013.3" y="806.5" width="918.1" height="625.9" fill="none" stroke="#000" stroke-width="2.4"/>
<line x1="1000.7" y1="851.2" x2="1013.3" y2="851.2" stroke="#000" stroke-width="2.4"/>
<text x="113.9" y="847.1" font-size="36" textLength="849.6" lengthAdjust="spacingAndGlyphs" class="t">Correlation between sensorimotor mouth network</text>
<text x="401.9" y="875.7" font-size="36" textLength="561.6" lengthAdjust="spacingAndGlyphs" class="t">and sensorimotor mouth network</text>
<line x1="1000.7" y1="940.6" x2="1013.3" y2="940.6" stroke="#000" stroke-width="2.4"/>
<text x="99.5" y="936.5" font-size="36" textLength="864.0" lengthAdjust="spacingAndGlyphs" class="t">Correlation between cingulo-parietal network and</text>
<text x="501.0" y="965.1" font-size="36" textLength="462.5" lengthAdjust="spacingAndGlyphs" class="t">sensorimotor hand network</text>
<line x1="1000.7" y1="1030.0" x2="1013.3" y2="1030.0" stroke="#000" stroke-width="2.4"/>
<text x="218.2" y="1025.9" font-size="36" textLength="745.3" lengthAdjust="spacingAndGlyphs" class="t">SST correct stop vs incorrect stop contrast in</text>
<text x="552.9" y="1054.5" font-size="36" textLength="410.6" lengthAdjust="spacingAndGlyphs" class="t">right parstriangularis ROI</text>
<line x1="1000.7" y1="1119.5" x2="1013.3" y2="1119.5" stroke="#000" stroke-width="2.4"/>
<text x="172.0" y="1115.4" font-size="36" textLength="791.5" lengthAdjust="spacingAndGlyphs" class="t">LD in GM associated with left banks of superior</text>
<text x="628.6" y="1144.0" font-size="36" textLength="334.9" lengthAdjust="spacingAndGlyphs" class="t">temporal sulcus ROI</text>
<line x1="1000.7" y1="1208.9" x2="1013.3" y2="1208.9" stroke="#000" stroke-width="2.4"/>
<text x="243.6" y="1204.8" font-size="36" textLength="719.9" lengthAdjust="spacingAndGlyphs" class="t">SST incorrect stop vs correct go contrast in</text>
<text x="437.9" y="1233.4" font-size="36" textLength="525.6" lengthAdjust="spacingAndGlyphs" class="t">right caudal middle frontal ROI</text>
<line x1="1000.7" y1="1298.3" x2="1013.3" y2="1298.3" stroke="#000" stroke-width="2.4"/>
<text x="136.9" y="1311.3" font-size="36" textLength="826.6" lengthAdjust="spacingAndGlyphs" class="t">LD in WM associated with right pericalcarine ROI</text>
<line x1="1000.7" y1="1387.7" x2="1013.3" y2="1387.7" stroke="#000" stroke-width="2.4"/>
<text x="221.2" y="1383.6" font-size="36" textLength="742.3" lengthAdjust="spacingAndGlyphs" class="t">LD in GM-WM contrast associated with right</text>
<text x="613.5" y="1412.2" font-size="36" textLength="350.0" lengthAdjust="spacingAndGlyphs" class="t">inferior temporal ROI</text>
<line x1="1122.1" y1="1432.4" x2="1122.1" y2="1444.9" stroke="#000" stroke-width="2.4"/>
<text x="1122.1" y="1484.4" font-size="36" text-anchor="middle" class="t">−2</text>
<line x1="1331.1" y1="1432.4" x2="1331.1" y2="1444.9" stroke="#000" stroke-width="2.4"/>
<text x="1331.1" y="1484.4" font-size="36" text-anchor="middle" class="t">−1</text>
<line x1="1540.1" y1="1432.4" x2="1540.1" y2="1444.9" stroke="#000" stroke-width="2.4"/>
<text x="1540.1" y="1484.4" font-size="36" text-anchor="middle" class="t">0</text>
<line x1="1749.1" y1="1432.4" x2="1749.1" y2="1444.9" stroke="#000" stroke-width="2.4"/>
<text x="1749.1" y="1484.4" font-size="36" text-anchor="middle" class="t">1</text>
<text x="1471.1" y="1535.8" font-size="42.5" text-anchor="middle" textLength="247" lengthAdjust="spacingAndGlyphs" class="t">SHAP values</text>
<text x="4.4" y="1541.0" font-size="35.5" font-weight="bold">C</text>
<text transform="translate(38.4 1894.6) rotate(-90)" text-anchor="middle" font-size="53.5" textLength="214" lengthAdjust="spacingAndGlyphs" class="t2">Features</text>
<line x1="1154.1" y1="1576.3" x2="1154.1" y2="2202.5" stroke="#d5d5d5" stroke-width="3" stroke-dasharray="10.4 4.62"/>
<line x1="1337.0" y1="1576.3" x2="1337.0" y2="2202.5" stroke="#d5d5d5" stroke-width="3" stroke-dasharray="10.4 4.62"/>
<line x1="1519.9" y1="1576.3" x2="1519.9" y2="2202.5" stroke="#d5d5d5" stroke-width="3" stroke-dasharray="10.4 4.62"/>
<line x1="1702.8" y1="1576.3" x2="1702.8" y2="2202.5" stroke="#d5d5d5" stroke-width="3" stroke-dasharray="10.4 4.62"/>
<line x1="1885.7" y1="1576.3" x2="1885.7" y2="2202.5" stroke="#d5d5d5" stroke-width="3" stroke-dasharray="10.4 4.62"/>
<g fill-opacity="0.7" stroke="#000" stroke-opacity="0.62" stroke-width="1.7">
<circle cx="1507.7" cy="1641.4" r="9.1" fill="#7b9ff9"/>
<circle cx="1556.5" cy="1662.7" r="9.1" fill="#6a8bef"/>
<circle cx="1522.9" cy="1720.6" r="9.1" fill="#9ebeff"/>
<circle cx="1551.1" cy="1674.5" r="9.1" fill="#7b9ff9"/>
<circle cx="1552.2" cy="1714.2" r="9.1" fill="#e36c55"/>
<circle cx="1478.3" cy="1735.0" r="9.1" fill="#8db0fe"/>
<circle cx="1493.2" cy="1656.1" r="9.1" fill="#8db0fe"/>
<circle cx="1505.3" cy="1635.1" r="9.1" fill="#7b9ff9"/>
<circle cx="1526.9" cy="1662.8" r="9.1" fill="#8db0fe"/>
<circle cx="1528.0" cy="1707.2" r="9.1" fill="#afcafc"/>
<circle cx="1466.2" cy="1687.9" r="9.1" fill="#afcafc"/>
<circle cx="1464.6" cy="1647.4" r="9.1" fill="#f7ac8e"/>
<circle cx="1542.7" cy="1727.7" r="9.1" fill="#9ebeff"/>
<circle cx="1516.2" cy="1660.2" r="9.1" fill="#e36c55"/>
<circle cx="1473.9" cy="1647.0" r="9.1" fill="#6a8bef"/>
<circle cx="1475.3" cy="1693.7" r="9.1" fill="#9ebeff"/>
<circle cx="1533.7" cy="1661.5" r="9.1" fill="#f7ac8e"/>
<circle cx="1499.4" cy="1659.0" r="9.1" fill="#f7ac8e"/>
<circle cx="1521.0" cy="1646.0" r="9.1" fill="#e36c55"/>
<circle cx="1532.8" cy="1667.3" r="9.1" fill="#8db0fe"/>
<circle cx="1508.9" cy="1676.4" r="9.1" fill="#9ebeff"/>
<circle cx="1548.6" cy="1709.6" r="9.1" fill="#8db0fe"/>
<circle cx="1545.4" cy="1651.2" r="9.1" fill="#afcafc"/>
<circle cx="1500.4" cy="1638.5" r="9.1" fill="#8db0fe"/>
<circle cx="1442.2" cy="1634.0" r="9.1" fill="#8db0fe"/>
<circle cx="1557.7" cy="1697.3" r="9.1" fill="#9ebeff"/>
<circle cx="1502.3" cy="1719.6" r="9.1" fill="#f7ac8e"/>
<circle cx="1518.5" cy="1687.9" r="9.1" fill="#8db0fe"/>
<circle cx="1538.9" cy="1706.2" r="9.1" fill="#f7ac8e"/>
<circle cx="1542.1" cy="1727.7" r="9.1" fill="#e36c55"/>
<circle cx="1513.5" cy="1666.1" r="9.1" fill="#8db0fe"/>
<circle cx="1480.8" cy="1668.2" r="9.1" fill="#7b9ff9"/>
<circle cx="1579.8" cy="1659.1" r="9.1" fill="#7b9ff9"/>
<circle cx="1521.3" cy="1734.9" r="9.1" fill="#f7ac8e"/>
<circle cx="1515.0" cy="1709.0" r="9.1" fill="#afcafc"/>
<circle cx="1496.6" cy="1684.7" r="9.1" fill="#c0d4f5"/>
<circle cx="1491.8" cy="1717.0" r="9.1" fill="#f7ac8e"/>
<circle cx="1461.4" cy="1670.0" r="9.1" fill="#c0d4f5"/>
<circle cx="1540.0" cy="1672.4" r="9.1" fill="#afcafc"/>
<circle cx="1561.7" cy="1675.2" r="9.1" fill="#9ebeff"/>
<circle cx="1513.3" cy="1723.9" r="9.1" fill="#8db0fe"/>
<circle cx="1553.1" cy="1735.0" r="9.1" fill="#f7ac8e"/>
<circle cx="1509.9" cy="1627.0" r="9.1" fill="#7b9ff9"/>
<circle cx="1477.9" cy="1726.0" r="9.1" fill="#9ebeff"/>
<circle cx="1473.9" cy="1727.5" r="9.1" fill="#7b9ff9"/>
<circle cx="1529.3" cy="1686.6" r="9.1" fill="#7b9ff9"/>
<circle cx="1519.3" cy="1651.1" r="9.1" fill="#8db0fe"/>
<circle cx="1520.3" cy="1687.5" r="9.1" fill="#6a8bef"/>
<circle cx="1513.2" cy="1658.3" r="9.1" fill="#8db0fe"/>
<circle cx="1462.6" cy="1700.0" r="9.1" fill="#c0d4f5"/>
<circle cx="1531.4" cy="1731.6" r="9.1" fill="#9ebeff"/>
<circle cx="1461.6" cy="1683.4" r="9.1" fill="#9ebeff"/>
<circle cx="1548.2" cy="1658.7" r="9.1" fill="#c0d4f5"/>
<circle cx="1521.8" cy="1705.9" r="9.1" fill="#7b9ff9"/>
<circle cx="1522.3" cy="1659.8" r="9.1" fill="#9ebeff"/>
<circle cx="1560.3" cy="1633.4" r="9.1" fill="#6a8bef"/>
<circle cx="1507.9" cy="1654.8" r="9.1" fill="#9ebeff"/>
<circle cx="1586.1" cy="1693.2" r="9.1" fill="#e36c55"/>
<circle cx="1522.7" cy="1727.4" r="9.1" fill="#afcafc"/>
<circle cx="1512.6" cy="1715.9" r="9.1" fill="#f7ac8e"/>
<circle cx="1512.5" cy="1639.5" r="9.1" fill="#f7ac8e"/>
<circle cx="1471.8" cy="1703.0" r="9.1" fill="#6a8bef"/>
<circle cx="1485.2" cy="1668.8" r="9.1" fill="#9ebeff"/>
<circle cx="1453.7" cy="1649.2" r="9.1" fill="#8db0fe"/>
<circle cx="1536.1" cy="1669.2" r="9.1" fill="#8db0fe"/>
<circle cx="1539.8" cy="1666.1" r="9.1" fill="#f7ac8e"/>
<circle cx="1545.2" cy="1649.5" r="9.1" fill="#e36c55"/>
<circle cx="1481.8" cy="1628.6" r="9.1" fill="#7b9ff9"/>
<circle cx="1459.3" cy="1663.6" r="9.1" fill="#8db0fe"/>
<circle cx="1526.7" cy="1650.4" r="9.1" fill="#afcafc"/>
<circle cx="1498.4" cy="1666.8" r="9.1" fill="#9ebeff"/>
<circle cx="1502.4" cy="1640.6" r="9.1" fill="#6a8bef"/>
<circle cx="1496.1" cy="1714.3" r="9.1" fill="#c0d4f5"/>
<circle cx="1476.7" cy="1648.7" r="9.1" fill="#c0d4f5"/>
<circle cx="1579.2" cy="1728.9" r="9.1" fill="#6a8bef"/>
<circle cx="1492.5" cy="1634.2" r="9.1" fill="#7b9ff9"/>
<circle cx="1505.9" cy="1692.6" r="9.1" fill="#c0d4f5"/>
<circle cx="1485.2" cy="1729.0" r="9.1" fill="#f7ac8e"/>
<circle cx="1519.4" cy="1685.1" r="9.1" fill="#c0d4f5"/>
<circle cx="1515.2" cy="1723.1" r="9.1" fill="#afcafc"/>
<circle cx="1542.3" cy="1635.1" r="9.1" fill="#8db0fe"/>
<circle cx="1517.8" cy="1628.0" r="9.1" fill="#7b9ff9"/>
<circle cx="1458.3" cy="1675.1" r="9.1" fill="#7b9ff9"/>
<circle cx="1465.8" cy="1653.2" r="9.1" fill="#6a8bef"/>
<circle cx="1503.8" cy="1666.9" r="9.1" fill="#6a8bef"/>
<circle cx="1512.4" cy="1666.0" r="9.1" fill="#e36c55"/>
<circle cx="1503.1" cy="1735.9" r="9.1" fill="#afcafc"/>
<circle cx="1559.4" cy="1733.7" r="9.1" fill="#e36c55"/>
<circle cx="1457.6" cy="1725.5" r="9.1" fill="#9ebeff"/>
<circle cx="1575.6" cy="1686.3" r="9.1" fill="#8db0fe"/>
<circle cx="1456.2" cy="1703.0" r="9.1" fill="#7b9ff9"/>
<circle cx="1514.1" cy="1701.0" r="9.1" fill="#9ebeff"/>
<circle cx="1533.7" cy="1638.6" r="9.1" fill="#8db0fe"/>
<circle cx="1562.0" cy="1715.8" r="9.1" fill="#e36c55"/>
<circle cx="1500.9" cy="1686.3" r="9.1" fill="#afcafc"/>
<circle cx="1515.9" cy="1719.5" r="9.1" fill="#e36c55"/>
<circle cx="1481.8" cy="1661.0" r="9.1" fill="#c0d4f5"/>
<circle cx="1534.7" cy="1709.9" r="9.1" fill="#9ebeff"/>
<circle cx="1547.0" cy="1665.1" r="9.1" fill="#f7ac8e"/>
<circle cx="1491.0" cy="1702.1" r="9.1" fill="#9ebeff"/>
<circle cx="1541.8" cy="1692.9" r="9.1" fill="#f7ac8e"/>
<circle cx="1552.7" cy="1724.4" r="9.1" fill="#6a8bef"/>
<circle cx="1476.3" cy="1665.5" r="9.1" fill="#8db0fe"/>
<circle cx="1554.6" cy="1630.0" r="9.1" fill="#afcafc"/>
<circle cx="1478.8" cy="1682.7" r="9.1" fill="#9ebeff"/>
<circle cx="1462.0" cy="1689.4" r="9.1" fill="#f7ac8e"/>
<circle cx="1468.8" cy="1715.6" r="9.1" fill="#afcafc"/>
<circle cx="1507.7" cy="1711.7" r="9.1" fill="#9ebeff"/>
<circle cx="1531.0" cy="1728.0" r="9.1" fill="#7b9ff9"/>
<circle cx="1547.0" cy="1659.7" r="9.1" fill="#9ebeff"/>
<circle cx="1502.3" cy="1630.7" r="9.1" fill="#9ebeff"/>
<circle cx="1448.4" cy="1676.3" r="9.1" fill="#7b9ff9"/>
<circle cx="1467.9" cy="1660.0" r="9.1" fill="#f7ac8e"/>
<circle cx="1518.5" cy="1670.0" r="9.1" fill="#6a8bef"/>
<circle cx="1538.8" cy="1695.5" r="9.1" fill="#f7ac8e"/>
<circle cx="1526.1" cy="1733.0" r="9.1" fill="#f7ac8e"/>
<circle cx="1550.8" cy="1681.8" r="9.1" fill="#9ebeff"/>
<circle cx="1520.0" cy="1690.6" r="9.1" fill="#7b9ff9"/>
<circle cx="1563.8" cy="1665.0" r="9.1" fill="#afcafc"/>
<circle cx="1484.6" cy="1667.2" r="9.1" fill="#afcafc"/>
<circle cx="1520.0" cy="1618.0" r="9.1" fill="#dddcdc"/>
<circle cx="1353.8" cy="1663.0" r="9.1" fill="#d7dce3"/>
<circle cx="1546.2" cy="1685.5" r="9.1" fill="#d7dce3"/>
<circle cx="1482.5" cy="1676.8" r="9.1" fill="#cfdaea"/>
<circle cx="1492.5" cy="1638.0" r="9.1" fill="#cfdaea"/>
<circle cx="1535.0" cy="1678.0" r="9.1" fill="#cfdaea"/>
<circle cx="1540.0" cy="1663.0" r="9.1" fill="#e9d5cb"/>
<circle cx="1552.5" cy="1693.0" r="9.1" fill="#e9d5cb"/>
<circle cx="1577.5" cy="1698.0" r="9.1" fill="#e9d5cb"/>
<circle cx="1606.2" cy="1685.5" r="9.1" fill="#e9d5cb"/>
<circle cx="1412.5" cy="1698.5" r="9.1" fill="#efcfbf"/>
<circle cx="1346.2" cy="1654.2" r="9.1" fill="#c6d6f1"/>
<circle cx="1480.0" cy="1648.0" r="9.1" fill="#c6d6f1"/>
<circle cx="1555.0" cy="1658.0" r="9.1" fill="#c6d6f1"/>
<circle cx="1368.0" cy="1647.5" r="9.1" fill="#c0d4f5"/>
<circle cx="1502.5" cy="1705.5" r="9.1" fill="#c0d4f5"/>
<circle cx="1522.5" cy="1733.0" r="9.1" fill="#c0d4f5"/>
<circle cx="1505.0" cy="1650.5" r="9.1" fill="#bad0f8"/>
<circle cx="1558.8" cy="1673.0" r="9.1" fill="#bad0f8"/>
<circle cx="1567.0" cy="1619.2" r="9.1" fill="#bad0f8"/>
<circle cx="1518.8" cy="1725.5" r="9.1" fill="#bad0f8"/>
<circle cx="1426.2" cy="1740.5" r="9.1" fill="#f6bda2"/>
<circle cx="1452.5" cy="1663.5" r="9.1" fill="#afcafc"/>
<circle cx="1626.2" cy="1635.5" r="9.1" fill="#f6bda2"/>
<circle cx="1508.8" cy="1736.8" r="9.1" fill="#f6bda2"/>
<circle cx="1525.0" cy="1743.0" r="9.1" fill="#afcafc"/>
<circle cx="1521.2" cy="1660.5" r="9.1" fill="#a5c3fe"/>
<circle cx="1465.0" cy="1640.5" r="9.1" fill="#f7b396"/>
<circle cx="1541.2" cy="1618.0" r="9.1" fill="#f7b396"/>
<circle cx="1487.5" cy="1724.2" r="9.1" fill="#f7b396"/>
<circle cx="1560.0" cy="1655.5" r="9.1" fill="#f7ac8e"/>
<circle cx="1393.8" cy="1620.0" r="9.1" fill="#9ebeff"/>
<circle cx="1393.8" cy="1681.8" r="9.1" fill="#9ebeff"/>
<circle cx="1428.8" cy="1728.0" r="9.1" fill="#9ebeff"/>
<circle cx="1492.5" cy="1700.5" r="9.1" fill="#9ebeff"/>
<circle cx="1518.8" cy="1636.8" r="9.1" fill="#9ebeff"/>
<circle cx="1610.0" cy="1696.8" r="9.1" fill="#9ebeff"/>
<circle cx="1636.2" cy="1682.5" r="9.1" fill="#9ebeff"/>
<circle cx="1705.0" cy="1631.0" r="9.1" fill="#9ebeff"/>
<circle cx="1462.5" cy="1718.0" r="9.1" fill="#9ebeff"/>
<circle cx="1477.5" cy="1720.5" r="9.1" fill="#9ebeff"/>
<circle cx="1557.5" cy="1723.0" r="9.1" fill="#9ebeff"/>
<circle cx="1315.5" cy="1628.0" r="9.1" fill="#97b8ff"/>
<circle cx="1428.0" cy="1710.0" r="9.1" fill="#97b8ff"/>
<circle cx="1460.0" cy="1685.5" r="9.1" fill="#97b8ff"/>
<circle cx="1453.8" cy="1671.8" r="9.1" fill="#f6a586"/>
<circle cx="1538.8" cy="1733.0" r="9.1" fill="#f6a586"/>
<circle cx="1399.5" cy="1668.0" r="9.1" fill="#8db0fe"/>
<circle cx="1434.2" cy="1677.5" r="9.1" fill="#8db0fe"/>
<circle cx="1450.0" cy="1654.2" r="9.1" fill="#f4987a"/>
<circle cx="1466.2" cy="1658.0" r="9.1" fill="#8db0fe"/>
<circle cx="1477.5" cy="1640.5" r="9.1" fill="#8db0fe"/>
<circle cx="1508.8" cy="1623.0" r="9.1" fill="#f4987a"/>
<circle cx="1535.0" cy="1635.5" r="9.1" fill="#f4987a"/>
<circle cx="1546.2" cy="1640.5" r="9.1" fill="#8db0fe"/>
<circle cx="1563.8" cy="1693.0" r="9.1" fill="#f4987a"/>
<circle cx="1582.5" cy="1663.0" r="9.1" fill="#f4987a"/>
<circle cx="1587.5" cy="1685.5" r="9.1" fill="#8db0fe"/>
<circle cx="1617.5" cy="1640.0" r="9.1" fill="#8db0fe"/>
<circle cx="1452.5" cy="1725.5" r="9.1" fill="#8db0fe"/>
<circle cx="1453.8" cy="1734.2" r="9.1" fill="#8db0fe"/>
<circle cx="1512.5" cy="1740.5" r="9.1" fill="#f4987a"/>
<circle cx="1535.0" cy="1718.0" r="9.1" fill="#8db0fe"/>
<circle cx="1540.0" cy="1740.5" r="9.1" fill="#f4987a"/>
<circle cx="1552.5" cy="1738.0" r="9.1" fill="#8db0fe"/>
<circle cx="1520.0" cy="1683.0" r="9.1" fill="#82a6fb"/>
<circle cx="1506.2" cy="1720.5" r="9.1" fill="#82a6fb"/>
<circle cx="1367.0" cy="1618.0" r="9.1" fill="#7b9ff9"/>
<circle cx="1458.8" cy="1625.0" r="9.1" fill="#7b9ff9"/>
<circle cx="1491.2" cy="1648.0" r="9.1" fill="#7b9ff9"/>
<circle cx="1492.5" cy="1663.0" r="9.1" fill="#7b9ff9"/>
<circle cx="1536.2" cy="1700.5" r="9.1" fill="#7b9ff9"/>
<circle cx="1567.5" cy="1628.0" r="9.1" fill="#7b9ff9"/>
<circle cx="1497.5" cy="1721.8" r="9.1" fill="#7b9ff9"/>
<circle cx="1523.8" cy="1643.0" r="9.1" fill="#ee8468"/>
<circle cx="1475.0" cy="1739.2" r="9.1" fill="#7597f6"/>
<circle cx="1347.5" cy="1687.5" r="9.1" fill="#6a8bef"/>
<circle cx="1342.5" cy="1733.0" r="9.1" fill="#6a8bef"/>
<circle cx="1413.8" cy="1724.2" r="9.1" fill="#6a8bef"/>
<circle cx="1468.2" cy="1676.0" r="9.1" fill="#e36c55"/>
<circle cx="1502.5" cy="1690.5" r="9.1" fill="#6a8bef"/>
<circle cx="1551.2" cy="1618.0" r="9.1" fill="#6a8bef"/>
<circle cx="1573.8" cy="1646.8" r="9.1" fill="#e36c55"/>
<circle cx="1588.8" cy="1635.5" r="9.1" fill="#6a8bef"/>
<circle cx="1467.5" cy="1740.5" r="9.1" fill="#6a8bef"/>
<circle cx="1329.5" cy="1641.8" r="9.1" fill="#5977e3"/>
<circle cx="1500.0" cy="1689.2" r="9.1" fill="#d65244"/>
<circle cx="1512.5" cy="1635.5" r="9.1" fill="#5977e3"/>
<circle cx="1592.5" cy="1678.0" r="9.1" fill="#5977e3"/>
<circle cx="1526.2" cy="1628.0" r="9.1" fill="#d0473d"/>
<circle cx="1548.8" cy="1709.2" r="9.1" fill="#d0473d"/>
<circle cx="1509.9" cy="1910.4" r="9.1" fill="#f2cbb7"/>
<circle cx="1534.2" cy="1875.5" r="9.1" fill="#f7ac8e"/>
<circle cx="1504.3" cy="1840.5" r="9.1" fill="#e9d5cb"/>
<circle cx="1507.6" cy="1925.5" r="9.1" fill="#c0d4f5"/>
<circle cx="1491.3" cy="1879.9" r="9.1" fill="#cfdaea"/>
<circle cx="1512.6" cy="1889.6" r="9.1" fill="#dddcdc"/>
<circle cx="1515.7" cy="1931.1" r="9.1" fill="#c0d4f5"/>
<circle cx="1523.9" cy="1861.3" r="9.1" fill="#f6bda2"/>
<circle cx="1463.2" cy="1874.4" r="9.1" fill="#f7ac8e"/>
<circle cx="1563.5" cy="1854.5" r="9.1" fill="#dddcdc"/>
<circle cx="1575.2" cy="1938.5" r="9.1" fill="#e9d5cb"/>
<circle cx="1541.5" cy="1846.1" r="9.1" fill="#f6bda2"/>
<circle cx="1500.4" cy="1839.2" r="9.1" fill="#f2cbb7"/>
<circle cx="1515.4" cy="1893.5" r="9.1" fill="#f2cbb7"/>
<circle cx="1524.7" cy="1904.6" r="9.1" fill="#dddcdc"/>
<circle cx="1481.2" cy="1929.9" r="9.1" fill="#f7ac8e"/>
<circle cx="1528.9" cy="1910.8" r="9.1" fill="#e9d5cb"/>
<circle cx="1520.6" cy="1929.9" r="9.1" fill="#f2cbb7"/>
<circle cx="1512.9" cy="1943.7" r="9.1" fill="#e9d5cb"/>
<circle cx="1525.0" cy="1889.7" r="9.1" fill="#c0d4f5"/>
<circle cx="1487.8" cy="1849.7" r="9.1" fill="#f6bda2"/>
<circle cx="1526.2" cy="1919.7" r="9.1" fill="#c0d4f5"/>
<circle cx="1499.5" cy="1893.5" r="9.1" fill="#f6bda2"/>
<circle cx="1482.8" cy="1835.2" r="9.1" fill="#f7ac8e"/>
<circle cx="1522.7" cy="1913.1" r="9.1" fill="#f7ac8e"/>
<circle cx="1486.2" cy="1896.1" r="9.1" fill="#f2cbb7"/>
<circle cx="1540.6" cy="1904.0" r="9.1" fill="#f2cbb7"/>
<circle cx="1466.3" cy="1921.7" r="9.1" fill="#f6bda2"/>
<circle cx="1477.5" cy="1915.8" r="9.1" fill="#cfdaea"/>
<circle cx="1524.8" cy="1896.6" r="9.1" fill="#dddcdc"/>
<circle cx="1494.3" cy="1842.6" r="9.1" fill="#f6bda2"/>
<circle cx="1484.1" cy="1851.9" r="9.1" fill="#dddcdc"/>
<circle cx="1546.9" cy="1850.0" r="9.1" fill="#cfdaea"/>
<circle cx="1536.9" cy="1912.8" r="9.1" fill="#e9d5cb"/>
<circle cx="1544.3" cy="1856.6" r="9.1" fill="#f2cbb7"/>
<circle cx="1507.0" cy="1894.5" r="9.1" fill="#dddcdc"/>
<circle cx="1498.5" cy="1898.3" r="9.1" fill="#f6bda2"/>
<circle cx="1565.9" cy="1839.3" r="9.1" fill="#f2cbb7"/>
<circle cx="1521.7" cy="1919.1" r="9.1" fill="#e9d5cb"/>
<circle cx="1521.9" cy="1915.6" r="9.1" fill="#c0d4f5"/>
<circle cx="1466.4" cy="1947.1" r="9.1" fill="#dddcdc"/>
<circle cx="1490.6" cy="1859.9" r="9.1" fill="#dddcdc"/>
<circle cx="1473.0" cy="1899.1" r="9.1" fill="#f7ac8e"/>
<circle cx="1546.5" cy="1881.8" r="9.1" fill="#f2cbb7"/>
<circle cx="1509.3" cy="1870.6" r="9.1" fill="#c0d4f5"/>
<circle cx="1497.1" cy="1896.0" r="9.1" fill="#f7ac8e"/>
<circle cx="1527.7" cy="1892.1" r="9.1" fill="#f6bda2"/>
<circle cx="1574.7" cy="1881.3" r="9.1" fill="#cfdaea"/>
<circle cx="1500.0" cy="1902.3" r="9.1" fill="#cfdaea"/>
<circle cx="1537.7" cy="1842.4" r="9.1" fill="#f2cbb7"/>
<circle cx="1506.0" cy="1935.0" r="9.1" fill="#f2cbb7"/>
<circle cx="1505.7" cy="1940.7" r="9.1" fill="#c0d4f5"/>
<circle cx="1487.6" cy="1929.0" r="9.1" fill="#f6bda2"/>
<circle cx="1524.6" cy="1862.6" r="9.1" fill="#f6bda2"/>
<circle cx="1575.2" cy="1844.5" r="9.1" fill="#cfdaea"/>
<circle cx="1560.9" cy="1892.6" r="9.1" fill="#dddcdc"/>
<circle cx="1477.6" cy="1883.3" r="9.1" fill="#c0d4f5"/>
<circle cx="1515.1" cy="1908.6" r="9.1" fill="#f7ac8e"/>
<circle cx="1482.9" cy="1905.3" r="9.1" fill="#c0d4f5"/>
<circle cx="1568.8" cy="1892.5" r="9.1" fill="#f6bda2"/>
<circle cx="1572.2" cy="1833.0" r="9.1" fill="#dddcdc"/>
<circle cx="1518.9" cy="1928.4" r="9.1" fill="#dddcdc"/>
<circle cx="1501.8" cy="1927.5" r="9.1" fill="#cfdaea"/>
<circle cx="1534.3" cy="1910.6" r="9.1" fill="#f6bda2"/>
<circle cx="1484.3" cy="1880.3" r="9.1" fill="#f2cbb7"/>
<circle cx="1529.4" cy="1884.9" r="9.1" fill="#cfdaea"/>
<circle cx="1526.1" cy="1931.6" r="9.1" fill="#f6bda2"/>
<circle cx="1471.9" cy="1846.5" r="9.1" fill="#dddcdc"/>
<circle cx="1515.9" cy="1866.3" r="9.1" fill="#e9d5cb"/>
<circle cx="1521.5" cy="1845.6" r="9.1" fill="#f6bda2"/>
<circle cx="1510.8" cy="1927.1" r="9.1" fill="#f7ac8e"/>
<circle cx="1485.7" cy="1865.7" r="9.1" fill="#cfdaea"/>
<circle cx="1492.2" cy="1874.5" r="9.1" fill="#c0d4f5"/>
<circle cx="1480.7" cy="1880.6" r="9.1" fill="#cfdaea"/>
<circle cx="1565.4" cy="1855.8" r="9.1" fill="#c0d4f5"/>
<circle cx="1490.9" cy="1862.0" r="9.1" fill="#e9d5cb"/>
<circle cx="1507.0" cy="1836.8" r="9.1" fill="#f6bda2"/>
<circle cx="1544.0" cy="1919.0" r="9.1" fill="#dddcdc"/>
<circle cx="1491.8" cy="1854.9" r="9.1" fill="#f7ac8e"/>
<circle cx="1551.9" cy="1937.8" r="9.1" fill="#dddcdc"/>
<circle cx="1559.9" cy="1890.0" r="9.1" fill="#cfdaea"/>
<circle cx="1534.0" cy="1847.5" r="9.1" fill="#f7ac8e"/>
<circle cx="1467.5" cy="1903.3" r="9.1" fill="#dddcdc"/>
<circle cx="1528.7" cy="1844.5" r="9.1" fill="#c0d4f5"/>
<circle cx="1487.2" cy="1893.8" r="9.1" fill="#f7ac8e"/>
<circle cx="1495.5" cy="1938.2" r="9.1" fill="#f6bda2"/>
<circle cx="1507.6" cy="1926.4" r="9.1" fill="#dddcdc"/>
<circle cx="1506.4" cy="1919.7" r="9.1" fill="#f2cbb7"/>
<circle cx="1510.0" cy="1871.1" r="9.1" fill="#c0d4f5"/>
<circle cx="1467.1" cy="1902.5" r="9.1" fill="#cfdaea"/>
<circle cx="1509.5" cy="1865.5" r="9.1" fill="#dddcdc"/>
<circle cx="1565.7" cy="1864.1" r="9.1" fill="#dddcdc"/>
<circle cx="1494.9" cy="1895.4" r="9.1" fill="#f7ac8e"/>
<circle cx="1482.7" cy="1879.9" r="9.1" fill="#e9d5cb"/>
<circle cx="1493.1" cy="1923.2" r="9.1" fill="#dddcdc"/>
<circle cx="1536.9" cy="1934.1" r="9.1" fill="#c0d4f5"/>
<circle cx="1526.7" cy="1897.1" r="9.1" fill="#cfdaea"/>
<circle cx="1529.2" cy="1938.8" r="9.1" fill="#e9d5cb"/>
<circle cx="1550.6" cy="1922.5" r="9.1" fill="#f2cbb7"/>
<circle cx="1494.6" cy="1853.9" r="9.1" fill="#e9d5cb"/>
<circle cx="1516.0" cy="1907.6" r="9.1" fill="#cfdaea"/>
<circle cx="1535.1" cy="1852.2" r="9.1" fill="#cfdaea"/>
<circle cx="1490.5" cy="1886.3" r="9.1" fill="#f6bda2"/>
<circle cx="1460.1" cy="1859.2" r="9.1" fill="#e9d5cb"/>
<circle cx="1499.9" cy="1853.7" r="9.1" fill="#cfdaea"/>
<circle cx="1537.3" cy="1918.8" r="9.1" fill="#cfdaea"/>
<circle cx="1504.0" cy="1927.2" r="9.1" fill="#cfdaea"/>
<circle cx="1509.6" cy="1887.2" r="9.1" fill="#dddcdc"/>
<circle cx="1479.2" cy="1933.6" r="9.1" fill="#c0d4f5"/>
<circle cx="1480.8" cy="1838.5" r="9.1" fill="#cfdaea"/>
<circle cx="1482.5" cy="1868.6" r="9.1" fill="#f7ac8e"/>
<circle cx="1547.8" cy="1908.3" r="9.1" fill="#f6bda2"/>
<circle cx="1493.4" cy="1933.0" r="9.1" fill="#cfdaea"/>
<circle cx="1549.3" cy="1881.9" r="9.1" fill="#f7ac8e"/>
<circle cx="1478.9" cy="1897.0" r="9.1" fill="#f6bda2"/>
<circle cx="1546.7" cy="1851.4" r="9.1" fill="#cfdaea"/>
<circle cx="1569.5" cy="1882.4" r="9.1" fill="#f6bda2"/>
<circle cx="1524.7" cy="1870.1" r="9.1" fill="#dddcdc"/>
<circle cx="1529.1" cy="1910.8" r="9.1" fill="#f2cbb7"/>
<circle cx="1506.9" cy="1945.5" r="9.1" fill="#f7ac8e"/>
<circle cx="1409.2" cy="1888.0" r="9.1" fill="#dddcdc"/>
<circle cx="1480.0" cy="1920.0" r="9.1" fill="#dddcdc"/>
<circle cx="1507.5" cy="1932.5" r="9.1" fill="#dddcdc"/>
<circle cx="1512.5" cy="1945.0" r="9.1" fill="#dddcdc"/>
<circle cx="1530.0" cy="1825.0" r="9.1" fill="#dddcdc"/>
<circle cx="1027.2" cy="1878.0" r="9.1" fill="#dddcdc"/>
<circle cx="1503.8" cy="1862.5" r="9.1" fill="#d7dce3"/>
<circle cx="1517.5" cy="1932.5" r="9.1" fill="#d7dce3"/>
<circle cx="1547.5" cy="1897.5" r="9.1" fill="#d7dce3"/>
<circle cx="1456.8" cy="1876.2" r="9.1" fill="#e4d9d2"/>
<circle cx="1518.8" cy="1850.0" r="9.1" fill="#d5dbe5"/>
<circle cx="1450.0" cy="1913.2" r="9.1" fill="#cfdaea"/>
<circle cx="1506.2" cy="1830.0" r="9.1" fill="#cfdaea"/>
<circle cx="1510.0" cy="1950.0" r="9.1" fill="#cfdaea"/>
<circle cx="1521.2" cy="1903.8" r="9.1" fill="#cfdaea"/>
<circle cx="1577.5" cy="1931.2" r="9.1" fill="#cfdaea"/>
<circle cx="1321.8" cy="1912.0" r="9.1" fill="#e9d5cb"/>
<circle cx="1495.0" cy="1850.0" r="9.1" fill="#e9d5cb"/>
<circle cx="1498.8" cy="1878.8" r="9.1" fill="#e9d5cb"/>
<circle cx="1513.8" cy="1900.0" r="9.1" fill="#e9d5cb"/>
<circle cx="1526.2" cy="1892.5" r="9.1" fill="#e9d5cb"/>
<circle cx="1538.8" cy="1870.0" r="9.1" fill="#e9d5cb"/>
<circle cx="1487.5" cy="1845.0" r="9.1" fill="#efcfbf"/>
<circle cx="1505.0" cy="1902.5" r="9.1" fill="#efcfbf"/>
<circle cx="1436.2" cy="1949.5" r="9.1" fill="#c6d6f1"/>
<circle cx="1480.0" cy="1883.8" r="9.1" fill="#c6d6f1"/>
<circle cx="1475.0" cy="1887.5" r="9.1" fill="#f2cbb7"/>
<circle cx="1472.5" cy="1928.8" r="9.1" fill="#f2cbb7"/>
<circle cx="1485.0" cy="1910.0" r="9.1" fill="#c0d4f5"/>
<circle cx="1500.0" cy="1833.8" r="9.1" fill="#f2cbb7"/>
<circle cx="1511.2" cy="1915.0" r="9.1" fill="#f2cbb7"/>
<circle cx="1542.5" cy="1943.8" r="9.1" fill="#f2cbb7"/>
<circle cx="1552.5" cy="1865.0" r="9.1" fill="#c0d4f5"/>
<circle cx="1486.2" cy="1943.8" r="9.1" fill="#f4c6af"/>
<circle cx="1618.8" cy="1845.5" r="9.1" fill="#bad0f8"/>
<circle cx="1414.2" cy="1926.2" r="9.1" fill="#afcafc"/>
<circle cx="1491.2" cy="1867.5" r="9.1" fill="#f6bda2"/>
<circle cx="1536.2" cy="1908.8" r="9.1" fill="#afcafc"/>
<circle cx="1546.2" cy="1831.2" r="9.1" fill="#afcafc"/>
<circle cx="1560.0" cy="1928.8" r="9.1" fill="#afcafc"/>
<circle cx="1565.0" cy="1880.0" r="9.1" fill="#afcafc"/>
<circle cx="1571.2" cy="1907.5" r="9.1" fill="#afcafc"/>
<circle cx="1583.8" cy="1943.8" r="9.1" fill="#afcafc"/>
<circle cx="1555.0" cy="1951.2" r="9.1" fill="#a9c6fd"/>
<circle cx="1567.5" cy="1833.8" r="9.1" fill="#a9c6fd"/>
<circle cx="1663.2" cy="1843.0" r="9.1" fill="#a5c3fe"/>
<circle cx="1492.5" cy="1951.2" r="9.1" fill="#f7b396"/>
<circle cx="1540.0" cy="1852.5" r="9.1" fill="#f7b396"/>
<circle cx="1527.5" cy="1868.8" r="9.1" fill="#f7ac8e"/>
<circle cx="1557.5" cy="1845.0" r="9.1" fill="#f7ac8e"/>
<circle cx="1575.0" cy="1937.5" r="9.1" fill="#f7ac8e"/>
<circle cx="1601.8" cy="1861.2" r="9.1" fill="#f7ac8e"/>
<circle cx="1483.8" cy="1905.0" r="9.1" fill="#9ebeff"/>
<circle cx="1556.2" cy="1936.2" r="9.1" fill="#9ebeff"/>
<circle cx="1566.2" cy="1842.5" r="9.1" fill="#9ebeff"/>
<circle cx="1565.0" cy="1920.0" r="9.1" fill="#9ebeff"/>
<circle cx="1575.0" cy="1900.0" r="9.1" fill="#9ebeff"/>
<circle cx="1586.2" cy="1912.5" r="9.1" fill="#9ebeff"/>
<circle cx="1476.2" cy="1852.5" r="9.1" fill="#f6a586"/>
<circle cx="1528.8" cy="1926.2" r="9.1" fill="#f6a586"/>
<circle cx="1550.0" cy="1896.2" r="9.1" fill="#f6a586"/>
<circle cx="1588.8" cy="1839.2" r="9.1" fill="#f6a586"/>
<circle cx="1517.5" cy="1835.0" r="9.1" fill="#f4987a"/>
<circle cx="1520.0" cy="1868.8" r="9.1" fill="#f4987a"/>
<circle cx="1532.5" cy="1913.8" r="9.1" fill="#f4987a"/>
<circle cx="1541.2" cy="1883.8" r="9.1" fill="#8db0fe"/>
<circle cx="1562.5" cy="1850.0" r="9.1" fill="#7b9ff9"/>
<circle cx="1471.2" cy="1843.8" r="9.1" fill="#ee8468"/>
<circle cx="1565.0" cy="1905.0" r="9.1" fill="#ea7b60"/>
<circle cx="1597.5" cy="1906.2" r="9.1" fill="#6a8bef"/>
<circle cx="1606.2" cy="1923.8" r="9.1" fill="#6a8bef"/>
<circle cx="1918.5" cy="1895.0" r="9.1" fill="#6a8bef"/>
<circle cx="1591.2" cy="1930.0" r="9.1" fill="#dc5d4a"/>
<circle cx="1779.8" cy="1842.5" r="9.1" fill="#5977e3"/>
<circle cx="1590.0" cy="1900.0" r="9.1" fill="#536edd"/>
<circle cx="1610.0" cy="1921.2" r="9.1" fill="#4961d2"/>
<circle cx="1643.8" cy="1848.0" r="9.1" fill="#be242e"/>
<circle cx="1538.1" cy="2073.1" r="9.1" fill="#afcafc"/>
<circle cx="1522.3" cy="2151.9" r="9.1" fill="#c0d4f5"/>
<circle cx="1548.1" cy="2043.1" r="9.1" fill="#afcafc"/>
<circle cx="1489.0" cy="2141.5" r="9.1" fill="#e9d5cb"/>
<circle cx="1536.6" cy="2044.4" r="9.1" fill="#afcafc"/>
<circle cx="1558.8" cy="2055.1" r="9.1" fill="#e9d5cb"/>
<circle cx="1506.4" cy="2135.8" r="9.1" fill="#f7ac8e"/>
<circle cx="1545.4" cy="2111.9" r="9.1" fill="#dddcdc"/>
<circle cx="1500.5" cy="2142.6" r="9.1" fill="#afcafc"/>
<circle cx="1540.2" cy="2099.2" r="9.1" fill="#f2cbb7"/>
<circle cx="1574.4" cy="2100.5" r="9.1" fill="#e9d5cb"/>
<circle cx="1522.6" cy="2057.3" r="9.1" fill="#f2cbb7"/>
<circle cx="1539.4" cy="2076.4" r="9.1" fill="#afcafc"/>
<circle cx="1515.9" cy="2101.0" r="9.1" fill="#cfdaea"/>
<circle cx="1460.4" cy="2082.0" r="9.1" fill="#e9d5cb"/>
<circle cx="1538.8" cy="2093.5" r="9.1" fill="#f6bda2"/>
<circle cx="1512.7" cy="2082.8" r="9.1" fill="#dddcdc"/>
<circle cx="1561.6" cy="2116.6" r="9.1" fill="#dddcdc"/>
<circle cx="1552.9" cy="2151.9" r="9.1" fill="#afcafc"/>
<circle cx="1557.7" cy="2046.5" r="9.1" fill="#dddcdc"/>
<circle cx="1497.1" cy="2143.6" r="9.1" fill="#cfdaea"/>
<circle cx="1524.1" cy="2099.6" r="9.1" fill="#f2cbb7"/>
<circle cx="1522.9" cy="2064.4" r="9.1" fill="#e9d5cb"/>
<circle cx="1473.8" cy="2155.7" r="9.1" fill="#f2cbb7"/>
<circle cx="1514.9" cy="2107.1" r="9.1" fill="#c0d4f5"/>
<circle cx="1510.4" cy="2082.0" r="9.1" fill="#dddcdc"/>
<circle cx="1465.2" cy="2048.9" r="9.1" fill="#c0d4f5"/>
<circle cx="1472.9" cy="2136.1" r="9.1" fill="#c0d4f5"/>
<circle cx="1513.3" cy="2136.4" r="9.1" fill="#afcafc"/>
<circle cx="1494.7" cy="2137.3" r="9.1" fill="#e9d5cb"/>
<circle cx="1535.2" cy="2110.3" r="9.1" fill="#cfdaea"/>
<circle cx="1537.9" cy="2086.8" r="9.1" fill="#e9d5cb"/>
<circle cx="1523.6" cy="2080.0" r="9.1" fill="#e9d5cb"/>
<circle cx="1501.3" cy="2113.1" r="9.1" fill="#f2cbb7"/>
<circle cx="1524.9" cy="2124.4" r="9.1" fill="#dddcdc"/>
<circle cx="1559.1" cy="2106.5" r="9.1" fill="#f6bda2"/>
<circle cx="1551.6" cy="2089.6" r="9.1" fill="#e9d5cb"/>
<circle cx="1541.3" cy="2137.2" r="9.1" fill="#cfdaea"/>
<circle cx="1543.4" cy="2075.0" r="9.1" fill="#dddcdc"/>
<circle cx="1507.3" cy="2080.2" r="9.1" fill="#afcafc"/>
<circle cx="1525.1" cy="2052.5" r="9.1" fill="#dddcdc"/>
<circle cx="1528.9" cy="2113.2" r="9.1" fill="#e9d5cb"/>
<circle cx="1512.8" cy="2131.0" r="9.1" fill="#dddcdc"/>
<circle cx="1525.9" cy="2094.2" r="9.1" fill="#afcafc"/>
<circle cx="1537.0" cy="2098.3" r="9.1" fill="#f7ac8e"/>
<circle cx="1498.7" cy="2057.4" r="9.1" fill="#f2cbb7"/>
<circle cx="1566.0" cy="2136.0" r="9.1" fill="#dddcdc"/>
<circle cx="1521.1" cy="2061.3" r="9.1" fill="#f7ac8e"/>
<circle cx="1547.1" cy="2106.2" r="9.1" fill="#cfdaea"/>
<circle cx="1475.7" cy="2079.9" r="9.1" fill="#f2cbb7"/>
<circle cx="1536.3" cy="2082.6" r="9.1" fill="#f6bda2"/>
<circle cx="1493.2" cy="2092.6" r="9.1" fill="#f2cbb7"/>
<circle cx="1533.7" cy="2137.8" r="9.1" fill="#dddcdc"/>
<circle cx="1570.0" cy="2152.1" r="9.1" fill="#f2cbb7"/>
<circle cx="1483.7" cy="2098.2" r="9.1" fill="#c0d4f5"/>
<circle cx="1517.4" cy="2104.5" r="9.1" fill="#f6bda2"/>
<circle cx="1508.5" cy="2115.4" r="9.1" fill="#f2cbb7"/>
<circle cx="1522.3" cy="2121.2" r="9.1" fill="#dddcdc"/>
<circle cx="1465.3" cy="2087.7" r="9.1" fill="#f7ac8e"/>
<circle cx="1524.5" cy="2085.0" r="9.1" fill="#f7ac8e"/>
<circle cx="1576.0" cy="2071.7" r="9.1" fill="#c0d4f5"/>
<circle cx="1541.5" cy="2080.0" r="9.1" fill="#e9d5cb"/>
<circle cx="1520.4" cy="2131.5" r="9.1" fill="#cfdaea"/>
<circle cx="1465.1" cy="2145.6" r="9.1" fill="#e9d5cb"/>
<circle cx="1488.8" cy="2129.6" r="9.1" fill="#f2cbb7"/>
<circle cx="1553.0" cy="2098.6" r="9.1" fill="#dddcdc"/>
<circle cx="1540.3" cy="2120.6" r="9.1" fill="#afcafc"/>
<circle cx="1515.4" cy="2105.5" r="9.1" fill="#f7ac8e"/>
<circle cx="1472.1" cy="2111.4" r="9.1" fill="#c0d4f5"/>
<circle cx="1535.1" cy="2063.1" r="9.1" fill="#c0d4f5"/>
<circle cx="1513.8" cy="2108.7" r="9.1" fill="#e9d5cb"/>
<circle cx="1519.3" cy="2089.3" r="9.1" fill="#e9d5cb"/>
<circle cx="1529.3" cy="2107.2" r="9.1" fill="#c0d4f5"/>
<circle cx="1515.8" cy="2112.8" r="9.1" fill="#cfdaea"/>
<circle cx="1501.6" cy="2090.5" r="9.1" fill="#dddcdc"/>
<circle cx="1509.1" cy="2076.9" r="9.1" fill="#afcafc"/>
<circle cx="1498.7" cy="2093.0" r="9.1" fill="#c0d4f5"/>
<circle cx="1559.3" cy="2103.6" r="9.1" fill="#cfdaea"/>
<circle cx="1523.9" cy="2041.2" r="9.1" fill="#c0d4f5"/>
<circle cx="1505.2" cy="2129.9" r="9.1" fill="#dddcdc"/>
<circle cx="1543.6" cy="2127.9" r="9.1" fill="#f7ac8e"/>
<circle cx="1510.7" cy="2131.2" r="9.1" fill="#f2cbb7"/>
<circle cx="1519.7" cy="2127.2" r="9.1" fill="#f6bda2"/>
<circle cx="1479.1" cy="2108.8" r="9.1" fill="#e9d5cb"/>
<circle cx="1528.2" cy="2051.8" r="9.1" fill="#c0d4f5"/>
<circle cx="1513.1" cy="2130.7" r="9.1" fill="#dddcdc"/>
<circle cx="1509.5" cy="2052.9" r="9.1" fill="#afcafc"/>
<circle cx="1554.9" cy="2051.5" r="9.1" fill="#dddcdc"/>
<circle cx="1498.7" cy="2073.9" r="9.1" fill="#c0d4f5"/>
<circle cx="1518.9" cy="2112.0" r="9.1" fill="#c0d4f5"/>
<circle cx="1465.4" cy="2129.8" r="9.1" fill="#afcafc"/>
<circle cx="1529.1" cy="2062.3" r="9.1" fill="#c0d4f5"/>
<circle cx="1522.1" cy="2047.9" r="9.1" fill="#f2cbb7"/>
<circle cx="1527.5" cy="2108.1" r="9.1" fill="#cfdaea"/>
<circle cx="1546.2" cy="2070.7" r="9.1" fill="#e9d5cb"/>
<circle cx="1534.2" cy="2102.9" r="9.1" fill="#f7ac8e"/>
<circle cx="1528.5" cy="2081.8" r="9.1" fill="#cfdaea"/>
<circle cx="1548.8" cy="2090.9" r="9.1" fill="#f2cbb7"/>
<circle cx="1481.2" cy="2052.0" r="9.1" fill="#afcafc"/>
<circle cx="1506.3" cy="2087.6" r="9.1" fill="#e9d5cb"/>
<circle cx="1555.4" cy="2128.3" r="9.1" fill="#f2cbb7"/>
<circle cx="1532.5" cy="2090.6" r="9.1" fill="#e9d5cb"/>
<circle cx="1576.0" cy="2147.1" r="9.1" fill="#f7ac8e"/>
<circle cx="1526.2" cy="2090.5" r="9.1" fill="#cfdaea"/>
<circle cx="1573.9" cy="2148.8" r="9.1" fill="#f2cbb7"/>
<circle cx="1523.0" cy="2111.0" r="9.1" fill="#f2cbb7"/>
<circle cx="1480.3" cy="2092.9" r="9.1" fill="#f6bda2"/>
<circle cx="1481.5" cy="2068.2" r="9.1" fill="#f6bda2"/>
<circle cx="1492.8" cy="2045.1" r="9.1" fill="#e9d5cb"/>
<circle cx="1574.0" cy="2130.8" r="9.1" fill="#c0d4f5"/>
<circle cx="1518.1" cy="2043.3" r="9.1" fill="#f2cbb7"/>
<circle cx="1497.7" cy="2060.1" r="9.1" fill="#c0d4f5"/>
<circle cx="1485.4" cy="2040.4" r="9.1" fill="#dddcdc"/>
<circle cx="1522.1" cy="2151.9" r="9.1" fill="#c0d4f5"/>
<circle cx="1495.7" cy="2152.2" r="9.1" fill="#dddcdc"/>
<circle cx="1513.1" cy="2091.3" r="9.1" fill="#f2cbb7"/>
<circle cx="1494.6" cy="2092.9" r="9.1" fill="#f6bda2"/>
<circle cx="1525.0" cy="2139.8" r="9.1" fill="#f7ac8e"/>
<circle cx="1495.5" cy="2119.3" r="9.1" fill="#f2cbb7"/>
<circle cx="1537.0" cy="2115.5" r="9.1" fill="#dddcdc"/>
<circle cx="1470.0" cy="2053.8" r="9.1" fill="#dddcdc"/>
<circle cx="1483.8" cy="2145.0" r="9.1" fill="#dddcdc"/>
<circle cx="1513.8" cy="2065.0" r="9.1" fill="#dddcdc"/>
<circle cx="1551.2" cy="2048.8" r="9.1" fill="#dddcdc"/>
<circle cx="1558.8" cy="2047.5" r="9.1" fill="#dddcdc"/>
<circle cx="1473.0" cy="2041.2" r="9.1" fill="#d7dce3"/>
<circle cx="1506.2" cy="2050.0" r="9.1" fill="#d7dce3"/>
<circle cx="1533.8" cy="2105.0" r="9.1" fill="#cfdaea"/>
<circle cx="1541.2" cy="2040.0" r="9.1" fill="#cfdaea"/>
<circle cx="1557.5" cy="2100.0" r="9.1" fill="#cfdaea"/>
<circle cx="1584.5" cy="2120.0" r="9.1" fill="#cfdaea"/>
<circle cx="1397.5" cy="2085.0" r="9.1" fill="#e9d5cb"/>
<circle cx="1470.0" cy="2085.0" r="9.1" fill="#e9d5cb"/>
<circle cx="1501.2" cy="2100.0" r="9.1" fill="#e9d5cb"/>
<circle cx="1511.2" cy="2152.5" r="9.1" fill="#e9d5cb"/>
<circle cx="1520.0" cy="2035.0" r="9.1" fill="#e9d5cb"/>
<circle cx="1531.2" cy="2041.2" r="9.1" fill="#e9d5cb"/>
<circle cx="1545.0" cy="2110.0" r="9.1" fill="#e9d5cb"/>
<circle cx="1567.5" cy="2117.5" r="9.1" fill="#e9d5cb"/>
<circle cx="1490.0" cy="2097.5" r="9.1" fill="#efcfbf"/>
<circle cx="1520.0" cy="2068.8" r="9.1" fill="#efcfbf"/>
<circle cx="1537.5" cy="2160.0" r="9.1" fill="#c6d6f1"/>
<circle cx="1423.8" cy="2064.2" r="9.1" fill="#f2cbb7"/>
<circle cx="1470.0" cy="2120.0" r="9.1" fill="#f2cbb7"/>
<circle cx="1502.5" cy="2085.0" r="9.1" fill="#f2cbb7"/>
<circle cx="1507.5" cy="2137.5" r="9.1" fill="#f2cbb7"/>
<circle cx="1536.2" cy="2127.5" r="9.1" fill="#f2cbb7"/>
<circle cx="1480.0" cy="2062.5" r="9.1" fill="#f4c6af"/>
<circle cx="1491.2" cy="2045.0" r="9.1" fill="#f4c6af"/>
<circle cx="1526.2" cy="2097.5" r="9.1" fill="#f4c6af"/>
<circle cx="1563.8" cy="2065.0" r="9.1" fill="#bad0f8"/>
<circle cx="1468.8" cy="2135.0" r="9.1" fill="#f6bda2"/>
<circle cx="1510.0" cy="2115.0" r="9.1" fill="#f6bda2"/>
<circle cx="1512.5" cy="2040.0" r="9.1" fill="#afcafc"/>
<circle cx="1530.0" cy="2057.5" r="9.1" fill="#afcafc"/>
<circle cx="1535.0" cy="2146.2" r="9.1" fill="#afcafc"/>
<circle cx="1548.8" cy="2142.5" r="9.1" fill="#afcafc"/>
<circle cx="1555.0" cy="2155.0" r="9.1" fill="#f6bda2"/>
<circle cx="1563.8" cy="2107.5" r="9.1" fill="#afcafc"/>
<circle cx="1570.0" cy="2040.0" r="9.1" fill="#afcafc"/>
<circle cx="1577.5" cy="2145.0" r="9.1" fill="#afcafc"/>
<circle cx="1596.2" cy="2060.0" r="9.1" fill="#afcafc"/>
<circle cx="1470.0" cy="2096.2" r="9.1" fill="#f7b396"/>
<circle cx="1488.8" cy="2085.0" r="9.1" fill="#f7b396"/>
<circle cx="1505.0" cy="2160.0" r="9.1" fill="#f7b396"/>
<circle cx="1522.5" cy="2086.2" r="9.1" fill="#f7b396"/>
<circle cx="1546.2" cy="2125.0" r="9.1" fill="#f7b396"/>
<circle cx="1556.2" cy="2125.0" r="9.1" fill="#f7b396"/>
<circle cx="1481.2" cy="2115.0" r="9.1" fill="#f7ac8e"/>
<circle cx="1425.0" cy="2124.5" r="9.1" fill="#9ebeff"/>
<circle cx="1505.0" cy="2097.5" r="9.1" fill="#9ebeff"/>
<circle cx="1550.0" cy="2067.5" r="9.1" fill="#9ebeff"/>
<circle cx="1582.5" cy="2138.8" r="9.1" fill="#9ebeff"/>
<circle cx="1584.5" cy="2072.0" r="9.1" fill="#9ebeff"/>
<circle cx="1588.8" cy="2053.8" r="9.1" fill="#9ebeff"/>
<circle cx="1612.5" cy="2127.5" r="9.1" fill="#9ebeff"/>
<circle cx="1424.5" cy="2098.0" r="9.1" fill="#f6a586"/>
<circle cx="1487.5" cy="2057.5" r="9.1" fill="#f6a586"/>
<circle cx="1523.8" cy="2137.5" r="9.1" fill="#97b8ff"/>
<circle cx="1525.0" cy="2048.8" r="9.1" fill="#f6a586"/>
<circle cx="1527.5" cy="2115.0" r="9.1" fill="#f6a586"/>
<circle cx="1566.2" cy="2076.2" r="9.1" fill="#97b8ff"/>
<circle cx="1596.2" cy="2047.5" r="9.1" fill="#97b8ff"/>
<circle cx="1607.5" cy="2118.8" r="9.1" fill="#97b8ff"/>
<circle cx="1457.5" cy="2133.8" r="9.1" fill="#f4987a"/>
<circle cx="1495.0" cy="2065.0" r="9.1" fill="#f4987a"/>
<circle cx="1495.0" cy="2147.5" r="9.1" fill="#f4987a"/>
<circle cx="1515.0" cy="2082.5" r="9.1" fill="#f4987a"/>
<circle cx="1543.8" cy="2092.5" r="9.1" fill="#8db0fe"/>
<circle cx="1560.0" cy="2082.5" r="9.1" fill="#8db0fe"/>
<circle cx="1567.5" cy="2088.8" r="9.1" fill="#8db0fe"/>
<circle cx="1451.2" cy="2073.2" r="9.1" fill="#f18d6f"/>
<circle cx="1542.5" cy="2065.0" r="9.1" fill="#7b9ff9"/>
<circle cx="1447.0" cy="2039.5" r="9.1" fill="#e36c55"/>
<circle cx="1565.0" cy="2152.5" r="9.1" fill="#6a8bef"/>
<circle cx="1642.5" cy="2094.5" r="9.1" fill="#5f7fe8"/>
<circle cx="1488.8" cy="2130.0" r="9.1" fill="#d65244"/>
<circle cx="1615.0" cy="2063.8" r="9.1" fill="#4961d2"/>
</g>
<rect x="1013.3" y="1576.8" width="918.1" height="625.7" fill="none" stroke="#000" stroke-width="2.4"/>
<line x1="1000.7" y1="1681.1" x2="1013.3" y2="1681.1" stroke="#000" stroke-width="2.4"/>
<text x="453.9" y="1694.1" font-size="36" textLength="509.6" lengthAdjust="spacingAndGlyphs" class="t">FA in right lateral ventricle ROI</text>
<line x1="1000.7" y1="1889.7" x2="1013.3" y2="1889.7" stroke="#000" stroke-width="2.4"/>
<text x="302.1" y="1885.6" font-size="36" textLength="661.4" lengthAdjust="spacingAndGlyphs" class="t">MID anticipation of small loss vs neutral</text>
<text x="340.0" y="1914.2" font-size="36" textLength="623.5" lengthAdjust="spacingAndGlyphs" class="t">contrast in right inferior temporal ROI</text>
<line x1="1000.7" y1="2098.2" x2="1013.3" y2="2098.2" stroke="#000" stroke-width="2.4"/>
<text x="144.0" y="2094.1" font-size="36" textLength="819.5" lengthAdjust="spacingAndGlyphs" class="t">Correlation between auditory network and right</text>
<text x="596.5" y="2122.7" font-size="36" textLength="367.0" lengthAdjust="spacingAndGlyphs" class="t">accumbens area ROI</text>
<line x1="1154.1" y1="2202.5" x2="1154.1" y2="2215.0" stroke="#000" stroke-width="2.4"/>
<text x="1154.1" y="2254.5" font-size="36" text-anchor="middle" class="t">−2</text>
<line x1="1337.0" y1="2202.5" x2="1337.0" y2="2215.0" stroke="#000" stroke-width="2.4"/>
<text x="1337.0" y="2254.5" font-size="36" text-anchor="middle" class="t">−1</text>
<line x1="1519.9" y1="2202.5" x2="1519.9" y2="2215.0" stroke="#000" stroke-width="2.4"/>
<text x="1519.9" y="2254.5" font-size="36" text-anchor="middle" class="t">0</text>
<line x1="1702.8" y1="2202.5" x2="1702.8" y2="2215.0" stroke="#000" stroke-width="2.4"/>
<text x="1702.8" y="2254.5" font-size="36" text-anchor="middle" class="t">1</text>
<line x1="1885.7" y1="2202.5" x2="1885.7" y2="2215.0" stroke="#000" stroke-width="2.4"/>
<text x="1885.7" y="2254.5" font-size="36" text-anchor="middle" class="t">2</text>
<text x="1471.1" y="2305.9" font-size="42.5" text-anchor="middle" textLength="247" lengthAdjust="spacingAndGlyphs" class="t">SHAP values</text>
<defs><linearGradient id="cw" x1="0" x2="1" y1="0" y2="0">
<stop offset="0.0000" stop-color="#3b4cc0"/>
<stop offset="0.0312" stop-color="#445acc"/>
<stop offset="0.0625" stop-color="#4e68d8"/>
<stop offset="0.0938" stop-color="#5875e1"/>
<stop offset="0.1250" stop-color="#6282ea"/>
<stop offset="0.1562" stop-color="#6c8ff1"/>
<stop offset="0.1875" stop-color="#779af7"/>
<stop offset="0.2188" stop-color="#82a6fb"/>
<stop offset="0.2500" stop-color="#8db0fe"/>
<stop offset="0.2812" stop-color="#98b9ff"/>
<stop offset="0.3125" stop-color="#a3c2fe"/>
<stop offset="0.3438" stop-color="#aec9fc"/>
<stop offset="0.3750" stop-color="#b9d0f9"/>
<stop offset="0.4062" stop-color="#c3d5f4"/>
<stop offset="0.4375" stop-color="#ccd9ed"/>
<stop offset="0.4688" stop-color="#d5dbe5"/>
<stop offset="0.5000" stop-color="#dddcdc"/>
<stop offset="0.5312" stop-color="#e5d8d1"/>
<stop offset="0.5625" stop-color="#ecd3c5"/>
<stop offset="0.5938" stop-color="#f1ccb8"/>
<stop offset="0.6250" stop-color="#f5c4ac"/>
<stop offset="0.6562" stop-color="#f7ba9f"/>
<stop offset="0.6875" stop-color="#f7b093"/>
<stop offset="0.7188" stop-color="#f6a586"/>
<stop offset="0.7500" stop-color="#f4987a"/>
<stop offset="0.7812" stop-color="#f08b6e"/>
<stop offset="0.8125" stop-color="#eb7d62"/>
<stop offset="0.8438" stop-color="#e46e56"/>
<stop offset="0.8750" stop-color="#dd5f4b"/>
<stop offset="0.9062" stop-color="#d44e41"/>
<stop offset="0.9375" stop-color="#ca3b37"/>
<stop offset="0.9688" stop-color="#be242e"/>
<stop offset="1.0000" stop-color="#b40426"/>
</linearGradient></defs>
<rect x="1013.3" y="2356.7" width="918.1" height="22.8" fill="url(#cw)" stroke="#000" stroke-width="2.4"/>
<line x1="1013.3" y1="2379.5" x2="1013.3" y2="2392.1" stroke="#000" stroke-width="2.4"/>
<text x="1013.3" y="2431" font-size="36" text-anchor="middle" class="t">0.0</text>
<line x1="1196.9" y1="2379.5" x2="1196.9" y2="2392.1" stroke="#000" stroke-width="2.4"/>
<text x="1196.9" y="2431" font-size="36" text-anchor="middle" class="t">0.2</text>
<line x1="1380.5" y1="2379.5" x2="1380.5" y2="2392.1" stroke="#000" stroke-width="2.4"/>
<text x="1380.5" y="2431" font-size="36" text-anchor="middle" class="t">0.4</text>
<line x1="1564.2" y1="2379.5" x2="1564.2" y2="2392.1" stroke="#000" stroke-width="2.4"/>
<text x="1564.2" y="2431" font-size="36" text-anchor="middle" class="t">0.6</text>
<line x1="1747.8" y1="2379.5" x2="1747.8" y2="2392.1" stroke="#000" stroke-width="2.4"/>
<text x="1747.8" y="2431" font-size="36" text-anchor="middle" class="t">0.8</text>
<line x1="1931.4" y1="2379.5" x2="1931.4" y2="2392.1" stroke="#000" stroke-width="2.4"/>
<text x="1931.4" y="2431" font-size="36" text-anchor="middle" class="t">1.0</text>
<text x="1470.8" y="2489.7" font-size="49.5" text-anchor="middle" textLength="878" lengthAdjust="spacingAndGlyphs" class="t2">Feature values (min-max normalized)</text>
</svg>
</body></html>
